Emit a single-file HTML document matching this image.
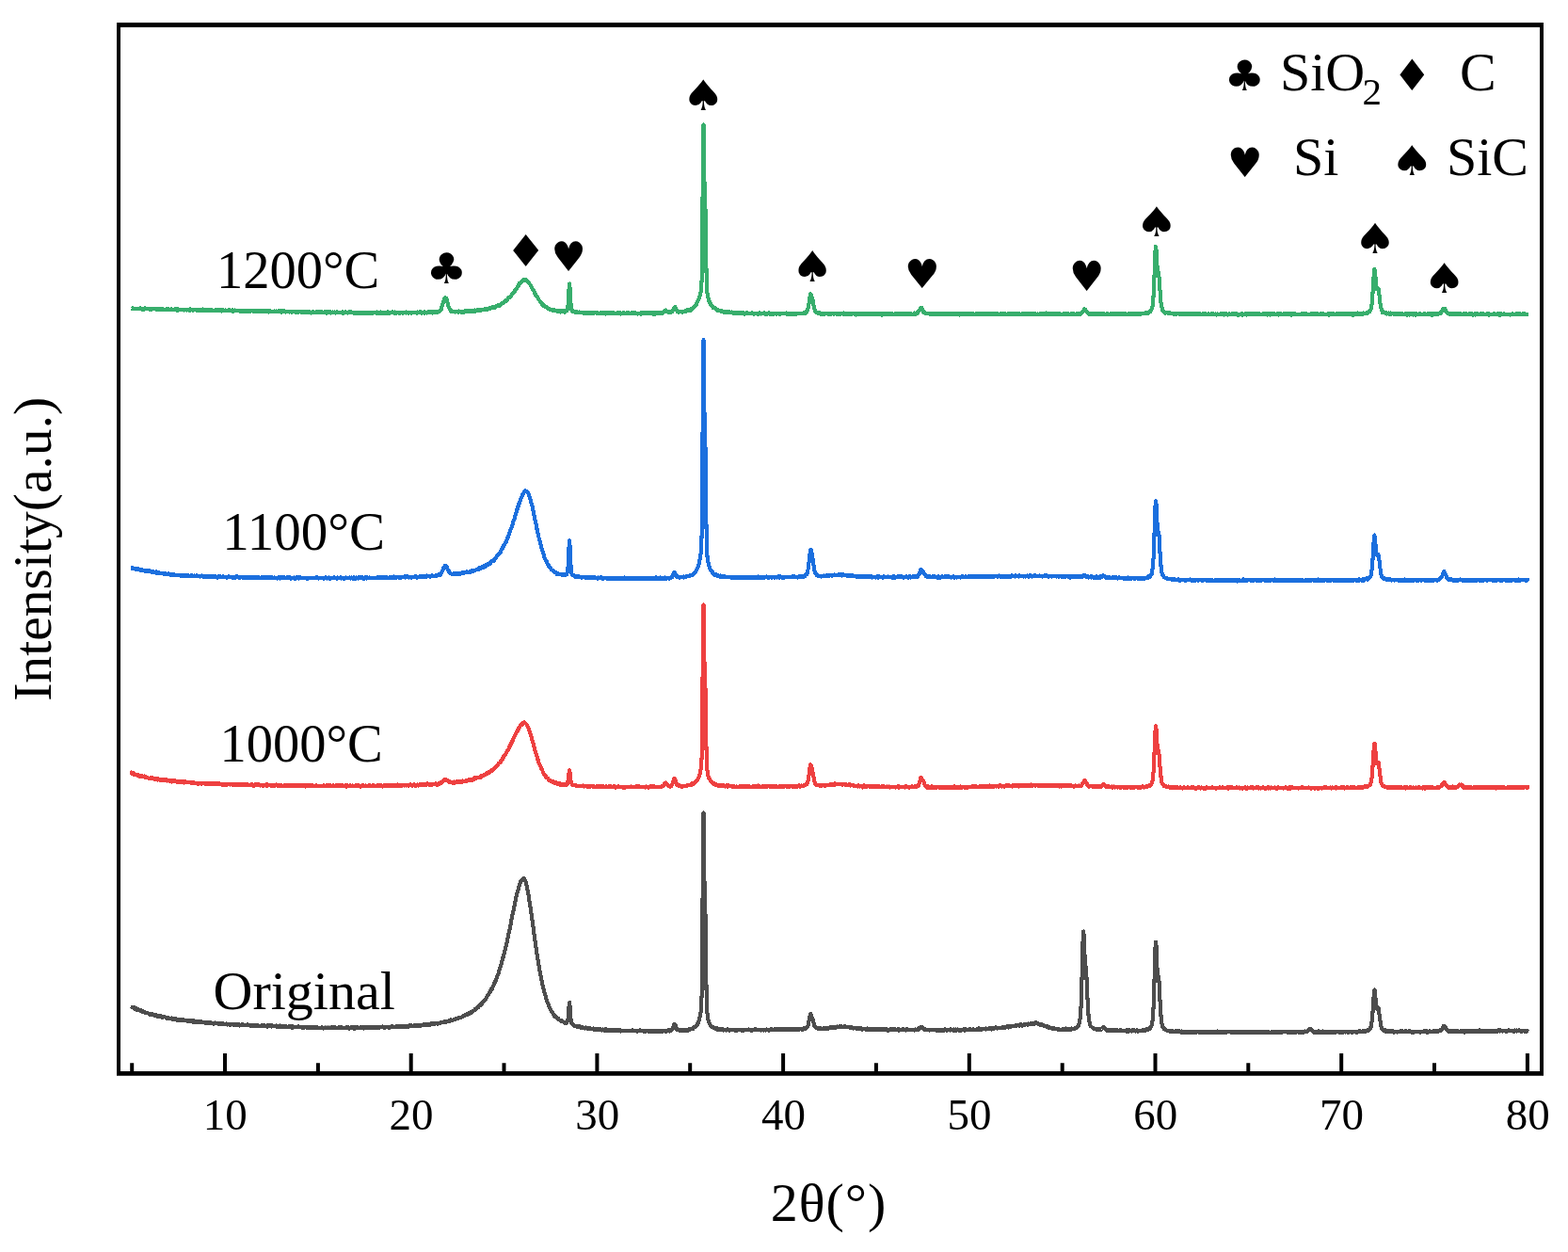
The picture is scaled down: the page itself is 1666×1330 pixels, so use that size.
<!DOCTYPE html>
<html><head><meta charset="utf-8"><style>html,body{margin:0;padding:0;background:#fff;overflow:hidden}svg{display:block}</style></head><body><svg width="1666" height="1330" viewBox="0 0 1666 1330" font-family="'Liberation Serif',serif">
<rect x="0" y="0" width="1666" height="1330" fill="#fff"/>
<defs>
<path id="ck" d="M139.5 1069.2L139.9 1069.5 140.3 1070.4 140.7 1070.2 141.1 1069.6 141.5 1070.3 141.9 1070.3 142.3 1070.7 142.7 1070.3 143.1 1071.1 143.5 1071.3 143.8 1071.9 144.2 1071.6 144.6 1071.9 145.0 1071.3 145.4 1072.8 145.8 1071.5 146.2 1072.8 146.6 1072.4 147.0 1072.4 147.4 1072.6 147.8 1072.8 148.2 1073.3 148.6 1073.3 149.0 1074.0 149.4 1073.0 149.8 1073.8 150.2 1073.7 150.6 1074.4 151.0 1073.5 151.4 1074.3 151.8 1074.7 152.2 1074.2 152.5 1075.2 152.9 1075.1 153.3 1075.5 153.7 1075.6 154.1 1075.1 154.5 1075.3 154.9 1075.6 155.3 1076.1 155.7 1076.3 156.1 1075.9 156.5 1076.0 156.9 1076.1 157.3 1076.3 157.7 1076.5 158.1 1076.7 158.5 1077.6 158.9 1076.8 159.3 1077.0 159.7 1077.4 160.1 1077.0 160.5 1077.3 160.8 1077.5 161.2 1077.9 161.6 1077.3 162.0 1078.3 162.4 1077.8 162.8 1078.1 163.2 1078.4 163.6 1078.5 164.0 1078.7 164.4 1078.5 164.8 1078.5 165.2 1078.7 165.6 1078.4 166.0 1079.2 166.4 1078.6 166.8 1078.5 167.2 1079.8 167.6 1079.1 168.0 1078.8 168.4 1080.0 168.8 1079.3 169.2 1079.9 169.5 1079.3 169.9 1079.6 170.3 1079.2 170.7 1079.2 171.1 1079.6 171.5 1080.0 171.9 1080.4 172.3 1081.1 172.7 1079.9 173.1 1080.7 173.5 1080.2 173.9 1080.5 174.3 1080.1 174.7 1080.2 175.1 1080.5 175.5 1080.4 175.9 1080.9 176.3 1080.7 176.7 1081.5 177.1 1081.2 177.5 1081.3 177.8 1081.7 178.2 1081.5 178.6 1081.4 179.0 1081.5 179.4 1081.5 179.8 1082.0 180.2 1082.0 180.6 1081.9 181.0 1082.1 181.4 1081.7 181.8 1082.2 182.2 1081.5 182.6 1082.6 183.0 1082.2 183.4 1082.3 183.8 1082.5 184.2 1082.4 184.6 1082.3 185.0 1082.9 185.4 1082.6 185.8 1082.3 186.2 1082.8 186.5 1082.1 186.9 1083.4 187.3 1082.8 187.7 1082.9 188.1 1083.7 188.5 1083.8 188.9 1083.1 189.3 1083.3 189.7 1083.5 190.1 1083.8 190.5 1083.2 190.9 1083.4 191.3 1083.8 191.7 1083.5 192.1 1083.7 192.5 1083.7 192.9 1083.2 193.3 1083.3 193.7 1082.7 194.1 1083.6 194.5 1084.2 194.8 1083.4 195.2 1084.3 195.6 1084.2 196.0 1083.9 196.4 1084.0 196.8 1084.1 197.2 1083.8 197.6 1084.0 198.0 1084.1 198.4 1084.4 198.8 1084.5 199.2 1084.0 199.6 1084.6 200.0 1084.1 200.4 1084.4 200.8 1084.6 201.2 1084.5 201.6 1084.5 202.0 1084.7 202.4 1084.4 202.8 1084.4 203.1 1084.6 203.5 1085.1 203.9 1084.8 204.3 1085.5 204.7 1084.9 205.1 1083.9 205.5 1084.8 205.9 1085.6 206.3 1085.0 206.7 1084.9 207.1 1084.8 207.5 1085.6 207.9 1085.5 208.3 1085.5 208.7 1085.4 209.1 1085.8 209.5 1085.6 209.9 1084.9 210.3 1085.7 210.7 1085.5 211.1 1085.4 211.5 1085.8 211.8 1085.6 212.2 1084.6 212.6 1086.2 213.0 1086.0 213.4 1085.7 213.8 1085.6 214.2 1085.9 214.6 1085.4 215.0 1086.0 215.4 1085.8 215.8 1085.8 216.2 1085.6 216.6 1085.7 217.0 1086.4 217.4 1086.5 217.8 1086.3 218.2 1086.1 218.6 1085.8 219.0 1086.4 219.4 1086.8 219.8 1085.7 220.1 1086.7 220.5 1085.6 220.9 1086.2 221.3 1086.5 221.7 1085.9 222.1 1085.9 222.5 1086.5 222.9 1086.8 223.3 1086.4 223.7 1087.0 224.1 1086.3 224.5 1087.2 224.9 1086.7 225.3 1086.8 225.7 1086.9 226.1 1086.9 226.5 1087.4 226.9 1087.6 227.3 1087.0 227.7 1086.8 228.1 1086.5 228.5 1086.7 228.8 1087.0 229.2 1087.0 229.6 1087.0 230.0 1087.1 230.4 1087.3 230.8 1086.6 231.2 1086.8 231.6 1087.6 232.0 1087.5 232.4 1087.0 232.8 1087.7 233.2 1087.0 233.6 1087.2 234.0 1086.7 234.4 1087.7 234.8 1087.4 235.2 1087.8 235.6 1087.7 236.0 1087.5 236.4 1087.5 236.8 1087.9 237.1 1087.5 237.5 1087.5 237.9 1087.6 238.3 1087.9 238.7 1088.0 239.1 1088.3 239.5 1087.7 239.9 1088.2 240.3 1087.5 240.7 1088.0 241.1 1087.9 241.5 1088.4 241.9 1088.1 242.3 1087.7 242.7 1088.1 243.1 1088.1 243.5 1087.8 243.9 1087.9 244.3 1087.7 244.7 1089.0 245.1 1088.1 245.5 1088.4 245.8 1087.7 246.2 1087.7 246.6 1088.1 247.0 1088.1 247.4 1088.5 247.8 1087.9 248.2 1088.4 248.6 1088.8 249.0 1088.0 249.4 1088.6 249.8 1088.0 250.2 1088.5 250.6 1088.5 251.0 1089.0 251.4 1088.2 251.8 1088.5 252.2 1088.8 252.6 1088.1 253.0 1088.5 253.4 1088.2 253.8 1088.3 254.1 1088.8 254.5 1088.8 254.9 1089.5 255.3 1089.1 255.7 1089.1 256.1 1088.6 256.5 1088.6 256.9 1088.8 257.3 1087.9 257.7 1089.3 258.1 1088.5 258.5 1088.4 258.9 1088.6 259.3 1089.1 259.7 1089.3 260.1 1088.7 260.5 1089.0 260.9 1088.9 261.3 1088.6 261.7 1089.0 262.1 1089.0 262.5 1088.4 262.8 1089.4 263.2 1088.5 263.6 1089.1 264.0 1088.7 264.4 1088.8 264.8 1088.9 265.2 1089.4 265.6 1088.7 266.0 1089.1 266.4 1089.7 266.8 1089.0 267.2 1089.2 267.6 1089.5 268.0 1089.0 268.4 1089.4 268.8 1089.1 269.2 1089.6 269.6 1089.3 270.0 1089.0 270.4 1089.9 270.8 1089.4 271.1 1089.3 271.5 1089.1 271.9 1089.3 272.3 1089.4 272.7 1089.5 273.1 1089.9 273.5 1089.1 273.9 1089.4 274.3 1090.0 274.7 1089.6 275.1 1089.7 275.5 1090.2 275.9 1089.7 276.3 1089.8 276.7 1089.6 277.1 1090.3 277.5 1090.1 277.9 1089.5 278.3 1089.9 278.7 1089.3 279.1 1090.1 279.5 1090.0 279.8 1089.7 280.2 1089.7 280.6 1089.2 281.0 1090.1 281.4 1089.8 281.8 1089.8 282.2 1090.1 282.6 1089.7 283.0 1089.7 283.4 1089.7 283.8 1089.5 284.2 1090.8 284.6 1089.9 285.0 1089.9 285.4 1090.3 285.8 1088.9 286.2 1090.0 286.6 1090.1 287.0 1089.8 287.4 1090.3 287.8 1089.4 288.1 1090.1 288.5 1090.5 288.9 1089.4 289.3 1089.7 289.7 1090.1 290.1 1090.2 290.5 1090.0 290.9 1090.3 291.3 1090.3 291.7 1089.8 292.1 1090.2 292.5 1089.8 292.9 1089.6 293.3 1089.5 293.7 1090.7 294.1 1090.3 294.5 1091.0 294.9 1089.8 295.3 1090.2 295.7 1090.5 296.1 1090.3 296.4 1090.6 296.8 1090.5 297.2 1090.2 297.6 1089.6 298.0 1090.1 298.4 1091.1 298.8 1090.8 299.2 1091.0 299.6 1090.3 300.0 1090.5 300.4 1090.3 300.8 1090.7 301.2 1090.6 301.6 1090.8 302.0 1091.2 302.4 1090.3 302.8 1090.9 303.2 1090.2 303.6 1091.1 304.0 1090.5 304.4 1090.7 304.8 1090.8 305.1 1091.3 305.5 1090.7 305.9 1090.6 306.3 1090.4 306.7 1090.9 307.1 1090.5 307.5 1090.6 307.9 1090.8 308.3 1091.1 308.7 1090.6 309.1 1091.1 309.5 1091.5 309.9 1090.4 310.3 1091.4 310.7 1091.7 311.1 1090.7 311.5 1091.1 311.9 1090.5 312.3 1091.1 312.7 1090.9 313.1 1091.1 313.4 1090.7 313.8 1090.7 314.2 1090.9 314.6 1090.8 315.0 1090.8 315.4 1091.0 315.8 1090.7 316.2 1091.0 316.6 1091.2 317.0 1090.3 317.4 1091.2 317.8 1090.8 318.2 1090.7 318.6 1090.7 319.0 1090.8 319.4 1090.9 319.8 1091.3 320.2 1090.7 320.6 1091.5 321.0 1090.9 321.4 1091.4 321.8 1091.6 322.1 1090.8 322.5 1091.6 322.9 1092.0 323.3 1091.1 323.7 1091.5 324.1 1091.2 324.5 1091.3 324.9 1091.2 325.3 1091.1 325.7 1091.6 326.1 1091.7 326.5 1091.4 326.9 1091.9 327.3 1091.8 327.7 1091.6 328.1 1091.1 328.5 1092.1 328.9 1091.9 329.3 1090.7 329.7 1091.1 330.1 1091.3 330.4 1091.8 330.8 1091.9 331.2 1091.4 331.6 1091.6 332.0 1091.7 332.4 1091.1 332.8 1091.7 333.2 1091.4 333.6 1091.6 334.0 1091.5 334.4 1091.1 334.8 1091.2 335.2 1091.6 335.6 1091.6 336.0 1091.5 336.4 1091.9 336.8 1091.5 337.2 1091.2 337.6 1091.5 338.0 1091.5 338.4 1091.6 338.8 1092.0 339.1 1091.8 339.5 1092.0 339.9 1091.9 340.3 1091.6 340.7 1092.0 341.1 1091.6 341.5 1091.7 341.9 1091.3 342.3 1091.7 342.7 1091.6 343.1 1091.8 343.5 1092.3 343.9 1092.5 344.3 1092.1 344.7 1091.7 345.1 1092.0 345.5 1091.8 345.9 1091.5 346.3 1091.7 346.7 1091.6 347.1 1091.5 347.4 1092.2 347.8 1091.6 348.2 1091.6 348.6 1092.0 349.0 1091.5 349.4 1091.4 349.8 1091.5 350.2 1091.9 350.6 1091.9 351.0 1091.9 351.4 1091.6 351.8 1091.5 352.2 1092.1 352.6 1091.3 353.0 1091.7 353.4 1091.3 353.8 1091.7 354.2 1091.7 354.6 1092.2 355.0 1090.8 355.4 1092.3 355.8 1091.5 356.1 1091.9 356.5 1092.1 356.9 1091.5 357.3 1091.8 357.7 1092.0 358.1 1091.8 358.5 1091.6 358.9 1091.9 359.3 1091.9 359.7 1091.3 360.1 1092.3 360.5 1091.9 360.9 1091.0 361.3 1091.5 361.7 1092.4 362.1 1092.4 362.5 1091.9 362.9 1091.2 363.3 1091.8 363.7 1092.2 364.1 1092.0 364.4 1091.7 364.8 1091.6 365.2 1092.1 365.6 1091.8 366.0 1092.0 366.4 1092.0 366.8 1092.4 367.2 1091.9 367.6 1091.9 368.0 1091.2 368.4 1092.2 368.8 1092.2 369.2 1091.8 369.6 1091.0 370.0 1091.6 370.4 1091.9 370.8 1092.6 371.2 1092.0 371.6 1092.1 372.0 1092.1 372.4 1092.3 372.8 1091.4 373.1 1091.5 373.5 1091.4 373.9 1091.7 374.3 1091.7 374.7 1091.9 375.1 1091.5 375.5 1091.8 375.9 1091.5 376.3 1092.6 376.7 1091.6 377.1 1092.7 377.5 1092.4 377.9 1091.4 378.3 1092.1 378.7 1092.0 379.1 1091.3 379.5 1092.0 379.9 1091.8 380.3 1091.9 380.7 1091.5 381.1 1091.8 381.4 1091.9 381.8 1091.7 382.2 1091.6 382.6 1091.7 383.0 1091.4 383.4 1091.9 383.8 1090.9 384.2 1092.3 384.6 1091.8 385.0 1091.9 385.4 1092.0 385.8 1091.3 386.2 1092.5 386.6 1091.3 387.0 1091.9 387.4 1091.8 387.8 1092.2 388.2 1091.7 388.6 1091.2 389.0 1091.8 389.4 1090.8 389.8 1091.6 390.1 1091.5 390.5 1092.2 390.9 1091.6 391.3 1091.5 391.7 1091.4 392.1 1091.3 392.5 1091.4 392.9 1091.8 393.3 1091.2 393.7 1091.5 394.1 1091.1 394.5 1091.5 394.9 1091.6 395.3 1091.1 395.7 1091.4 396.1 1091.6 396.5 1091.8 396.9 1091.9 397.3 1091.5 397.7 1091.2 398.1 1091.0 398.4 1091.8 398.8 1092.0 399.2 1091.6 399.6 1092.0 400.0 1091.3 400.4 1091.3 400.8 1092.0 401.2 1091.1 401.6 1091.7 402.0 1091.6 402.4 1091.5 402.8 1092.0 403.2 1091.1 403.6 1091.3 404.0 1090.7 404.4 1091.0 404.8 1091.2 405.2 1091.2 405.6 1091.3 406.0 1091.4 406.4 1091.1 406.7 1090.6 407.1 1091.4 407.5 1091.4 407.9 1090.9 408.3 1091.0 408.7 1091.9 409.1 1091.6 409.5 1091.6 409.9 1091.5 410.3 1091.3 410.7 1091.0 411.1 1091.4 411.5 1091.1 411.9 1091.0 412.3 1091.1 412.7 1091.1 413.1 1091.4 413.5 1090.8 413.9 1092.0 414.3 1090.7 414.7 1090.9 415.1 1091.4 415.4 1090.8 415.8 1090.9 416.2 1091.0 416.6 1090.0 417.0 1090.8 417.4 1090.6 417.8 1090.9 418.2 1091.1 418.6 1091.2 419.0 1091.4 419.4 1091.4 419.8 1091.2 420.2 1090.9 420.6 1091.2 421.0 1090.5 421.4 1090.8 421.8 1091.3 422.2 1091.1 422.6 1090.3 423.0 1090.5 423.4 1091.0 423.7 1090.9 424.1 1091.1 424.5 1090.1 424.9 1090.2 425.3 1090.5 425.7 1090.3 426.1 1090.6 426.5 1090.6 426.9 1090.7 427.3 1090.5 427.7 1090.7 428.1 1090.8 428.5 1090.5 428.9 1090.0 429.3 1090.9 429.7 1090.5 430.1 1090.5 430.5 1090.4 430.9 1089.8 431.3 1090.5 431.7 1090.1 432.1 1089.9 432.4 1090.7 432.8 1090.1 433.2 1090.3 433.6 1090.5 434.0 1090.7 434.4 1089.5 434.8 1089.8 435.2 1090.3 435.6 1089.8 436.0 1088.9 436.4 1090.1 436.8 1090.1 437.2 1090.2 437.6 1090.0 438.0 1089.7 438.4 1089.9 438.8 1089.8 439.2 1089.6 439.6 1089.9 440.0 1089.9 440.4 1089.4 440.7 1090.1 441.1 1090.0 441.5 1089.9 441.9 1088.6 442.3 1089.6 442.7 1089.5 443.1 1089.2 443.5 1089.7 443.9 1088.9 444.3 1089.8 444.7 1089.5 445.1 1089.2 445.5 1089.8 445.9 1089.4 446.3 1089.4 446.7 1088.7 447.1 1089.4 447.5 1089.6 447.9 1089.5 448.3 1088.6 448.7 1089.5 449.1 1089.5 449.4 1089.2 449.8 1088.8 450.2 1088.3 450.6 1088.5 451.0 1088.6 451.4 1088.8 451.8 1088.9 452.2 1088.4 452.6 1088.0 453.0 1088.4 453.4 1088.0 453.8 1088.9 454.2 1088.0 454.6 1088.5 455.0 1088.6 455.4 1087.9 455.8 1088.6 456.2 1088.1 456.6 1087.9 457.0 1087.8 457.4 1088.1 457.7 1088.4 458.1 1087.3 458.5 1088.1 458.9 1087.8 459.3 1087.5 459.7 1087.7 460.1 1087.7 460.5 1087.6 460.9 1087.9 461.3 1087.2 461.7 1088.1 462.1 1087.7 462.5 1087.1 462.9 1086.6 463.3 1087.2 463.7 1087.0 464.1 1087.4 464.5 1087.3 464.9 1087.7 465.3 1086.9 465.7 1087.1 466.1 1086.6 466.4 1086.6 466.8 1087.2 467.2 1086.5 467.6 1086.5 468.0 1086.3 468.4 1086.5 468.8 1086.5 469.2 1086.2 469.6 1085.8 470.0 1086.2 470.4 1085.7 470.8 1085.8 471.2 1085.9 471.6 1085.9 472.0 1084.9 472.4 1086.2 472.8 1085.8 473.2 1086.1 473.6 1086.3 474.0 1085.0 474.4 1085.0 474.7 1085.2 475.1 1085.4 475.5 1084.8 475.9 1084.7 476.3 1085.1 476.7 1084.3 477.1 1084.6 477.5 1084.8 477.9 1084.3 478.3 1084.5 478.7 1084.1 479.1 1083.5 479.5 1083.8 479.9 1083.8 480.3 1083.6 480.7 1083.6 481.1 1083.7 481.5 1083.5 481.9 1083.4 482.3 1083.0 482.7 1083.0 483.1 1082.8 483.4 1082.6 483.8 1083.2 484.2 1081.9 484.6 1082.5 485.0 1081.7 485.4 1082.0 485.8 1082.3 486.2 1081.8 486.6 1082.3 487.0 1081.3 487.4 1081.4 487.8 1081.1 488.2 1081.2 488.6 1080.9 489.0 1080.8 489.4 1080.8 489.8 1081.0 490.2 1080.5 490.6 1080.3 491.0 1080.0 491.4 1079.7 491.7 1079.3 492.1 1079.2 492.5 1079.4 492.9 1078.6 493.3 1079.3 493.7 1078.7 494.1 1078.4 494.5 1078.3 494.9 1078.5 495.3 1078.2 495.7 1078.0 496.1 1078.3 496.5 1078.3 496.9 1076.9 497.3 1077.4 497.7 1076.6 498.1 1076.2 498.5 1076.3 498.9 1076.6 499.3 1075.9 499.7 1075.6 500.1 1076.0 500.4 1075.5 500.8 1075.0 501.2 1075.5 501.6 1074.7 502.0 1074.1 502.4 1073.7 502.8 1073.6 503.2 1073.6 503.6 1073.6 504.0 1073.2 504.4 1072.7 504.8 1071.9 505.2 1072.4 505.6 1071.8 506.0 1071.0 506.4 1070.7 506.8 1070.8 507.2 1070.5 507.6 1070.4 508.0 1069.3 508.4 1070.1 508.7 1068.4 509.1 1068.6 509.5 1068.7 509.9 1068.3 510.3 1067.2 510.7 1067.3 511.1 1067.1 511.5 1066.5 511.9 1065.5 512.3 1066.0 512.7 1064.4 513.1 1064.5 513.5 1063.7 513.9 1063.4 514.3 1063.0 514.7 1062.8 515.1 1061.7 515.5 1061.7 515.9 1061.5 516.3 1060.6 516.7 1060.2 517.0 1059.6 517.4 1058.6 517.8 1058.1 518.2 1057.7 518.6 1057.2 519.0 1057.2 519.4 1056.4 519.8 1055.0 520.2 1054.4 520.6 1053.5 521.0 1052.3 521.4 1052.9 521.8 1051.9 522.2 1050.3 522.6 1050.2 523.0 1050.3 523.4 1048.8 523.8 1048.0 524.2 1047.1 524.6 1045.9 525.0 1044.9 525.4 1044.1 525.7 1043.6 526.1 1042.5 526.5 1041.9 526.9 1041.3 527.3 1039.9 527.7 1039.0 528.1 1037.5 528.5 1036.1 528.9 1036.3 529.3 1034.7 529.7 1033.7 530.1 1032.0 530.5 1030.3 530.9 1030.2 531.3 1027.8 531.7 1027.2 532.1 1025.8 532.5 1024.7 532.9 1023.6 533.3 1022.2 533.7 1019.8 534.0 1019.5 534.4 1017.0 534.8 1016.4 535.2 1014.5 535.6 1012.8 536.0 1011.4 536.4 1009.5 536.8 1008.4 537.2 1007.1 537.6 1005.3 538.0 1003.3 538.4 1002.0 538.8 1000.0 539.2 998.8 539.6 996.4 540.0 994.2 540.4 992.4 540.8 990.4 541.2 988.7 541.6 986.8 542.0 985.2 542.4 983.3 542.7 981.0 543.1 979.2 543.5 976.8 543.9 974.9 544.3 972.2 544.7 970.8 545.1 969.0 545.5 968.1 545.9 964.7 546.3 963.3 546.7 961.3 547.1 958.9 547.5 957.7 547.9 955.8 548.3 953.5 548.7 951.4 549.1 950.5 549.5 948.4 549.9 947.5 550.3 945.7 550.7 944.5 551.0 942.8 551.4 942.2 551.8 940.7 552.2 939.8 552.6 938.3 553.0 937.0 553.4 936.0 553.8 935.6 554.2 935.2 554.6 934.4 555.0 935.0 555.4 933.8 555.8 933.8 556.2 933.6 556.6 933.2 557.0 934.3 557.4 934.7 557.8 935.5 558.2 935.7 558.6 937.2 559.0 938.4 559.4 940.3 559.7 941.0 560.1 943.6 560.5 945.7 560.9 947.2 561.3 949.3 561.7 952.4 562.1 954.4 562.5 957.2 562.9 959.7 563.3 962.5 563.7 964.8 564.1 966.9 564.5 970.7 564.9 973.1 565.3 976.4 565.7 978.9 566.1 982.6 566.5 984.8 566.9 988.1 567.3 991.1 567.7 993.6 568.0 996.6 568.4 999.3 568.8 1001.7 569.2 1005.3 569.6 1007.2 570.0 1009.6 570.4 1012.6 570.8 1015.4 571.2 1017.9 571.6 1020.3 572.0 1022.6 572.4 1024.4 572.8 1027.7 573.2 1030.4 573.6 1031.7 574.0 1033.5 574.4 1036.5 574.8 1038.1 575.2 1038.7 575.6 1041.8 576.0 1043.4 576.4 1045.3 576.7 1048.2 577.1 1049.5 577.5 1050.7 577.9 1052.4 578.3 1054.4 578.7 1054.9 579.1 1057.0 579.5 1057.9 579.9 1059.7 580.3 1060.8 580.7 1061.6 581.1 1063.4 581.5 1064.4 581.9 1065.9 582.3 1066.1 582.7 1067.3 583.1 1068.0 583.5 1069.6 583.9 1069.7 584.3 1070.8 584.7 1072.1 585.0 1072.6 585.4 1073.3 585.8 1074.0 586.2 1074.7 586.6 1075.4 587.0 1075.7 587.4 1075.7 587.8 1077.4 588.2 1077.1 588.6 1078.7 589.0 1078.6 589.4 1080.1 589.8 1079.9 590.2 1080.0 590.6 1080.6 591.0 1080.2 591.4 1081.1 591.8 1081.3 592.2 1081.8 592.6 1081.4 593.0 1081.7 593.4 1083.0 593.7 1083.1 594.1 1083.2 594.5 1083.6 594.9 1083.6 595.3 1083.9 595.7 1084.6 596.1 1084.5 596.5 1085.1 596.9 1084.8 597.3 1084.6 597.7 1085.2 598.1 1085.5 598.5 1085.4 598.9 1085.8 599.3 1085.9 599.7 1086.5 600.1 1086.6 600.5 1086.8 600.9 1086.2 601.3 1086.6 601.7 1086.9 602.0 1086.4 602.4 1086.1 602.8 1085.2 603.2 1084.5 603.6 1081.6 604.0 1077.4 604.4 1071.2 604.8 1066.7 605.2 1065.0 605.6 1069.0 606.0 1075.8 606.4 1081.2 606.8 1084.9 607.2 1086.3 607.6 1087.3 608.0 1088.0 608.4 1088.4 608.8 1088.1 609.2 1089.3 609.6 1089.7 610.0 1089.2 610.3 1089.3 610.7 1089.7 611.1 1089.6 611.5 1090.3 611.9 1089.9 612.3 1090.5 612.7 1089.9 613.1 1089.9 613.5 1090.0 613.9 1090.1 614.3 1090.9 614.7 1091.1 615.1 1091.0 615.5 1091.1 615.9 1090.3 616.3 1091.5 616.7 1090.8 617.1 1091.8 617.5 1092.2 617.9 1091.5 618.3 1091.7 618.7 1091.8 619.0 1091.2 619.4 1091.3 619.8 1091.5 620.2 1091.9 620.6 1092.2 621.0 1092.0 621.4 1092.4 621.8 1091.9 622.2 1091.6 622.6 1092.2 623.0 1092.2 623.4 1091.8 623.8 1092.7 624.2 1092.0 624.6 1092.2 625.0 1092.6 625.4 1092.1 625.8 1092.8 626.2 1092.8 626.6 1092.8 627.0 1092.7 627.3 1092.6 627.7 1092.5 628.1 1093.0 628.5 1093.4 628.9 1093.2 629.3 1093.1 629.7 1093.4 630.1 1093.5 630.5 1092.6 630.9 1093.1 631.3 1093.6 631.7 1093.0 632.1 1093.1 632.5 1093.5 632.9 1093.2 633.3 1093.8 633.7 1093.3 634.1 1093.6 634.5 1094.4 634.9 1093.9 635.3 1093.0 635.7 1093.2 636.0 1093.2 636.4 1093.6 636.8 1093.1 637.2 1093.9 637.6 1094.3 638.0 1094.3 638.4 1093.5 638.8 1093.7 639.2 1093.7 639.6 1093.6 640.0 1094.5 640.4 1093.7 640.8 1093.5 641.2 1094.1 641.6 1094.1 642.0 1094.6 642.4 1094.6 642.8 1094.0 643.2 1093.3 643.6 1094.3 644.0 1094.4 644.3 1094.8 644.7 1093.6 645.1 1093.8 645.5 1094.8 645.9 1094.8 646.3 1094.7 646.7 1094.3 647.1 1094.8 647.5 1094.1 647.9 1093.9 648.3 1094.3 648.7 1094.4 649.1 1094.7 649.5 1094.8 649.9 1093.8 650.3 1094.6 650.7 1094.6 651.1 1094.0 651.5 1094.4 651.9 1094.5 652.3 1094.7 652.7 1094.3 653.0 1094.4 653.4 1094.2 653.8 1094.7 654.2 1094.5 654.6 1094.4 655.0 1094.9 655.4 1094.6 655.8 1094.3 656.2 1095.1 656.6 1095.1 657.0 1094.9 657.4 1094.4 657.8 1095.2 658.2 1094.6 658.6 1094.1 659.0 1094.8 659.4 1095.5 659.8 1094.7 660.2 1095.1 660.6 1095.3 661.0 1094.9 661.3 1094.8 661.7 1094.9 662.1 1095.1 662.5 1094.7 662.9 1095.1 663.3 1095.1 663.7 1094.8 664.1 1095.2 664.5 1095.2 664.9 1094.9 665.3 1094.9 665.7 1095.1 666.1 1095.0 666.5 1095.0 666.9 1094.7 667.3 1095.1 667.7 1095.3 668.1 1095.3 668.5 1094.8 668.9 1095.3 669.3 1095.3 669.7 1094.8 670.0 1095.3 670.4 1095.1 670.8 1095.0 671.2 1095.2 671.6 1095.1 672.0 1094.4 672.4 1095.2 672.8 1094.8 673.2 1095.1 673.6 1095.4 674.0 1095.1 674.4 1095.0 674.8 1095.3 675.2 1095.4 675.6 1094.9 676.0 1095.0 676.4 1095.4 676.8 1095.8 677.2 1095.2 677.6 1095.5 678.0 1095.0 678.3 1095.3 678.7 1095.3 679.1 1094.8 679.5 1095.3 679.9 1095.2 680.3 1094.4 680.7 1095.2 681.1 1095.4 681.5 1095.4 681.9 1095.4 682.3 1094.9 682.7 1095.0 683.1 1095.2 683.5 1095.0 683.9 1095.1 684.3 1095.7 684.7 1095.0 685.1 1095.2 685.5 1095.9 685.9 1095.3 686.3 1095.0 686.7 1095.4 687.0 1095.4 687.4 1095.4 687.8 1094.7 688.2 1095.4 688.6 1095.5 689.0 1096.0 689.4 1095.6 689.8 1095.2 690.2 1095.4 690.6 1095.6 691.0 1095.3 691.4 1095.3 691.8 1095.8 692.2 1095.5 692.6 1095.5 693.0 1095.0 693.4 1095.5 693.8 1094.7 694.2 1095.8 694.6 1095.2 695.0 1095.6 695.3 1095.8 695.7 1095.0 696.1 1095.7 696.5 1095.4 696.9 1095.7 697.3 1095.2 697.7 1095.1 698.1 1095.8 698.5 1095.5 698.9 1095.3 699.3 1094.9 699.7 1095.8 700.1 1095.2 700.5 1095.2 700.9 1095.1 701.3 1095.3 701.7 1095.5 702.1 1095.3 702.5 1095.3 702.9 1095.1 703.3 1095.8 703.7 1095.8 704.0 1095.2 704.4 1094.9 704.8 1095.3 705.2 1094.7 705.6 1095.3 706.0 1095.3 706.4 1095.3 706.8 1095.7 707.2 1095.8 707.6 1095.3 708.0 1095.0 708.4 1095.5 708.8 1095.5 709.2 1094.7 709.6 1094.8 710.0 1094.9 710.4 1094.4 710.8 1094.6 711.2 1095.5 711.6 1094.4 712.0 1095.1 712.3 1094.5 712.7 1095.0 713.1 1094.6 713.5 1094.6 713.9 1093.4 714.3 1093.5 714.7 1092.5 715.1 1092.0 715.5 1090.9 715.9 1089.6 716.3 1088.5 716.7 1088.1 717.1 1088.4 717.5 1088.9 717.9 1090.0 718.3 1091.0 718.7 1091.9 719.1 1093.3 719.5 1093.1 719.9 1094.4 720.3 1094.4 720.6 1093.7 721.0 1093.8 721.4 1094.5 721.8 1094.1 722.2 1094.6 722.6 1094.9 723.0 1094.7 723.4 1094.5 723.8 1094.5 724.2 1095.0 724.6 1094.4 725.0 1095.1 725.4 1095.2 725.8 1094.3 726.2 1094.5 726.6 1095.0 727.0 1094.1 727.4 1094.5 727.8 1094.7 728.2 1093.9 728.6 1094.4 729.0 1094.2 729.3 1094.0 729.7 1094.6 730.1 1094.0 730.5 1094.8 730.9 1094.2 731.3 1093.6 731.7 1093.9 732.1 1093.4 732.5 1093.9 732.9 1093.8 733.3 1093.0 733.7 1093.2 734.1 1093.4 734.5 1093.1 734.9 1092.6 735.3 1093.2 735.7 1093.1 736.1 1092.0 736.5 1092.8 736.9 1091.4 737.3 1091.8 737.6 1091.4 738.0 1091.2 738.4 1091.1 738.8 1090.3 739.2 1090.3 739.6 1090.5 740.0 1089.6 740.4 1089.5 740.8 1088.6 741.2 1087.1 741.6 1087.5 742.0 1086.3 742.4 1085.2 742.8 1083.6 743.2 1082.2 743.6 1080.4 744.0 1078.8 744.4 1076.5 744.8 1073.3 745.2 1068.1 745.6 1057.0 746.0 1035.0 746.3 993.6 746.7 935.4 747.1 879.8 747.5 863.4 747.9 892.1 748.3 928.0 748.7 946.3 749.1 954.1 749.5 972.5 749.9 1004.7 750.3 1037.0 750.7 1059.2 751.1 1071.5 751.5 1076.8 751.9 1080.8 752.3 1082.5 752.7 1084.1 753.1 1085.3 753.5 1086.4 753.9 1087.3 754.3 1088.4 754.6 1088.6 755.0 1089.1 755.4 1089.8 755.8 1090.0 756.2 1090.8 756.6 1090.8 757.0 1091.3 757.4 1091.2 757.8 1091.9 758.2 1092.0 758.6 1091.7 759.0 1092.0 759.4 1092.3 759.8 1092.0 760.2 1092.2 760.6 1092.9 761.0 1093.0 761.4 1093.4 761.8 1092.6 762.2 1093.0 762.6 1092.5 763.0 1093.9 763.3 1092.9 763.7 1093.3 764.1 1094.1 764.5 1094.0 764.9 1093.3 765.3 1094.4 765.7 1093.8 766.1 1093.3 766.5 1093.8 766.9 1094.0 767.3 1094.0 767.7 1093.1 768.1 1094.5 768.5 1093.3 768.9 1093.8 769.3 1094.4 769.7 1094.1 770.1 1093.9 770.5 1093.8 770.9 1094.2 771.3 1094.5 771.6 1093.8 772.0 1094.2 772.4 1093.9 772.8 1093.9 773.2 1093.4 773.6 1094.2 774.0 1094.4 774.4 1094.1 774.8 1094.5 775.2 1094.2 775.6 1094.5 776.0 1094.2 776.4 1094.0 776.8 1094.0 777.2 1094.2 777.6 1094.3 778.0 1093.9 778.4 1094.1 778.8 1093.7 779.2 1093.7 779.6 1094.4 780.0 1094.3 780.3 1094.5 780.7 1094.2 781.1 1094.3 781.5 1094.8 781.9 1093.9 782.3 1094.3 782.7 1094.7 783.1 1094.9 783.5 1094.4 783.9 1094.2 784.3 1093.8 784.7 1094.1 785.1 1094.2 785.5 1094.2 785.9 1094.4 786.3 1094.4 786.7 1094.0 787.1 1093.9 787.5 1094.1 787.9 1094.3 788.3 1094.7 788.6 1093.6 789.0 1094.5 789.4 1094.1 789.8 1094.5 790.2 1094.8 790.6 1094.3 791.0 1093.8 791.4 1094.0 791.8 1094.3 792.2 1094.0 792.6 1094.1 793.0 1093.9 793.4 1094.1 793.8 1093.9 794.2 1094.4 794.6 1094.2 795.0 1094.4 795.4 1093.6 795.8 1094.0 796.2 1093.9 796.6 1094.0 797.0 1093.8 797.3 1093.8 797.7 1094.6 798.1 1094.0 798.5 1093.7 798.9 1094.0 799.3 1094.8 799.7 1094.3 800.1 1093.8 800.5 1094.0 800.9 1094.0 801.3 1094.1 801.7 1093.4 802.1 1093.7 802.5 1094.0 802.9 1093.5 803.3 1094.0 803.7 1094.0 804.1 1094.3 804.5 1094.4 804.9 1093.9 805.3 1094.1 805.6 1094.2 806.0 1094.3 806.4 1094.0 806.8 1093.7 807.2 1094.2 807.6 1094.3 808.0 1094.0 808.4 1094.2 808.8 1094.5 809.2 1093.8 809.6 1093.7 810.0 1093.6 810.4 1094.1 810.8 1094.3 811.2 1093.8 811.6 1094.5 812.0 1093.7 812.4 1094.0 812.8 1093.9 813.2 1094.4 813.6 1093.7 814.0 1094.5 814.3 1093.8 814.7 1093.5 815.1 1093.7 815.5 1093.8 815.9 1094.4 816.3 1093.7 816.7 1093.9 817.1 1094.6 817.5 1093.9 817.9 1093.7 818.3 1093.6 818.7 1093.3 819.1 1094.0 819.5 1094.2 819.9 1093.7 820.3 1093.5 820.7 1093.9 821.1 1093.8 821.5 1093.8 821.9 1094.0 822.3 1093.8 822.6 1093.7 823.0 1094.1 823.4 1093.2 823.8 1093.4 824.2 1093.7 824.6 1093.3 825.0 1094.3 825.4 1093.0 825.8 1094.0 826.2 1093.9 826.6 1093.9 827.0 1093.9 827.4 1093.5 827.8 1093.5 828.2 1094.2 828.6 1093.7 829.0 1093.2 829.4 1093.3 829.8 1093.2 830.2 1093.8 830.6 1094.1 830.9 1093.6 831.3 1093.7 831.7 1093.5 832.1 1094.0 832.5 1094.0 832.9 1094.0 833.3 1094.3 833.7 1093.3 834.1 1093.9 834.5 1093.1 834.9 1093.9 835.3 1093.9 835.7 1093.9 836.1 1093.9 836.5 1093.6 836.9 1093.4 837.3 1093.9 837.7 1093.4 838.1 1093.9 838.5 1093.3 838.9 1093.7 839.3 1093.7 839.6 1093.3 840.0 1093.5 840.4 1093.9 840.8 1093.6 841.2 1093.8 841.6 1093.4 842.0 1093.6 842.4 1093.1 842.8 1093.3 843.2 1094.0 843.6 1093.7 844.0 1093.5 844.4 1093.6 844.8 1093.1 845.2 1093.7 845.6 1093.1 846.0 1093.3 846.4 1093.7 846.8 1093.2 847.2 1093.3 847.6 1093.4 847.9 1093.5 848.3 1093.9 848.7 1092.8 849.1 1093.3 849.5 1093.6 849.9 1093.2 850.3 1093.2 850.7 1093.0 851.1 1093.2 851.5 1093.5 851.9 1093.7 852.3 1093.3 852.7 1093.6 853.1 1093.2 853.5 1092.5 853.9 1093.3 854.3 1092.3 854.7 1092.9 855.1 1092.8 855.5 1092.4 855.9 1092.6 856.3 1092.3 856.6 1092.3 857.0 1091.9 857.4 1091.7 857.8 1090.8 858.2 1090.3 858.6 1088.9 859.0 1087.4 859.4 1085.6 859.8 1083.2 860.2 1081.6 860.6 1079.4 861.0 1077.2 861.4 1077.1 861.8 1078.4 862.2 1078.5 862.6 1080.6 863.0 1081.0 863.4 1082.4 863.8 1083.8 864.2 1085.5 864.6 1087.2 864.9 1088.8 865.3 1089.7 865.7 1090.5 866.1 1090.8 866.5 1091.5 866.9 1091.8 867.3 1092.1 867.7 1092.1 868.1 1092.1 868.5 1092.4 868.9 1091.8 869.3 1092.2 869.7 1092.4 870.1 1092.8 870.5 1092.5 870.9 1092.4 871.3 1093.0 871.7 1092.7 872.1 1093.2 872.5 1092.7 872.9 1092.5 873.3 1092.6 873.6 1093.3 874.0 1093.2 874.4 1092.7 874.8 1093.0 875.2 1092.2 875.6 1093.0 876.0 1092.7 876.4 1092.5 876.8 1092.5 877.2 1092.6 877.6 1092.3 878.0 1092.3 878.4 1092.0 878.8 1092.9 879.2 1092.0 879.6 1092.2 880.0 1092.6 880.4 1092.6 880.8 1092.6 881.2 1091.9 881.6 1091.9 881.9 1091.9 882.3 1091.3 882.7 1092.2 883.1 1091.3 883.5 1091.7 883.9 1092.0 884.3 1091.9 884.7 1091.4 885.1 1091.8 885.5 1091.8 885.9 1090.9 886.3 1091.3 886.7 1091.5 887.1 1091.4 887.5 1091.1 887.9 1091.1 888.3 1091.9 888.7 1091.0 889.1 1091.4 889.5 1090.6 889.9 1091.1 890.3 1091.2 890.6 1090.7 891.0 1090.6 891.4 1091.4 891.8 1090.7 892.2 1091.1 892.6 1090.2 893.0 1091.3 893.4 1090.0 893.8 1090.4 894.2 1090.5 894.6 1090.7 895.0 1090.7 895.4 1091.2 895.8 1091.4 896.2 1091.3 896.6 1091.0 897.0 1090.8 897.4 1090.1 897.8 1090.8 898.2 1090.6 898.6 1091.1 898.9 1090.6 899.3 1090.7 899.7 1090.7 900.1 1091.2 900.5 1091.1 900.9 1090.8 901.3 1090.6 901.7 1091.0 902.1 1091.0 902.5 1091.1 902.9 1091.4 903.3 1091.7 903.7 1091.7 904.1 1091.3 904.5 1091.3 904.9 1092.2 905.3 1091.6 905.7 1092.0 906.1 1091.9 906.5 1092.0 906.9 1092.5 907.3 1091.9 907.6 1092.4 908.0 1092.3 908.4 1092.1 908.8 1092.1 909.2 1092.1 909.6 1092.7 910.0 1092.7 910.4 1092.1 910.8 1092.6 911.2 1091.9 911.6 1092.6 912.0 1093.3 912.4 1092.3 912.8 1092.8 913.2 1092.5 913.6 1092.8 914.0 1092.5 914.4 1092.9 914.8 1092.1 915.2 1092.8 915.6 1092.9 915.9 1093.0 916.3 1093.7 916.7 1092.7 917.1 1092.9 917.5 1092.7 917.9 1093.3 918.3 1093.2 918.7 1092.8 919.1 1093.5 919.5 1093.3 919.9 1093.7 920.3 1093.5 920.7 1093.3 921.1 1093.1 921.5 1092.6 921.9 1093.2 922.3 1093.8 922.7 1093.3 923.1 1093.1 923.5 1093.5 923.9 1093.7 924.2 1094.4 924.6 1093.1 925.0 1093.4 925.4 1093.1 925.8 1093.3 926.2 1093.8 926.6 1093.5 927.0 1093.1 927.4 1094.0 927.8 1094.2 928.2 1093.8 928.6 1093.2 929.0 1093.2 929.4 1094.0 929.8 1093.3 930.2 1093.4 930.6 1093.1 931.0 1094.3 931.4 1093.4 931.8 1093.6 932.2 1093.4 932.6 1093.4 932.9 1093.3 933.3 1094.0 933.7 1093.4 934.1 1094.2 934.5 1093.3 934.9 1093.9 935.3 1094.0 935.7 1093.3 936.1 1093.8 936.5 1093.5 936.9 1093.3 937.3 1093.6 937.7 1093.1 938.1 1093.6 938.5 1093.2 938.9 1094.0 939.3 1094.3 939.7 1094.2 940.1 1093.5 940.5 1093.7 940.9 1094.4 941.2 1094.2 941.6 1094.0 942.0 1093.1 942.4 1093.7 942.8 1094.5 943.2 1094.0 943.6 1093.7 944.0 1093.8 944.4 1094.6 944.8 1094.3 945.2 1093.4 945.6 1093.4 946.0 1093.8 946.4 1094.3 946.8 1093.6 947.2 1093.6 947.6 1093.0 948.0 1093.6 948.4 1094.1 948.8 1094.1 949.2 1093.4 949.6 1094.1 949.9 1093.6 950.3 1093.4 950.7 1094.0 951.1 1093.3 951.5 1093.7 951.9 1093.6 952.3 1093.8 952.7 1093.9 953.1 1093.7 953.5 1093.6 953.9 1093.7 954.3 1093.1 954.7 1093.8 955.1 1094.6 955.5 1094.0 955.9 1094.3 956.3 1093.9 956.7 1093.9 957.1 1094.1 957.5 1094.2 957.9 1094.2 958.2 1093.7 958.6 1094.0 959.0 1093.4 959.4 1094.3 959.8 1093.9 960.2 1093.9 960.6 1093.5 961.0 1094.1 961.4 1094.3 961.8 1094.1 962.2 1094.4 962.6 1093.7 963.0 1094.3 963.4 1094.0 963.8 1093.1 964.2 1094.1 964.6 1093.6 965.0 1093.9 965.4 1093.8 965.8 1093.7 966.2 1094.4 966.6 1093.8 966.9 1094.1 967.3 1094.2 967.7 1093.9 968.1 1093.6 968.5 1094.0 968.9 1094.0 969.3 1093.7 969.7 1094.0 970.1 1094.4 970.5 1094.3 970.9 1094.5 971.3 1094.5 971.7 1094.1 972.1 1094.0 972.5 1093.6 972.9 1094.3 973.3 1093.7 973.7 1094.1 974.1 1094.4 974.5 1093.8 974.9 1093.1 975.2 1093.1 975.6 1093.1 976.0 1093.5 976.4 1092.6 976.8 1092.3 977.2 1091.5 977.6 1091.7 978.0 1091.3 978.4 1091.4 978.8 1090.9 979.2 1091.7 979.6 1091.3 980.0 1091.9 980.4 1092.4 980.8 1092.8 981.2 1093.3 981.6 1092.6 982.0 1093.6 982.4 1093.6 982.8 1093.4 983.2 1093.8 983.6 1094.1 983.9 1093.8 984.3 1093.8 984.7 1094.2 985.1 1093.8 985.5 1094.4 985.9 1094.2 986.3 1094.2 986.7 1094.3 987.1 1094.5 987.5 1093.8 987.9 1094.5 988.3 1093.8 988.7 1094.2 989.1 1094.3 989.5 1094.2 989.9 1093.7 990.3 1093.7 990.7 1093.8 991.1 1094.1 991.5 1094.2 991.9 1094.3 992.2 1093.6 992.6 1094.3 993.0 1094.5 993.4 1094.2 993.8 1094.1 994.2 1094.4 994.6 1094.7 995.0 1094.7 995.4 1094.7 995.8 1093.7 996.2 1094.7 996.6 1094.1 997.0 1094.5 997.4 1094.0 997.8 1094.3 998.2 1094.0 998.6 1094.1 999.0 1094.8 999.4 1093.8 999.8 1094.5 1000.2 1094.2 1000.6 1093.8 1000.9 1094.6 1001.3 1094.2 1001.7 1094.0 1002.1 1094.3 1002.5 1093.9 1002.9 1094.7 1003.3 1093.6 1003.7 1094.0 1004.1 1093.5 1004.5 1094.2 1004.9 1094.4 1005.3 1094.5 1005.7 1094.7 1006.1 1094.2 1006.5 1094.0 1006.9 1094.5 1007.3 1093.9 1007.7 1094.3 1008.1 1094.0 1008.5 1093.9 1008.9 1094.1 1009.2 1094.5 1009.6 1094.5 1010.0 1094.2 1010.4 1093.2 1010.8 1094.1 1011.2 1094.3 1011.6 1094.3 1012.0 1093.9 1012.4 1094.5 1012.8 1094.2 1013.2 1093.5 1013.6 1094.4 1014.0 1094.7 1014.4 1094.2 1014.8 1093.8 1015.2 1094.7 1015.6 1094.5 1016.0 1093.5 1016.4 1094.5 1016.8 1094.2 1017.2 1094.2 1017.6 1093.5 1017.9 1093.5 1018.3 1094.1 1018.7 1094.7 1019.1 1094.1 1019.5 1094.1 1019.9 1093.8 1020.3 1093.9 1020.7 1094.4 1021.1 1093.8 1021.5 1094.7 1021.9 1094.2 1022.3 1094.1 1022.7 1094.0 1023.1 1093.8 1023.5 1093.9 1023.9 1093.5 1024.3 1094.0 1024.7 1093.3 1025.1 1094.7 1025.5 1093.9 1025.9 1093.4 1026.2 1094.0 1026.6 1094.0 1027.0 1093.7 1027.4 1094.0 1027.8 1093.6 1028.2 1093.8 1028.6 1093.8 1029.0 1094.0 1029.4 1093.7 1029.8 1093.9 1030.2 1092.9 1030.6 1094.2 1031.0 1093.9 1031.4 1094.0 1031.8 1093.7 1032.2 1094.1 1032.6 1093.8 1033.0 1093.8 1033.4 1093.8 1033.8 1093.6 1034.2 1093.4 1034.5 1093.9 1034.9 1093.9 1035.3 1093.7 1035.7 1094.1 1036.1 1093.7 1036.5 1093.8 1036.9 1094.0 1037.3 1093.9 1037.7 1093.6 1038.1 1093.2 1038.5 1093.3 1038.9 1093.2 1039.3 1093.8 1039.7 1092.3 1040.1 1094.2 1040.5 1093.2 1040.9 1093.9 1041.3 1093.6 1041.7 1093.7 1042.1 1093.0 1042.5 1093.8 1042.9 1093.4 1043.2 1093.6 1043.6 1093.0 1044.0 1093.3 1044.4 1093.1 1044.8 1093.4 1045.2 1093.5 1045.6 1093.2 1046.0 1093.4 1046.4 1093.4 1046.8 1093.2 1047.2 1093.1 1047.6 1092.5 1048.0 1093.5 1048.4 1093.1 1048.8 1093.0 1049.2 1093.1 1049.6 1092.8 1050.0 1092.9 1050.4 1093.1 1050.8 1092.4 1051.2 1092.8 1051.5 1092.9 1051.9 1092.3 1052.3 1092.4 1052.7 1093.2 1053.1 1093.5 1053.5 1092.8 1053.9 1092.9 1054.3 1092.3 1054.7 1093.1 1055.1 1092.6 1055.5 1092.6 1055.9 1092.6 1056.3 1092.3 1056.7 1092.2 1057.1 1092.4 1057.5 1092.0 1057.9 1092.1 1058.3 1091.4 1058.7 1091.9 1059.1 1092.3 1059.5 1092.5 1059.9 1092.3 1060.2 1091.8 1060.6 1092.0 1061.0 1091.6 1061.4 1091.6 1061.8 1092.2 1062.2 1091.7 1062.6 1091.7 1063.0 1091.8 1063.4 1092.0 1063.8 1091.7 1064.2 1091.5 1064.6 1091.7 1065.0 1091.5 1065.4 1091.4 1065.8 1090.7 1066.2 1091.1 1066.6 1091.3 1067.0 1090.9 1067.4 1091.9 1067.8 1092.0 1068.2 1091.7 1068.5 1090.8 1068.9 1091.2 1069.3 1091.1 1069.7 1091.1 1070.1 1090.3 1070.5 1091.2 1070.9 1091.4 1071.3 1091.0 1071.7 1091.4 1072.1 1090.5 1072.5 1090.8 1072.9 1091.0 1073.3 1090.1 1073.7 1090.4 1074.1 1090.1 1074.5 1090.6 1074.9 1089.9 1075.3 1090.3 1075.7 1090.0 1076.1 1090.4 1076.5 1089.9 1076.9 1089.9 1077.2 1090.0 1077.6 1089.6 1078.0 1089.7 1078.4 1089.7 1078.8 1089.5 1079.2 1089.7 1079.6 1089.3 1080.0 1089.6 1080.4 1089.4 1080.8 1089.2 1081.2 1089.0 1081.6 1088.7 1082.0 1089.0 1082.4 1089.4 1082.8 1089.0 1083.2 1089.6 1083.6 1088.7 1084.0 1088.9 1084.4 1088.4 1084.8 1089.3 1085.2 1088.4 1085.5 1088.9 1085.9 1088.8 1086.3 1089.6 1086.7 1089.1 1087.1 1088.9 1087.5 1088.6 1087.9 1089.2 1088.3 1088.4 1088.7 1088.0 1089.1 1088.7 1089.5 1088.3 1089.9 1088.1 1090.3 1088.4 1090.7 1088.4 1091.1 1087.7 1091.5 1088.5 1091.9 1088.8 1092.3 1088.0 1092.7 1087.6 1093.1 1088.2 1093.5 1088.0 1093.9 1088.3 1094.2 1088.3 1094.6 1087.9 1095.0 1088.4 1095.4 1087.2 1095.8 1087.6 1096.2 1087.9 1096.6 1087.9 1097.0 1087.7 1097.4 1087.9 1097.8 1087.2 1098.2 1086.8 1098.6 1087.7 1099.0 1087.7 1099.4 1087.0 1099.8 1086.2 1100.2 1086.1 1100.6 1086.2 1101.0 1086.0 1101.4 1086.4 1101.8 1086.8 1102.2 1087.1 1102.5 1087.0 1102.9 1087.8 1103.3 1087.8 1103.7 1088.0 1104.1 1088.1 1104.5 1088.2 1104.9 1088.0 1105.3 1088.6 1105.7 1088.3 1106.1 1088.7 1106.5 1089.1 1106.9 1089.3 1107.3 1088.5 1107.7 1089.0 1108.1 1089.0 1108.5 1089.6 1108.9 1089.4 1109.3 1090.1 1109.7 1089.7 1110.1 1090.2 1110.5 1089.8 1110.9 1090.0 1111.2 1090.3 1111.6 1090.7 1112.0 1090.0 1112.4 1090.8 1112.8 1090.4 1113.2 1091.1 1113.6 1090.6 1114.0 1091.2 1114.4 1091.8 1114.8 1092.0 1115.2 1091.3 1115.6 1092.3 1116.0 1091.7 1116.4 1092.0 1116.8 1092.2 1117.2 1092.2 1117.6 1092.4 1118.0 1092.4 1118.4 1092.7 1118.8 1092.6 1119.2 1092.4 1119.5 1092.3 1119.9 1092.4 1120.3 1092.8 1120.7 1093.1 1121.1 1093.0 1121.5 1092.9 1121.9 1093.2 1122.3 1092.9 1122.7 1093.2 1123.1 1093.3 1123.5 1093.1 1123.9 1093.7 1124.3 1093.7 1124.7 1093.2 1125.1 1093.6 1125.5 1093.5 1125.9 1093.5 1126.3 1093.6 1126.7 1093.9 1127.1 1093.6 1127.5 1093.6 1127.9 1093.8 1128.2 1093.8 1128.6 1094.1 1129.0 1093.3 1129.4 1093.8 1129.8 1093.0 1130.2 1093.6 1130.6 1093.2 1131.0 1093.1 1131.4 1093.6 1131.8 1093.2 1132.2 1093.5 1132.6 1092.6 1133.0 1094.0 1133.4 1092.6 1133.8 1093.3 1134.2 1094.1 1134.6 1093.0 1135.0 1094.1 1135.4 1093.8 1135.8 1093.4 1136.2 1093.3 1136.5 1093.3 1136.9 1093.4 1137.3 1093.6 1137.7 1093.7 1138.1 1092.5 1138.5 1093.5 1138.9 1093.3 1139.3 1092.6 1139.7 1093.3 1140.1 1093.2 1140.5 1093.1 1140.9 1092.7 1141.3 1092.8 1141.7 1092.9 1142.1 1092.1 1142.5 1092.0 1142.9 1091.8 1143.3 1092.1 1143.7 1091.5 1144.1 1091.0 1144.5 1090.5 1144.8 1090.1 1145.2 1090.1 1145.6 1089.8 1146.0 1089.2 1146.4 1087.5 1146.8 1086.3 1147.2 1084.5 1147.6 1081.9 1148.0 1077.6 1148.4 1072.5 1148.8 1063.5 1149.2 1051.6 1149.6 1036.4 1150.0 1021.4 1150.4 1005.3 1150.8 993.3 1151.2 989.5 1151.6 993.4 1152.0 1003.1 1152.4 1012.3 1152.8 1020.1 1153.2 1024.3 1153.5 1026.3 1153.9 1029.1 1154.3 1035.1 1154.7 1043.1 1155.1 1052.1 1155.5 1061.1 1155.9 1069.1 1156.3 1075.8 1156.7 1079.9 1157.1 1084.1 1157.5 1085.9 1157.9 1087.3 1158.3 1088.8 1158.7 1090.3 1159.1 1090.0 1159.5 1090.6 1159.9 1090.7 1160.3 1091.5 1160.7 1091.8 1161.1 1092.0 1161.5 1092.0 1161.8 1092.5 1162.2 1092.8 1162.6 1092.5 1163.0 1092.7 1163.4 1092.7 1163.8 1092.8 1164.2 1093.5 1164.6 1092.8 1165.0 1093.3 1165.4 1093.7 1165.8 1093.2 1166.2 1093.6 1166.6 1093.7 1167.0 1093.0 1167.4 1093.8 1167.8 1093.2 1168.2 1093.5 1168.6 1092.9 1169.0 1092.8 1169.4 1093.2 1169.8 1093.6 1170.2 1093.7 1170.5 1093.5 1170.9 1092.7 1171.3 1092.3 1171.7 1091.8 1172.1 1091.5 1172.5 1091.0 1172.9 1091.1 1173.3 1091.7 1173.7 1092.0 1174.1 1092.1 1174.5 1092.3 1174.9 1092.8 1175.3 1094.5 1175.7 1093.4 1176.1 1094.3 1176.5 1094.4 1176.9 1094.4 1177.3 1093.9 1177.7 1094.9 1178.1 1094.4 1178.5 1094.1 1178.8 1094.1 1179.2 1094.3 1179.6 1095.1 1180.0 1094.0 1180.4 1094.2 1180.8 1094.5 1181.2 1094.7 1181.6 1094.1 1182.0 1094.2 1182.4 1094.3 1182.8 1094.8 1183.2 1094.5 1183.6 1094.5 1184.0 1094.7 1184.4 1094.6 1184.8 1095.0 1185.2 1094.4 1185.6 1094.7 1186.0 1094.4 1186.4 1094.9 1186.8 1095.0 1187.2 1094.6 1187.5 1095.1 1187.9 1094.7 1188.3 1095.2 1188.7 1094.6 1189.1 1094.6 1189.5 1094.3 1189.9 1094.4 1190.3 1094.7 1190.7 1094.1 1191.1 1094.8 1191.5 1095.1 1191.9 1095.0 1192.3 1094.9 1192.7 1095.1 1193.1 1094.7 1193.5 1094.7 1193.9 1095.2 1194.3 1094.8 1194.7 1095.2 1195.1 1094.7 1195.5 1095.1 1195.8 1095.3 1196.2 1094.9 1196.6 1095.5 1197.0 1095.5 1197.4 1094.1 1197.8 1095.9 1198.2 1094.4 1198.6 1095.8 1199.0 1094.7 1199.4 1094.2 1199.8 1094.5 1200.2 1095.1 1200.6 1094.6 1201.0 1094.8 1201.4 1095.4 1201.8 1094.7 1202.2 1095.2 1202.6 1095.5 1203.0 1094.4 1203.4 1094.6 1203.8 1095.1 1204.2 1095.0 1204.5 1095.1 1204.9 1094.3 1205.3 1094.7 1205.7 1095.2 1206.1 1095.2 1206.5 1095.5 1206.9 1094.9 1207.3 1094.8 1207.7 1094.7 1208.1 1094.7 1208.5 1094.3 1208.9 1095.6 1209.3 1094.8 1209.7 1094.7 1210.1 1094.7 1210.5 1095.2 1210.9 1095.0 1211.3 1094.7 1211.7 1095.3 1212.1 1095.0 1212.5 1094.8 1212.8 1094.8 1213.2 1095.2 1213.6 1095.0 1214.0 1094.7 1214.4 1095.1 1214.8 1093.9 1215.2 1094.9 1215.6 1094.3 1216.0 1094.3 1216.4 1094.4 1216.8 1095.1 1217.2 1094.3 1217.6 1094.2 1218.0 1094.4 1218.4 1093.4 1218.8 1093.9 1219.2 1094.1 1219.6 1093.3 1220.0 1093.7 1220.4 1093.0 1220.8 1092.5 1221.2 1093.1 1221.5 1092.5 1221.9 1092.3 1222.3 1091.7 1222.7 1090.7 1223.1 1090.7 1223.5 1089.5 1223.9 1088.1 1224.3 1085.8 1224.7 1082.5 1225.1 1078.8 1225.5 1071.8 1225.9 1062.2 1226.3 1049.7 1226.7 1036.0 1227.1 1020.0 1227.5 1006.9 1227.9 1000.6 1228.3 1001.1 1228.7 1008.8 1229.1 1018.9 1229.5 1028.4 1229.8 1033.8 1230.2 1036.6 1230.6 1036.8 1231.0 1038.1 1231.4 1041.0 1231.8 1047.9 1232.2 1056.3 1232.6 1064.9 1233.0 1072.6 1233.4 1077.9 1233.8 1082.4 1234.2 1086.1 1234.6 1088.0 1235.0 1090.4 1235.4 1091.3 1235.8 1091.3 1236.2 1092.3 1236.6 1093.1 1237.0 1092.7 1237.4 1093.2 1237.8 1093.6 1238.1 1094.3 1238.5 1094.2 1238.9 1094.2 1239.3 1094.5 1239.7 1094.5 1240.1 1094.7 1240.5 1094.9 1240.9 1094.9 1241.3 1095.2 1241.7 1095.0 1242.1 1095.0 1242.5 1095.1 1242.9 1094.7 1243.3 1095.1 1243.7 1096.0 1244.1 1095.4 1244.5 1095.6 1244.9 1095.8 1245.3 1095.4 1245.7 1095.5 1246.1 1095.8 1246.5 1095.3 1246.8 1096.0 1247.2 1095.9 1247.6 1095.8 1248.0 1095.8 1248.4 1096.0 1248.8 1095.8 1249.2 1095.0 1249.6 1096.0 1250.0 1095.5 1250.4 1095.7 1250.8 1095.8 1251.2 1095.8 1251.6 1095.4 1252.0 1095.3 1252.4 1096.0 1252.8 1096.0 1253.2 1096.2 1253.6 1095.6 1254.0 1095.9 1254.4 1096.3 1254.8 1095.9 1255.1 1095.9 1255.5 1096.8 1255.9 1095.5 1256.3 1095.8 1256.7 1095.8 1257.1 1096.0 1257.5 1097.3 1257.9 1095.8 1258.3 1096.1 1258.7 1096.0 1259.1 1095.9 1259.5 1096.5 1259.9 1096.0 1260.3 1096.6 1260.7 1096.7 1261.1 1096.1 1261.5 1096.7 1261.9 1095.8 1262.3 1096.4 1262.7 1096.6 1263.1 1095.9 1263.5 1096.3 1263.8 1096.5 1264.2 1096.5 1264.6 1096.4 1265.0 1097.0 1265.4 1096.3 1265.8 1096.7 1266.2 1097.1 1266.6 1096.1 1267.0 1096.2 1267.4 1096.0 1267.8 1096.6 1268.2 1096.8 1268.6 1095.7 1269.0 1096.0 1269.4 1096.1 1269.8 1097.1 1270.2 1096.2 1270.6 1096.5 1271.0 1095.9 1271.4 1096.7 1271.8 1096.0 1272.1 1096.3 1272.5 1096.0 1272.9 1096.3 1273.3 1096.3 1273.7 1096.4 1274.1 1096.4 1274.5 1097.0 1274.9 1096.1 1275.3 1096.8 1275.7 1096.5 1276.1 1096.3 1276.5 1096.5 1276.9 1096.5 1277.3 1096.7 1277.7 1096.7 1278.1 1096.6 1278.5 1096.5 1278.9 1095.8 1279.3 1096.7 1279.7 1096.8 1280.1 1096.5 1280.5 1096.5 1280.8 1096.1 1281.2 1096.5 1281.6 1096.7 1282.0 1095.9 1282.4 1096.2 1282.8 1096.2 1283.2 1096.8 1283.6 1096.2 1284.0 1095.8 1284.4 1096.5 1284.8 1096.9 1285.2 1096.3 1285.6 1096.3 1286.0 1096.5 1286.4 1097.0 1286.8 1096.3 1287.2 1096.3 1287.6 1096.5 1288.0 1096.1 1288.4 1095.8 1288.8 1096.5 1289.1 1096.3 1289.5 1096.5 1289.9 1096.5 1290.3 1096.6 1290.7 1096.0 1291.1 1096.5 1291.5 1096.1 1291.9 1096.5 1292.3 1096.3 1292.7 1097.0 1293.1 1096.1 1293.5 1095.6 1293.9 1096.5 1294.3 1096.3 1294.7 1096.1 1295.1 1096.5 1295.5 1097.0 1295.9 1096.4 1296.3 1096.2 1296.7 1096.9 1297.1 1096.8 1297.5 1096.4 1297.8 1096.2 1298.2 1096.7 1298.6 1096.2 1299.0 1096.2 1299.4 1096.1 1299.8 1096.6 1300.2 1096.9 1300.6 1096.4 1301.0 1097.0 1301.4 1095.7 1301.8 1096.4 1302.2 1095.8 1302.6 1096.7 1303.0 1096.8 1303.4 1095.8 1303.8 1096.1 1304.2 1096.4 1304.6 1095.9 1305.0 1096.1 1305.4 1096.0 1305.8 1096.4 1306.1 1096.1 1306.5 1096.0 1306.9 1096.1 1307.3 1096.3 1307.7 1096.4 1308.1 1096.3 1308.5 1096.8 1308.9 1096.2 1309.3 1096.4 1309.7 1096.6 1310.1 1096.3 1310.5 1096.8 1310.9 1096.6 1311.3 1096.6 1311.7 1096.1 1312.1 1096.3 1312.5 1096.6 1312.9 1096.7 1313.3 1096.2 1313.7 1096.2 1314.1 1095.9 1314.5 1095.9 1314.8 1096.8 1315.2 1096.4 1315.6 1096.6 1316.0 1096.8 1316.4 1096.4 1316.8 1096.4 1317.2 1096.0 1317.6 1096.2 1318.0 1096.5 1318.4 1096.9 1318.8 1096.8 1319.2 1096.2 1319.6 1096.1 1320.0 1096.6 1320.4 1096.6 1320.8 1096.6 1321.2 1096.5 1321.6 1096.8 1322.0 1096.5 1322.4 1096.9 1322.8 1096.6 1323.1 1096.4 1323.5 1096.0 1323.9 1096.5 1324.3 1096.7 1324.7 1096.5 1325.1 1096.1 1325.5 1095.8 1325.9 1096.3 1326.3 1097.0 1326.7 1096.0 1327.1 1096.3 1327.5 1096.5 1327.9 1096.8 1328.3 1096.1 1328.7 1096.4 1329.1 1096.5 1329.5 1096.0 1329.9 1096.6 1330.3 1096.1 1330.7 1096.5 1331.1 1096.6 1331.5 1096.5 1331.8 1096.0 1332.2 1096.7 1332.6 1096.7 1333.0 1096.5 1333.4 1096.7 1333.8 1096.3 1334.2 1096.1 1334.6 1096.4 1335.0 1096.6 1335.4 1096.7 1335.8 1096.2 1336.2 1096.5 1336.6 1096.5 1337.0 1096.3 1337.4 1095.7 1337.8 1095.8 1338.2 1096.7 1338.6 1095.9 1339.0 1095.8 1339.4 1095.9 1339.8 1096.3 1340.1 1096.8 1340.5 1096.5 1340.9 1096.2 1341.3 1096.3 1341.7 1096.6 1342.1 1096.4 1342.5 1095.8 1342.9 1096.8 1343.3 1096.7 1343.7 1096.0 1344.1 1096.3 1344.5 1096.6 1344.9 1096.5 1345.3 1096.3 1345.7 1096.4 1346.1 1097.0 1346.5 1096.3 1346.9 1096.8 1347.3 1096.5 1347.7 1096.0 1348.1 1096.6 1348.4 1096.5 1348.8 1096.8 1349.2 1097.0 1349.6 1096.8 1350.0 1096.5 1350.4 1096.6 1350.8 1096.7 1351.2 1096.2 1351.6 1096.1 1352.0 1096.7 1352.4 1096.0 1352.8 1096.3 1353.2 1097.0 1353.6 1096.7 1354.0 1096.8 1354.4 1096.4 1354.8 1096.8 1355.2 1096.1 1355.6 1096.1 1356.0 1096.4 1356.4 1096.2 1356.8 1096.9 1357.1 1096.4 1357.5 1096.0 1357.9 1096.7 1358.3 1096.7 1358.7 1096.8 1359.1 1096.0 1359.5 1096.1 1359.9 1095.6 1360.3 1096.5 1360.7 1096.4 1361.1 1096.2 1361.5 1096.9 1361.9 1096.1 1362.3 1096.2 1362.7 1096.1 1363.1 1096.0 1363.5 1096.4 1363.9 1096.3 1364.3 1096.3 1364.7 1096.0 1365.1 1095.9 1365.4 1096.2 1365.8 1096.4 1366.2 1096.1 1366.6 1096.2 1367.0 1096.2 1367.4 1096.0 1367.8 1095.9 1368.2 1096.3 1368.6 1096.9 1369.0 1096.5 1369.4 1096.3 1369.8 1096.1 1370.2 1096.2 1370.6 1096.7 1371.0 1096.0 1371.4 1097.0 1371.8 1096.4 1372.2 1096.5 1372.6 1096.3 1373.0 1096.7 1373.4 1096.7 1373.8 1096.1 1374.1 1097.0 1374.5 1096.5 1374.9 1095.9 1375.3 1096.6 1375.7 1096.5 1376.1 1096.5 1376.5 1096.7 1376.9 1096.8 1377.3 1096.0 1377.7 1096.3 1378.1 1096.3 1378.5 1096.4 1378.9 1095.8 1379.3 1096.5 1379.7 1096.4 1380.1 1097.0 1380.5 1096.1 1380.9 1096.2 1381.3 1096.5 1381.7 1096.3 1382.1 1096.6 1382.4 1096.8 1382.8 1096.0 1383.2 1096.4 1383.6 1096.5 1384.0 1096.1 1384.4 1097.1 1384.8 1096.4 1385.2 1096.3 1385.6 1095.7 1386.0 1096.0 1386.4 1095.5 1386.8 1096.4 1387.2 1095.8 1387.6 1096.1 1388.0 1096.1 1388.4 1095.9 1388.8 1095.5 1389.2 1095.6 1389.6 1094.7 1390.0 1094.1 1390.4 1093.8 1390.8 1094.2 1391.1 1094.1 1391.5 1093.2 1391.9 1093.2 1392.3 1093.7 1392.7 1093.4 1393.1 1094.0 1393.5 1094.1 1393.9 1095.0 1394.3 1094.3 1394.7 1095.0 1395.1 1095.1 1395.5 1095.8 1395.9 1096.1 1396.3 1096.0 1396.7 1096.8 1397.1 1096.1 1397.5 1095.8 1397.9 1096.0 1398.3 1096.4 1398.7 1096.4 1399.1 1097.0 1399.4 1096.3 1399.8 1095.9 1400.2 1095.9 1400.6 1096.5 1401.0 1095.3 1401.4 1096.4 1401.8 1096.6 1402.2 1096.1 1402.6 1096.4 1403.0 1096.7 1403.4 1096.8 1403.8 1096.8 1404.2 1096.6 1404.6 1096.2 1405.0 1095.9 1405.4 1095.6 1405.8 1096.9 1406.2 1096.6 1406.6 1095.8 1407.0 1096.7 1407.4 1096.1 1407.8 1096.1 1408.1 1095.9 1408.5 1097.0 1408.9 1095.8 1409.3 1095.9 1409.7 1096.5 1410.1 1096.6 1410.5 1096.5 1410.9 1095.9 1411.3 1096.2 1411.7 1096.0 1412.1 1096.1 1412.5 1096.9 1412.9 1096.4 1413.3 1096.6 1413.7 1096.0 1414.1 1096.1 1414.5 1096.4 1414.9 1096.7 1415.3 1096.2 1415.7 1096.8 1416.1 1097.1 1416.4 1095.7 1416.8 1096.3 1417.2 1096.5 1417.6 1096.2 1418.0 1096.9 1418.4 1096.3 1418.8 1096.4 1419.2 1095.7 1419.6 1096.6 1420.0 1096.2 1420.4 1096.4 1420.8 1096.2 1421.2 1096.0 1421.6 1096.2 1422.0 1095.8 1422.4 1096.2 1422.8 1096.6 1423.2 1096.6 1423.6 1095.9 1424.0 1096.5 1424.4 1096.1 1424.8 1096.0 1425.1 1096.4 1425.5 1096.5 1425.9 1096.0 1426.3 1096.6 1426.7 1096.2 1427.1 1097.0 1427.5 1095.7 1427.9 1096.1 1428.3 1096.1 1428.7 1095.9 1429.1 1095.7 1429.5 1096.6 1429.9 1096.3 1430.3 1095.7 1430.7 1096.0 1431.1 1096.1 1431.5 1096.3 1431.9 1095.8 1432.3 1096.7 1432.7 1096.2 1433.1 1096.7 1433.4 1096.4 1433.8 1096.1 1434.2 1096.1 1434.6 1096.3 1435.0 1096.2 1435.4 1096.2 1435.8 1096.4 1436.2 1096.6 1436.6 1095.8 1437.0 1095.6 1437.4 1095.8 1437.8 1096.5 1438.2 1096.0 1438.6 1095.9 1439.0 1096.2 1439.4 1096.3 1439.8 1095.7 1440.2 1095.7 1440.6 1096.0 1441.0 1096.0 1441.4 1095.8 1441.7 1096.8 1442.1 1096.4 1442.5 1095.9 1442.9 1096.2 1443.3 1095.5 1443.7 1096.3 1444.1 1095.9 1444.5 1095.7 1444.9 1095.4 1445.3 1096.2 1445.7 1095.9 1446.1 1095.6 1446.5 1096.2 1446.9 1095.7 1447.3 1095.8 1447.7 1095.6 1448.1 1095.8 1448.5 1095.3 1448.9 1095.5 1449.3 1095.6 1449.7 1095.2 1450.1 1095.3 1450.4 1095.7 1450.8 1095.2 1451.2 1095.6 1451.6 1095.3 1452.0 1095.1 1452.4 1094.5 1452.8 1095.4 1453.2 1095.2 1453.6 1094.7 1454.0 1094.4 1454.4 1094.2 1454.8 1093.7 1455.2 1093.4 1455.6 1093.2 1456.0 1091.9 1456.4 1091.5 1456.8 1090.3 1457.2 1087.7 1457.6 1085.4 1458.0 1081.5 1458.4 1076.9 1458.7 1072.0 1459.1 1065.2 1459.5 1060.3 1459.9 1054.3 1460.3 1051.4 1460.7 1052.2 1461.1 1055.5 1461.5 1060.2 1461.9 1064.8 1462.3 1068.5 1462.7 1071.1 1463.1 1072.1 1463.5 1071.5 1463.9 1071.0 1464.3 1070.3 1464.7 1071.2 1465.1 1073.4 1465.5 1077.1 1465.9 1079.8 1466.3 1083.3 1466.7 1086.2 1467.1 1088.7 1467.4 1090.0 1467.8 1091.5 1468.2 1092.9 1468.6 1093.3 1469.0 1093.5 1469.4 1094.5 1469.8 1094.4 1470.2 1094.3 1470.6 1095.0 1471.0 1095.4 1471.4 1094.8 1471.8 1094.7 1472.2 1094.3 1472.6 1095.9 1473.0 1095.1 1473.4 1095.2 1473.8 1095.1 1474.2 1095.4 1474.6 1095.1 1475.0 1096.1 1475.4 1095.8 1475.7 1095.4 1476.1 1095.2 1476.5 1095.9 1476.9 1095.4 1477.3 1096.2 1477.7 1095.8 1478.1 1095.7 1478.5 1095.4 1478.9 1095.9 1479.3 1095.4 1479.7 1096.2 1480.1 1095.2 1480.5 1095.7 1480.9 1096.7 1481.3 1095.7 1481.7 1096.1 1482.1 1096.3 1482.5 1096.0 1482.9 1095.9 1483.3 1096.3 1483.7 1096.3 1484.1 1095.7 1484.4 1096.5 1484.8 1096.4 1485.2 1095.6 1485.6 1096.1 1486.0 1096.2 1486.4 1096.0 1486.8 1095.8 1487.2 1095.6 1487.6 1096.2 1488.0 1095.4 1488.4 1095.8 1488.8 1095.3 1489.2 1095.7 1489.6 1096.0 1490.0 1095.5 1490.4 1096.3 1490.8 1096.3 1491.2 1096.1 1491.6 1096.2 1492.0 1096.5 1492.4 1096.3 1492.7 1095.4 1493.1 1096.0 1493.5 1095.7 1493.9 1096.0 1494.3 1095.4 1494.7 1096.0 1495.1 1095.9 1495.5 1096.2 1495.9 1095.7 1496.3 1095.9 1496.7 1095.3 1497.1 1095.9 1497.5 1096.0 1497.9 1095.5 1498.3 1096.0 1498.7 1095.5 1499.1 1096.2 1499.5 1095.7 1499.9 1095.8 1500.3 1096.6 1500.7 1096.2 1501.1 1096.5 1501.4 1096.3 1501.8 1096.0 1502.2 1096.5 1502.6 1096.1 1503.0 1096.0 1503.4 1095.8 1503.8 1095.6 1504.2 1096.2 1504.6 1095.9 1505.0 1096.1 1505.4 1095.9 1505.8 1096.2 1506.2 1095.8 1506.6 1096.1 1507.0 1096.3 1507.4 1096.4 1507.8 1096.0 1508.2 1095.7 1508.6 1096.5 1509.0 1096.4 1509.4 1095.8 1509.7 1096.4 1510.1 1096.2 1510.5 1095.7 1510.9 1096.0 1511.3 1095.6 1511.7 1095.9 1512.1 1095.9 1512.5 1096.0 1512.9 1096.4 1513.3 1095.5 1513.7 1094.9 1514.1 1096.2 1514.5 1095.9 1514.9 1096.3 1515.3 1096.3 1515.7 1096.5 1516.1 1095.3 1516.5 1096.5 1516.9 1095.9 1517.3 1095.8 1517.7 1096.5 1518.1 1096.4 1518.4 1095.5 1518.8 1095.7 1519.2 1096.4 1519.6 1095.4 1520.0 1096.0 1520.4 1096.1 1520.8 1095.8 1521.2 1095.7 1521.6 1096.2 1522.0 1095.8 1522.4 1095.5 1522.8 1096.1 1523.2 1095.3 1523.6 1095.7 1524.0 1096.0 1524.4 1095.3 1524.8 1096.3 1525.2 1095.9 1525.6 1095.8 1526.0 1095.4 1526.4 1095.8 1526.7 1095.6 1527.1 1095.8 1527.5 1095.5 1527.9 1095.7 1528.3 1095.0 1528.7 1095.0 1529.1 1095.1 1529.5 1094.6 1529.9 1095.0 1530.3 1094.9 1530.7 1094.0 1531.1 1094.2 1531.5 1093.6 1531.9 1093.0 1532.3 1093.0 1532.7 1091.8 1533.1 1091.2 1533.5 1090.3 1533.9 1089.9 1534.3 1089.8 1534.7 1089.9 1535.1 1090.2 1535.4 1091.3 1535.8 1091.5 1536.2 1092.3 1536.6 1093.6 1537.0 1093.6 1537.4 1094.3 1537.8 1094.7 1538.2 1094.6 1538.6 1095.4 1539.0 1095.2 1539.4 1095.3 1539.8 1095.4 1540.2 1095.6 1540.6 1095.8 1541.0 1094.8 1541.4 1096.0 1541.8 1094.9 1542.2 1095.1 1542.6 1095.8 1543.0 1095.5 1543.4 1095.9 1543.7 1095.2 1544.1 1095.6 1544.5 1095.8 1544.9 1095.4 1545.3 1095.4 1545.7 1095.7 1546.1 1095.8 1546.5 1094.8 1546.9 1095.5 1547.3 1095.8 1547.7 1096.2 1548.1 1095.3 1548.5 1095.7 1548.9 1095.3 1549.3 1095.3 1549.7 1095.5 1550.1 1096.2 1550.5 1095.9 1550.9 1096.0 1551.3 1095.6 1551.7 1096.1 1552.0 1095.7 1552.4 1095.9 1552.8 1095.2 1553.2 1095.4 1553.6 1095.9 1554.0 1096.4 1554.4 1096.3 1554.8 1095.3 1555.2 1095.6 1555.6 1095.6 1556.0 1096.6 1556.4 1095.4 1556.8 1095.7 1557.2 1096.1 1557.6 1095.9 1558.0 1095.2 1558.4 1096.4 1558.8 1094.9 1559.2 1095.7 1559.6 1095.5 1560.0 1095.1 1560.4 1095.5 1560.7 1095.5 1561.1 1095.2 1561.5 1095.4 1561.9 1095.5 1562.3 1095.7 1562.7 1094.8 1563.1 1095.4 1563.5 1095.6 1563.9 1096.0 1564.3 1096.0 1564.7 1095.0 1565.1 1095.4 1565.5 1095.7 1565.9 1095.8 1566.3 1096.2 1566.7 1095.5 1567.1 1095.1 1567.5 1095.6 1567.9 1095.7 1568.3 1095.3 1568.7 1095.2 1569.0 1095.8 1569.4 1095.1 1569.8 1095.4 1570.2 1095.7 1570.6 1095.6 1571.0 1095.6 1571.4 1095.2 1571.8 1094.3 1572.2 1095.2 1572.6 1095.8 1573.0 1095.8 1573.4 1096.1 1573.8 1095.7 1574.2 1096.0 1574.6 1095.5 1575.0 1095.7 1575.4 1096.2 1575.8 1095.3 1576.2 1095.3 1576.6 1095.9 1577.0 1095.8 1577.4 1094.9 1577.7 1096.0 1578.1 1095.2 1578.5 1095.2 1578.9 1095.8 1579.3 1095.6 1579.7 1095.7 1580.1 1096.0 1580.5 1095.8 1580.9 1094.6 1581.3 1095.6 1581.7 1095.7 1582.1 1095.5 1582.5 1095.4 1582.9 1095.5 1583.3 1095.5 1583.7 1095.4 1584.1 1095.4 1584.5 1095.0 1584.9 1095.5 1585.3 1095.2 1585.7 1095.7 1586.0 1095.2 1586.4 1095.3 1586.8 1094.9 1587.2 1095.3 1587.6 1095.6 1588.0 1095.0 1588.4 1095.8 1588.8 1095.4 1589.2 1095.3 1589.6 1095.6 1590.0 1095.5 1590.4 1094.7 1590.8 1095.7 1591.2 1095.6 1591.6 1095.3 1592.0 1094.2 1592.4 1094.0 1592.8 1094.7 1593.2 1095.6 1593.6 1095.6 1594.0 1095.3 1594.4 1095.3 1594.7 1094.5 1595.1 1095.3 1595.5 1094.9 1595.9 1095.2 1596.3 1094.9 1596.7 1095.5 1597.1 1095.2 1597.5 1095.4 1597.9 1095.2 1598.3 1095.0 1598.7 1094.7 1599.1 1094.8 1599.5 1094.9 1599.9 1095.3 1600.3 1095.9 1600.7 1095.4 1601.1 1095.2 1601.5 1095.5 1601.9 1094.8 1602.3 1095.3 1602.7 1095.3 1603.0 1094.4 1603.4 1095.3 1603.8 1095.0 1604.2 1095.2 1604.6 1095.1 1605.0 1095.2 1605.4 1094.9 1605.8 1095.5 1606.2 1095.5 1606.6 1094.8 1607.0 1095.2 1607.4 1095.1 1607.8 1095.6 1608.2 1094.9 1608.6 1095.2 1609.0 1095.1 1609.4 1094.6 1609.8 1095.5 1610.2 1095.2 1610.6 1094.7 1611.0 1095.4 1611.4 1095.5 1611.7 1094.6 1612.1 1095.0 1612.5 1095.0 1612.9 1095.0 1613.3 1095.1 1613.7 1094.9 1614.1 1094.5 1614.5 1095.1 1614.9 1094.6 1615.3 1094.8 1615.7 1095.2 1616.1 1095.7 1616.5 1095.5 1616.9 1094.8 1617.3 1095.0 1617.7 1095.5 1618.1 1095.2 1618.5 1095.4 1618.9 1094.8 1619.3 1095.2 1619.7 1095.3 1620.0 1095.5 1620.4 1095.7 1620.8 1094.8 1621.2 1095.5 1621.6 1094.9 1622.0 1095.1 1622.4 1095.5 1622.8 1095.1 1623.2 1095.2 1623.6 1095.6"/>
<path id="cr" d="M139.5 822.0L139.9 820.5 140.3 821.7 140.7 821.4 141.1 821.6 141.5 821.8 141.9 821.3 142.3 822.1 142.7 822.0 143.1 823.5 143.5 822.6 143.8 822.5 144.2 822.6 144.6 822.6 145.0 822.6 145.4 823.0 145.8 823.4 146.2 823.3 146.6 823.8 147.0 823.5 147.4 823.7 147.8 824.4 148.2 824.1 148.6 823.9 149.0 824.1 149.4 824.5 149.8 825.1 150.2 824.4 150.6 824.5 151.0 825.1 151.4 824.5 151.8 824.8 152.2 825.4 152.5 825.3 152.9 825.3 153.3 825.6 153.7 824.5 154.1 825.9 154.5 825.3 154.9 825.2 155.3 825.9 155.7 826.2 156.1 825.9 156.5 825.7 156.9 826.2 157.3 826.3 157.7 826.8 158.1 826.7 158.5 826.6 158.9 827.0 159.3 826.6 159.7 826.4 160.1 827.0 160.5 827.1 160.8 826.9 161.2 826.7 161.6 827.1 162.0 826.2 162.4 827.4 162.8 827.4 163.2 826.7 163.6 827.4 164.0 827.0 164.4 827.7 164.8 826.8 165.2 827.2 165.6 827.8 166.0 828.1 166.4 826.9 166.8 827.6 167.2 827.9 167.6 827.6 168.0 828.5 168.4 827.5 168.8 828.1 169.2 827.7 169.5 828.6 169.9 828.1 170.3 828.1 170.7 827.7 171.1 828.9 171.5 828.6 171.9 828.7 172.3 828.8 172.7 828.6 173.1 828.3 173.5 828.3 173.9 828.4 174.3 829.2 174.7 828.2 175.1 828.6 175.5 828.7 175.9 828.9 176.3 829.1 176.7 828.5 177.1 828.4 177.5 829.0 177.8 829.5 178.2 829.4 178.6 829.3 179.0 829.1 179.4 829.4 179.8 829.2 180.2 829.6 180.6 829.1 181.0 829.5 181.4 829.4 181.8 829.7 182.2 829.6 182.6 830.5 183.0 830.2 183.4 830.2 183.8 829.0 184.2 829.6 184.6 829.6 185.0 830.0 185.4 829.1 185.8 830.3 186.2 830.3 186.5 829.5 186.9 829.7 187.3 829.8 187.7 830.1 188.1 830.4 188.5 830.9 188.9 830.1 189.3 830.5 189.7 830.3 190.1 830.9 190.5 830.6 190.9 830.9 191.3 830.0 191.7 830.4 192.1 830.2 192.5 831.0 192.9 830.8 193.3 830.5 193.7 830.5 194.1 830.8 194.5 830.4 194.8 830.4 195.2 830.9 195.6 831.6 196.0 830.7 196.4 830.7 196.8 830.5 197.2 830.4 197.6 831.1 198.0 831.3 198.4 831.0 198.8 831.1 199.2 831.1 199.6 831.1 200.0 830.6 200.4 831.0 200.8 831.2 201.2 830.9 201.6 831.1 202.0 831.0 202.4 831.2 202.8 831.6 203.1 831.2 203.5 831.3 203.9 831.7 204.3 831.7 204.7 832.0 205.1 830.7 205.5 831.8 205.9 831.4 206.3 831.6 206.7 831.9 207.1 832.0 207.5 832.0 207.9 831.7 208.3 832.2 208.7 831.6 209.1 831.7 209.5 832.0 209.9 831.6 210.3 832.6 210.7 832.2 211.1 832.6 211.5 831.9 211.8 831.8 212.2 832.0 212.6 832.2 213.0 831.7 213.4 832.1 213.8 832.0 214.2 832.6 214.6 831.8 215.0 832.4 215.4 831.9 215.8 831.8 216.2 831.9 216.6 831.7 217.0 832.2 217.4 832.5 217.8 832.3 218.2 832.4 218.6 832.8 219.0 832.3 219.4 832.3 219.8 832.2 220.1 831.7 220.5 832.6 220.9 831.7 221.3 832.6 221.7 832.4 222.1 832.8 222.5 832.4 222.9 832.1 223.3 832.6 223.7 832.3 224.1 832.4 224.5 832.5 224.9 832.5 225.3 832.5 225.7 832.2 226.1 832.5 226.5 831.8 226.9 832.5 227.3 832.2 227.7 833.0 228.1 833.1 228.5 832.0 228.8 832.7 229.2 832.6 229.6 832.3 230.0 832.9 230.4 832.5 230.8 832.1 231.2 832.6 231.6 832.7 232.0 832.8 232.4 832.3 232.8 833.0 233.2 833.1 233.6 832.4 234.0 832.6 234.4 832.8 234.8 832.7 235.2 833.5 235.6 833.0 236.0 832.5 236.4 832.6 236.8 832.9 237.1 833.7 237.5 832.9 237.9 833.0 238.3 833.2 238.7 833.0 239.1 833.8 239.5 832.8 239.9 833.3 240.3 833.1 240.7 833.3 241.1 832.6 241.5 833.7 241.9 833.0 242.3 833.1 242.7 832.8 243.1 832.9 243.5 833.3 243.9 833.5 244.3 833.4 244.7 833.6 245.1 833.4 245.5 833.2 245.8 833.5 246.2 833.4 246.6 833.2 247.0 833.5 247.4 833.7 247.8 833.3 248.2 833.1 248.6 833.5 249.0 834.0 249.4 833.2 249.8 833.3 250.2 833.3 250.6 833.8 251.0 832.7 251.4 833.5 251.8 833.8 252.2 833.1 252.6 833.9 253.0 833.6 253.4 833.2 253.8 833.5 254.1 832.9 254.5 833.2 254.9 834.1 255.3 833.2 255.7 834.1 256.1 833.5 256.5 833.8 256.9 833.5 257.3 832.7 257.7 833.3 258.1 833.6 258.5 833.1 258.9 833.1 259.3 833.7 259.7 833.3 260.1 833.0 260.5 833.4 260.9 833.9 261.3 833.4 261.7 834.0 262.1 834.2 262.5 833.7 262.8 833.3 263.2 833.2 263.6 833.7 264.0 834.0 264.4 833.8 264.8 833.9 265.2 833.6 265.6 833.8 266.0 833.6 266.4 833.6 266.8 833.3 267.2 833.2 267.6 833.6 268.0 833.4 268.4 833.4 268.8 834.0 269.2 833.8 269.6 834.8 270.0 834.1 270.4 833.6 270.8 834.1 271.1 834.0 271.5 833.6 271.9 834.2 272.3 833.6 272.7 832.8 273.1 834.2 273.5 833.7 273.9 834.4 274.3 833.7 274.7 833.5 275.1 834.5 275.5 833.5 275.9 834.0 276.3 834.4 276.7 834.0 277.1 833.9 277.5 834.0 277.9 834.3 278.3 833.7 278.7 834.2 279.1 834.2 279.5 834.8 279.8 833.9 280.2 833.7 280.6 834.3 281.0 833.9 281.4 834.1 281.8 834.1 282.2 834.5 282.6 833.8 283.0 834.0 283.4 833.2 283.8 833.8 284.2 834.6 284.6 833.9 285.0 833.9 285.4 833.7 285.8 834.3 286.2 834.2 286.6 833.7 287.0 834.4 287.4 834.2 287.8 834.4 288.1 833.9 288.5 834.8 288.9 834.3 289.3 834.1 289.7 834.0 290.1 834.1 290.5 834.5 290.9 834.1 291.3 834.6 291.7 834.4 292.1 834.7 292.5 834.5 292.9 834.2 293.3 833.6 293.7 834.3 294.1 834.5 294.5 834.3 294.9 834.4 295.3 834.1 295.7 834.1 296.1 833.9 296.4 834.8 296.8 834.3 297.2 834.1 297.6 833.8 298.0 834.2 298.4 834.8 298.8 834.5 299.2 834.1 299.6 834.8 300.0 834.8 300.4 834.7 300.8 834.6 301.2 834.7 301.6 834.5 302.0 834.6 302.4 834.1 302.8 834.9 303.2 834.4 303.6 835.1 304.0 833.7 304.4 834.6 304.8 834.7 305.1 834.3 305.5 834.6 305.9 834.7 306.3 834.6 306.7 834.2 307.1 834.4 307.5 834.8 307.9 834.9 308.3 834.5 308.7 834.5 309.1 834.5 309.5 834.8 309.9 834.1 310.3 834.0 310.7 834.5 311.1 834.1 311.5 834.3 311.9 834.5 312.3 834.6 312.7 834.1 313.1 834.8 313.4 833.9 313.8 834.7 314.2 833.9 314.6 834.1 315.0 834.7 315.4 834.4 315.8 834.2 316.2 834.4 316.6 834.7 317.0 834.5 317.4 834.5 317.8 834.9 318.2 834.3 318.6 834.4 319.0 834.4 319.4 835.0 319.8 834.9 320.2 835.0 320.6 834.5 321.0 834.5 321.4 834.9 321.8 834.4 322.1 834.9 322.5 834.8 322.9 834.3 323.3 834.6 323.7 834.5 324.1 835.2 324.5 835.5 324.9 834.6 325.3 834.6 325.7 833.8 326.1 834.7 326.5 834.6 326.9 834.2 327.3 834.9 327.7 834.1 328.1 834.5 328.5 834.7 328.9 834.2 329.3 834.9 329.7 835.0 330.1 834.2 330.4 834.1 330.8 834.9 331.2 834.6 331.6 834.2 332.0 834.5 332.4 834.6 332.8 834.6 333.2 834.9 333.6 834.8 334.0 835.3 334.4 835.1 334.8 834.9 335.2 835.1 335.6 835.1 336.0 834.9 336.4 834.3 336.8 835.0 337.2 834.7 337.6 835.3 338.0 834.7 338.4 834.9 338.8 834.8 339.1 835.3 339.5 834.8 339.9 834.6 340.3 834.8 340.7 834.6 341.1 834.8 341.5 834.7 341.9 834.8 342.3 835.4 342.7 834.6 343.1 834.7 343.5 834.7 343.9 835.0 344.3 834.3 344.7 834.5 345.1 834.7 345.5 834.9 345.9 834.7 346.3 834.6 346.7 834.4 347.1 834.9 347.4 835.3 347.8 834.9 348.2 834.8 348.6 834.9 349.0 834.4 349.4 834.6 349.8 834.7 350.2 834.9 350.6 834.7 351.0 834.3 351.4 835.2 351.8 835.4 352.2 834.7 352.6 834.9 353.0 834.9 353.4 835.0 353.8 834.3 354.2 835.3 354.6 834.6 355.0 835.2 355.4 834.8 355.8 834.6 356.1 834.7 356.5 835.1 356.9 834.5 357.3 834.7 357.7 834.6 358.1 834.2 358.5 835.2 358.9 835.0 359.3 834.8 359.7 835.2 360.1 834.5 360.5 834.8 360.9 835.4 361.3 835.1 361.7 834.0 362.1 833.6 362.5 834.4 362.9 835.2 363.3 834.6 363.7 834.7 364.1 835.0 364.4 834.5 364.8 834.9 365.2 835.1 365.6 835.0 366.0 834.9 366.4 834.6 366.8 835.0 367.2 834.7 367.6 835.3 368.0 835.7 368.4 834.5 368.8 834.0 369.2 834.7 369.6 834.9 370.0 835.2 370.4 835.2 370.8 834.5 371.2 834.5 371.6 835.3 372.0 834.4 372.4 835.2 372.8 834.7 373.1 835.1 373.5 835.1 373.9 835.1 374.3 835.1 374.7 834.5 375.1 834.9 375.5 834.8 375.9 834.9 376.3 835.2 376.7 834.7 377.1 834.6 377.5 834.5 377.9 834.7 378.3 835.1 378.7 834.5 379.1 835.2 379.5 834.9 379.9 834.7 380.3 834.3 380.7 834.9 381.1 835.0 381.4 834.2 381.8 835.2 382.2 835.4 382.6 834.9 383.0 835.0 383.4 835.6 383.8 835.2 384.2 834.5 384.6 834.8 385.0 834.7 385.4 834.7 385.8 834.0 386.2 835.0 386.6 834.6 387.0 834.8 387.4 834.7 387.8 835.1 388.2 834.7 388.6 834.5 389.0 835.0 389.4 835.3 389.8 834.7 390.1 835.2 390.5 834.9 390.9 834.6 391.3 835.3 391.7 834.5 392.1 835.1 392.5 834.6 392.9 834.9 393.3 834.3 393.7 834.5 394.1 835.1 394.5 834.8 394.9 834.8 395.3 834.6 395.7 834.9 396.1 834.2 396.5 834.3 396.9 834.7 397.3 834.4 397.7 834.5 398.1 834.7 398.4 834.7 398.8 834.6 399.2 835.3 399.6 835.1 400.0 835.1 400.4 834.7 400.8 834.5 401.2 834.2 401.6 834.6 402.0 834.0 402.4 834.5 402.8 834.9 403.2 835.2 403.6 835.0 404.0 834.4 404.4 834.8 404.8 834.4 405.2 834.9 405.6 834.6 406.0 834.9 406.4 835.5 406.7 835.0 407.1 835.4 407.5 834.7 407.9 834.5 408.3 835.1 408.7 835.2 409.1 834.4 409.5 834.6 409.9 834.1 410.3 834.5 410.7 834.9 411.1 834.6 411.5 834.4 411.9 834.1 412.3 834.7 412.7 834.8 413.1 834.8 413.5 834.6 413.9 834.1 414.3 835.2 414.7 834.5 415.1 834.5 415.4 834.8 415.8 833.8 416.2 834.5 416.6 834.5 417.0 834.6 417.4 835.0 417.8 834.6 418.2 833.8 418.6 834.4 419.0 834.5 419.4 834.5 419.8 834.0 420.2 833.9 420.6 834.6 421.0 834.6 421.4 834.4 421.8 833.8 422.2 835.0 422.6 833.4 423.0 834.3 423.4 835.1 423.7 834.3 424.1 834.5 424.5 834.0 424.9 834.8 425.3 833.9 425.7 834.4 426.1 834.4 426.5 834.0 426.9 834.6 427.3 833.8 427.7 834.1 428.1 834.3 428.5 834.1 428.9 834.4 429.3 834.6 429.7 834.2 430.1 834.1 430.5 834.1 430.9 834.1 431.3 834.5 431.7 834.1 432.1 834.3 432.4 834.2 432.8 833.9 433.2 834.5 433.6 833.8 434.0 834.2 434.4 834.7 434.8 833.7 435.2 834.1 435.6 833.6 436.0 833.9 436.4 833.6 436.8 834.0 437.2 833.9 437.6 834.1 438.0 834.6 438.4 834.1 438.8 834.3 439.2 834.0 439.6 833.9 440.0 833.7 440.4 833.3 440.7 834.0 441.1 834.5 441.5 834.1 441.9 833.7 442.3 834.5 442.7 833.7 443.1 833.7 443.5 833.4 443.9 833.5 444.3 833.8 444.7 834.5 445.1 833.7 445.5 833.4 445.9 833.6 446.3 833.7 446.7 833.2 447.1 833.8 447.5 834.0 447.9 833.8 448.3 833.9 448.7 833.2 449.1 833.1 449.4 834.1 449.8 834.0 450.2 833.1 450.6 833.7 451.0 833.6 451.4 833.8 451.8 833.6 452.2 833.4 452.6 833.6 453.0 833.5 453.4 833.5 453.8 832.8 454.2 832.4 454.6 833.1 455.0 832.8 455.4 833.5 455.8 833.6 456.2 833.4 456.6 833.2 457.0 833.3 457.4 833.7 457.7 833.0 458.1 833.6 458.5 833.5 458.9 833.3 459.3 833.7 459.7 832.9 460.1 833.4 460.5 832.8 460.9 832.8 461.3 832.7 461.7 833.2 462.1 832.6 462.5 833.0 462.9 832.5 463.3 833.3 463.7 833.5 464.1 832.9 464.5 833.4 464.9 832.9 465.3 833.4 465.7 832.7 466.1 832.0 466.4 833.0 466.8 832.4 467.2 831.9 467.6 832.0 468.0 831.5 468.4 831.8 468.8 831.2 469.2 831.9 469.6 831.3 470.0 830.1 470.4 829.8 470.8 829.8 471.2 828.9 471.6 829.2 472.0 828.9 472.4 828.3 472.8 828.2 473.2 828.4 473.6 828.8 474.0 828.9 474.4 828.6 474.7 829.1 475.1 828.9 475.5 829.6 475.9 829.4 476.3 830.3 476.7 829.9 477.1 830.2 477.5 830.8 477.9 831.2 478.3 830.6 478.7 831.0 479.1 831.3 479.5 831.4 479.9 831.0 480.3 831.4 480.7 831.2 481.1 831.8 481.5 831.5 481.9 830.8 482.3 830.5 482.7 831.2 483.1 831.6 483.4 831.2 483.8 831.4 484.2 830.9 484.6 830.5 485.0 831.2 485.4 830.9 485.8 831.1 486.2 830.3 486.6 830.8 487.0 830.5 487.4 830.9 487.8 830.4 488.2 830.3 488.6 830.3 489.0 830.8 489.4 830.4 489.8 830.0 490.2 829.9 490.6 829.8 491.0 830.6 491.4 829.4 491.7 829.7 492.1 830.1 492.5 830.2 492.9 829.7 493.3 830.0 493.7 829.9 494.1 829.9 494.5 829.5 494.9 830.0 495.3 829.4 495.7 829.8 496.1 828.8 496.5 829.4 496.9 828.6 497.3 828.4 497.7 829.0 498.1 828.5 498.5 828.8 498.9 828.2 499.3 829.0 499.7 828.4 500.1 827.9 500.4 828.3 500.8 828.4 501.2 827.7 501.6 828.1 502.0 828.5 502.4 828.0 502.8 827.6 503.2 827.3 503.6 827.6 504.0 826.7 504.4 826.1 504.8 826.8 505.2 826.5 505.6 827.4 506.0 826.7 506.4 826.2 506.8 826.0 507.2 826.4 507.6 825.8 508.0 825.8 508.4 825.8 508.7 825.7 509.1 825.6 509.5 825.4 509.9 825.7 510.3 825.7 510.7 824.3 511.1 825.7 511.5 824.6 511.9 824.9 512.3 824.0 512.7 824.2 513.1 824.0 513.5 823.7 513.9 823.8 514.3 823.5 514.7 822.8 515.1 822.9 515.5 823.0 515.9 822.8 516.3 822.2 516.7 822.0 517.0 821.8 517.4 821.3 517.8 821.0 518.2 821.7 518.6 820.8 519.0 820.7 519.4 820.2 519.8 820.6 520.2 820.5 520.6 819.6 521.0 819.6 521.4 818.8 521.8 819.4 522.2 818.8 522.6 817.9 523.0 818.4 523.4 817.7 523.8 817.4 524.2 817.1 524.6 816.4 525.0 816.1 525.4 816.1 525.7 815.6 526.1 814.9 526.5 815.5 526.9 814.4 527.3 813.9 527.7 813.4 528.1 813.5 528.5 813.2 528.9 812.5 529.3 812.3 529.7 811.0 530.1 810.9 530.5 810.4 530.9 810.1 531.3 809.8 531.7 808.4 532.1 809.7 532.5 807.8 532.9 807.7 533.3 807.3 533.7 806.8 534.0 806.0 534.4 804.3 534.8 804.4 535.2 804.4 535.6 803.2 536.0 802.5 536.4 801.4 536.8 802.0 537.2 801.1 537.6 800.0 538.0 799.5 538.4 798.9 538.8 797.8 539.2 797.4 539.6 796.8 540.0 796.2 540.4 795.7 540.8 794.5 541.2 793.5 541.6 793.0 542.0 791.9 542.4 790.9 542.7 790.9 543.1 789.5 543.5 788.9 543.9 788.3 544.3 786.8 544.7 786.6 545.1 785.7 545.5 784.7 545.9 784.0 546.3 782.8 546.7 781.4 547.1 781.3 547.5 780.2 547.9 780.0 548.3 779.0 548.7 778.0 549.1 777.4 549.5 777.1 549.9 776.3 550.3 775.3 550.7 774.6 551.0 773.7 551.4 773.1 551.8 772.7 552.2 771.9 552.6 771.5 553.0 770.5 553.4 769.8 553.8 769.4 554.2 769.4 554.6 769.7 555.0 769.3 555.4 768.3 555.8 767.9 556.2 768.5 556.6 768.3 557.0 767.5 557.4 768.4 557.8 768.1 558.2 768.6 558.6 768.6 559.0 769.1 559.4 769.4 559.7 769.6 560.1 770.5 560.5 771.1 560.9 772.5 561.3 772.9 561.7 773.7 562.1 775.6 562.5 776.9 562.9 778.2 563.3 779.4 563.7 779.8 564.1 781.4 564.5 782.8 564.9 784.4 565.3 785.1 565.7 787.2 566.1 788.8 566.5 789.8 566.9 791.6 567.3 793.4 567.7 794.4 568.0 796.1 568.4 797.5 568.8 798.7 569.2 800.0 569.6 801.1 570.0 802.9 570.4 803.6 570.8 804.8 571.2 806.5 571.6 807.2 572.0 808.7 572.4 810.1 572.8 810.8 573.2 811.9 573.6 813.2 574.0 814.1 574.4 814.2 574.8 815.2 575.2 817.1 575.6 817.6 576.0 817.5 576.4 818.6 576.7 819.8 577.1 820.2 577.5 821.4 577.9 821.9 578.3 822.7 578.7 822.7 579.1 823.9 579.5 824.9 579.9 824.4 580.3 825.7 580.7 826.0 581.1 826.4 581.5 826.5 581.9 826.5 582.3 827.0 582.7 828.0 583.1 828.4 583.5 828.8 583.9 829.0 584.3 829.3 584.7 829.1 585.0 829.0 585.4 829.8 585.8 830.1 586.2 830.2 586.6 829.8 587.0 830.4 587.4 830.2 587.8 831.0 588.2 830.7 588.6 831.2 589.0 831.5 589.4 831.6 589.8 832.1 590.2 831.4 590.6 831.2 591.0 832.4 591.4 832.6 591.8 832.7 592.2 832.4 592.6 832.6 593.0 832.6 593.4 832.2 593.7 832.5 594.1 832.9 594.5 832.6 594.9 833.6 595.3 832.4 595.7 832.9 596.1 833.5 596.5 832.9 596.9 832.8 597.3 832.8 597.7 833.0 598.1 833.9 598.5 833.5 598.9 833.6 599.3 833.2 599.7 833.7 600.1 833.5 600.5 833.1 600.9 833.3 601.3 833.4 601.7 833.7 602.0 833.1 602.4 833.1 602.8 833.2 603.2 831.2 603.6 829.1 604.0 826.8 604.4 822.6 604.8 818.7 605.2 818.1 605.6 820.9 606.0 825.5 606.4 828.7 606.8 831.5 607.2 832.1 607.6 832.9 608.0 833.6 608.4 833.7 608.8 834.2 609.2 834.1 609.6 834.0 610.0 834.4 610.3 834.2 610.7 833.9 611.1 834.1 611.5 834.3 611.9 834.4 612.3 834.7 612.7 835.0 613.1 834.9 613.5 835.4 613.9 835.2 614.3 834.7 614.7 835.4 615.1 835.3 615.5 834.7 615.9 835.0 616.3 835.3 616.7 835.0 617.1 835.3 617.5 835.1 617.9 835.3 618.3 834.9 618.7 835.2 619.0 835.0 619.4 835.3 619.8 834.5 620.2 835.3 620.6 835.6 621.0 835.4 621.4 835.2 621.8 835.4 622.2 834.9 622.6 834.9 623.0 835.1 623.4 835.2 623.8 835.6 624.2 835.0 624.6 835.7 625.0 834.8 625.4 835.1 625.8 835.3 626.2 835.8 626.6 835.2 627.0 834.6 627.3 835.5 627.7 835.4 628.1 835.0 628.5 835.1 628.9 835.2 629.3 835.5 629.7 835.7 630.1 835.0 630.5 836.3 630.9 835.5 631.3 835.4 631.7 835.8 632.1 835.6 632.5 836.4 632.9 835.9 633.3 835.4 633.7 835.4 634.1 835.4 634.5 835.5 634.9 835.8 635.3 835.4 635.7 836.2 636.0 835.6 636.4 835.6 636.8 836.0 637.2 834.9 637.6 835.3 638.0 835.9 638.4 835.7 638.8 835.7 639.2 835.8 639.6 835.5 640.0 835.6 640.4 835.2 640.8 835.0 641.2 836.2 641.6 835.4 642.0 835.5 642.4 836.2 642.8 836.1 643.2 835.6 643.6 835.6 644.0 835.7 644.3 835.4 644.7 836.0 645.1 835.8 645.5 835.8 645.9 836.0 646.3 836.0 646.7 836.4 647.1 836.3 647.5 835.2 647.9 836.1 648.3 835.4 648.7 835.3 649.1 836.1 649.5 835.6 649.9 835.7 650.3 836.2 650.7 835.6 651.1 835.5 651.5 836.0 651.9 836.3 652.3 836.0 652.7 835.3 653.0 835.6 653.4 835.8 653.8 836.6 654.2 836.2 654.6 836.2 655.0 836.3 655.4 835.8 655.8 836.1 656.2 836.1 656.6 835.6 657.0 835.9 657.4 836.1 657.8 835.5 658.2 836.2 658.6 836.2 659.0 836.3 659.4 835.7 659.8 836.0 660.2 836.4 660.6 836.2 661.0 835.7 661.3 836.0 661.7 836.4 662.1 835.9 662.5 836.1 662.9 836.9 663.3 835.9 663.7 835.9 664.1 835.6 664.5 835.7 664.9 836.5 665.3 835.9 665.7 835.6 666.1 835.6 666.5 836.0 666.9 836.2 667.3 835.7 667.7 836.2 668.1 835.8 668.5 836.1 668.9 836.2 669.3 836.2 669.7 835.8 670.0 835.9 670.4 836.2 670.8 835.5 671.2 836.0 671.6 836.2 672.0 836.4 672.4 836.0 672.8 835.9 673.2 836.0 673.6 835.7 674.0 835.9 674.4 836.1 674.8 836.1 675.2 835.6 675.6 835.9 676.0 835.3 676.4 836.3 676.8 835.8 677.2 836.1 677.6 835.6 678.0 836.0 678.3 836.1 678.7 836.3 679.1 835.5 679.5 836.3 679.9 835.9 680.3 835.7 680.7 836.2 681.1 835.9 681.5 835.9 681.9 835.7 682.3 836.1 682.7 836.0 683.1 835.9 683.5 835.7 683.9 835.8 684.3 836.1 684.7 836.4 685.1 836.0 685.5 836.5 685.9 836.0 686.3 835.6 686.7 836.2 687.0 835.6 687.4 836.1 687.8 836.3 688.2 835.9 688.6 835.9 689.0 836.8 689.4 836.0 689.8 836.1 690.2 836.2 690.6 835.9 691.0 835.9 691.4 836.1 691.8 835.1 692.2 836.4 692.6 835.6 693.0 835.6 693.4 836.1 693.8 835.9 694.2 835.5 694.6 836.0 695.0 835.5 695.3 835.7 695.7 835.4 696.1 835.6 696.5 836.0 696.9 835.9 697.3 836.0 697.7 836.2 698.1 835.8 698.5 835.6 698.9 835.7 699.3 836.4 699.7 835.8 700.1 835.9 700.5 835.7 700.9 835.8 701.3 835.9 701.7 835.7 702.1 835.6 702.5 835.4 702.9 835.3 703.3 835.6 703.7 835.6 704.0 835.5 704.4 835.0 704.8 834.3 705.2 834.4 705.6 833.8 706.0 832.4 706.4 832.5 706.8 832.0 707.2 832.3 707.6 831.6 708.0 832.1 708.4 833.5 708.8 833.2 709.2 834.0 709.6 834.3 710.0 834.5 710.4 834.4 710.8 835.0 711.2 835.5 711.6 835.3 712.0 835.3 712.3 834.9 712.7 835.4 713.1 834.9 713.5 834.8 713.9 833.5 714.3 833.5 714.7 832.0 715.1 831.4 715.5 829.9 715.9 828.0 716.3 827.2 716.7 827.0 717.1 827.0 717.5 828.1 717.9 829.0 718.3 830.5 718.7 831.6 719.1 833.0 719.5 834.1 719.9 834.3 720.3 834.5 720.6 834.3 721.0 835.0 721.4 834.8 721.8 834.3 722.2 834.4 722.6 834.9 723.0 834.7 723.4 835.6 723.8 835.0 724.2 834.7 724.6 834.8 725.0 835.6 725.4 834.7 725.8 835.2 726.2 835.1 726.6 835.4 727.0 835.1 727.4 834.7 727.8 835.0 728.2 834.8 728.6 835.1 729.0 834.6 729.3 835.3 729.7 834.5 730.1 834.6 730.5 834.2 730.9 834.4 731.3 834.3 731.7 834.3 732.1 834.4 732.5 833.8 732.9 833.6 733.3 834.2 733.7 833.6 734.1 833.3 734.5 833.8 734.9 833.6 735.3 832.2 735.7 832.8 736.1 833.1 736.5 832.9 736.9 832.2 737.3 832.7 737.6 831.6 738.0 831.5 738.4 831.3 738.8 830.9 739.2 830.8 739.6 830.4 740.0 829.6 740.4 829.6 740.8 828.3 741.2 827.8 741.6 827.7 742.0 826.3 742.4 825.7 742.8 824.2 743.2 823.1 743.6 821.8 744.0 820.3 744.4 818.3 744.8 815.9 745.2 812.1 745.6 803.8 746.0 785.0 746.3 751.1 746.7 702.7 747.1 656.2 747.5 642.5 747.9 667.2 748.3 696.8 748.7 711.4 749.1 717.3 749.5 732.2 749.9 758.8 750.3 785.6 750.7 803.3 751.1 814.3 751.5 818.7 751.9 821.7 752.3 824.0 752.7 825.4 753.1 825.7 753.5 827.2 753.9 827.2 754.3 828.1 754.6 829.1 755.0 830.0 755.4 829.8 755.8 830.6 756.2 830.9 756.6 830.8 757.0 831.5 757.4 832.3 757.8 832.0 758.2 832.5 758.6 832.8 759.0 832.5 759.4 833.4 759.8 833.6 760.2 833.8 760.6 833.9 761.0 833.4 761.4 833.4 761.8 833.5 762.2 833.6 762.6 833.7 763.0 834.4 763.3 834.7 763.7 834.0 764.1 834.6 764.5 833.9 764.9 834.3 765.3 834.1 765.7 834.0 766.1 834.6 766.5 834.7 766.9 834.6 767.3 834.6 767.7 834.4 768.1 834.8 768.5 834.6 768.9 835.0 769.3 834.5 769.7 835.0 770.1 835.2 770.5 835.5 770.9 835.4 771.3 835.1 771.6 834.9 772.0 834.5 772.4 835.1 772.8 835.7 773.2 835.8 773.6 834.3 774.0 835.0 774.4 835.1 774.8 834.9 775.2 835.3 775.6 835.3 776.0 835.1 776.4 835.3 776.8 834.8 777.2 835.0 777.6 835.0 778.0 835.7 778.4 834.8 778.8 835.3 779.2 835.7 779.6 835.4 780.0 835.7 780.3 835.2 780.7 835.6 781.1 835.7 781.5 836.2 781.9 835.7 782.3 836.0 782.7 835.5 783.1 835.5 783.5 836.0 783.9 835.7 784.3 836.0 784.7 835.7 785.1 836.2 785.5 836.3 785.9 835.2 786.3 836.2 786.7 835.7 787.1 835.7 787.5 835.5 787.9 835.8 788.3 835.1 788.6 835.3 789.0 835.3 789.4 835.6 789.8 835.9 790.2 835.8 790.6 835.7 791.0 835.3 791.4 834.9 791.8 835.7 792.2 835.6 792.6 835.7 793.0 836.1 793.4 835.5 793.8 835.5 794.2 834.8 794.6 835.8 795.0 835.6 795.4 835.3 795.8 835.7 796.2 835.2 796.6 835.4 797.0 836.3 797.3 835.8 797.7 835.9 798.1 835.8 798.5 835.8 798.9 835.6 799.3 836.4 799.7 835.6 800.1 835.8 800.5 835.5 800.9 835.5 801.3 834.7 801.7 834.9 802.1 836.1 802.5 836.1 802.9 835.4 803.3 835.6 803.7 835.8 804.1 835.2 804.5 836.2 804.9 835.2 805.3 835.3 805.6 834.6 806.0 836.1 806.4 835.6 806.8 836.1 807.2 835.2 807.6 835.7 808.0 835.6 808.4 835.6 808.8 836.3 809.2 836.4 809.6 836.0 810.0 835.4 810.4 835.9 810.8 836.0 811.2 835.8 811.6 835.8 812.0 835.7 812.4 835.2 812.8 835.6 813.2 836.1 813.6 835.2 814.0 835.6 814.3 835.8 814.7 835.1 815.1 835.5 815.5 835.0 815.9 835.3 816.3 835.0 816.7 835.2 817.1 835.4 817.5 835.4 817.9 835.5 818.3 834.7 818.7 836.1 819.1 835.4 819.5 835.1 819.9 835.3 820.3 835.6 820.7 835.2 821.1 835.4 821.5 835.4 821.9 835.7 822.3 835.3 822.6 835.7 823.0 835.6 823.4 835.5 823.8 835.9 824.2 835.5 824.6 835.1 825.0 835.6 825.4 835.5 825.8 835.5 826.2 835.6 826.6 836.3 827.0 835.6 827.4 835.6 827.8 835.4 828.2 835.9 828.6 835.5 829.0 835.2 829.4 835.0 829.8 835.7 830.2 835.7 830.6 834.9 830.9 835.2 831.3 835.7 831.7 835.8 832.1 835.0 832.5 835.3 832.9 835.7 833.3 835.3 833.7 835.3 834.1 835.2 834.5 835.0 834.9 835.4 835.3 835.5 835.7 834.9 836.1 835.4 836.5 835.8 836.9 835.5 837.3 835.7 837.7 835.2 838.1 835.9 838.5 835.1 838.9 836.0 839.3 835.2 839.6 835.1 840.0 835.1 840.4 835.2 840.8 835.2 841.2 835.1 841.6 835.2 842.0 835.6 842.4 835.6 842.8 835.2 843.2 835.7 843.6 835.0 844.0 834.9 844.4 834.9 844.8 835.5 845.2 834.7 845.6 834.8 846.0 835.7 846.4 835.8 846.8 835.7 847.2 834.7 847.6 835.2 847.9 835.5 848.3 835.2 848.7 834.6 849.1 835.0 849.5 834.5 849.9 834.6 850.3 835.8 850.7 835.3 851.1 834.5 851.5 834.4 851.9 835.1 852.3 834.7 852.7 835.0 853.1 834.6 853.5 834.7 853.9 834.7 854.3 834.2 854.7 833.8 855.1 834.0 855.5 834.0 855.9 834.0 856.3 833.8 856.6 833.5 857.0 833.3 857.4 832.2 857.8 832.1 858.2 831.1 858.6 828.9 859.0 826.7 859.4 824.5 859.8 821.3 860.2 818.0 860.6 815.1 861.0 813.0 861.4 812.3 861.8 813.4 862.2 814.7 862.6 815.4 863.0 817.5 863.4 819.6 863.8 821.7 864.2 823.9 864.6 826.3 864.9 827.6 865.3 829.9 865.7 831.0 866.1 832.8 866.5 833.0 866.9 833.1 867.3 833.5 867.7 834.4 868.1 834.5 868.5 834.1 868.9 834.1 869.3 833.7 869.7 834.2 870.1 834.3 870.5 834.1 870.9 835.0 871.3 833.8 871.7 834.4 872.1 834.6 872.5 834.6 872.9 835.0 873.3 833.9 873.6 834.2 874.0 834.5 874.4 834.4 874.8 834.2 875.2 834.1 875.6 834.7 876.0 833.9 876.4 834.1 876.8 834.8 877.2 834.8 877.6 834.5 878.0 833.8 878.4 833.8 878.8 833.8 879.2 833.6 879.6 833.8 880.0 834.4 880.4 834.0 880.8 833.6 881.2 833.5 881.6 833.3 881.9 834.1 882.3 832.9 882.7 833.7 883.1 833.0 883.5 833.1 883.9 832.9 884.3 833.7 884.7 833.3 885.1 834.2 885.5 832.9 885.9 832.8 886.3 833.4 886.7 833.3 887.1 833.0 887.5 832.3 887.9 833.5 888.3 833.2 888.7 833.1 889.1 832.7 889.5 833.1 889.9 832.7 890.3 832.9 890.6 832.8 891.0 833.3 891.4 832.7 891.8 832.7 892.2 833.3 892.6 833.0 893.0 832.9 893.4 832.9 893.8 833.3 894.2 832.8 894.6 833.2 895.0 833.8 895.4 833.3 895.8 832.9 896.2 832.8 896.6 833.3 897.0 832.9 897.4 832.8 897.8 833.1 898.2 833.1 898.6 833.8 898.9 833.1 899.3 834.2 899.7 833.4 900.1 833.8 900.5 834.0 900.9 833.9 901.3 834.1 901.7 833.6 902.1 833.2 902.5 834.0 902.9 833.5 903.3 834.0 903.7 834.5 904.1 834.2 904.5 834.1 904.9 833.9 905.3 834.3 905.7 834.4 906.1 833.9 906.5 834.6 906.9 834.2 907.3 834.7 907.6 834.5 908.0 835.0 908.4 835.0 908.8 834.7 909.2 834.7 909.6 835.0 910.0 835.3 910.4 835.2 910.8 834.9 911.2 835.0 911.6 835.5 912.0 834.4 912.4 835.2 912.8 834.7 913.2 835.5 913.6 834.9 914.0 835.0 914.4 834.7 914.8 835.1 915.2 835.4 915.6 835.7 915.9 834.7 916.3 835.0 916.7 836.6 917.1 835.6 917.5 835.2 917.9 835.4 918.3 834.3 918.7 835.8 919.1 835.3 919.5 834.8 919.9 835.7 920.3 835.1 920.7 835.0 921.1 835.5 921.5 835.5 921.9 835.2 922.3 835.4 922.7 834.9 923.1 834.9 923.5 835.7 923.9 835.9 924.2 835.6 924.6 835.6 925.0 835.3 925.4 835.4 925.8 835.1 926.2 836.1 926.6 835.3 927.0 835.6 927.4 835.5 927.8 835.0 928.2 836.2 928.6 835.4 929.0 835.2 929.4 835.6 929.8 835.2 930.2 835.5 930.6 835.2 931.0 835.7 931.4 835.6 931.8 835.1 932.2 835.9 932.6 835.6 932.9 835.2 933.3 835.7 933.7 835.8 934.1 836.3 934.5 835.3 934.9 835.9 935.3 835.6 935.7 835.9 936.1 835.6 936.5 835.6 936.9 835.8 937.3 835.2 937.7 834.9 938.1 835.7 938.5 835.5 938.9 835.7 939.3 835.9 939.7 835.6 940.1 836.1 940.5 835.7 940.9 835.8 941.2 836.0 941.6 836.0 942.0 835.7 942.4 835.8 942.8 835.5 943.2 835.6 943.6 835.8 944.0 836.1 944.4 835.6 944.8 836.1 945.2 836.5 945.6 836.6 946.0 835.8 946.4 836.2 946.8 836.1 947.2 836.1 947.6 836.1 948.0 836.0 948.4 836.2 948.8 835.9 949.2 835.8 949.6 836.0 949.9 836.1 950.3 836.3 950.7 836.0 951.1 836.2 951.5 836.4 951.9 835.6 952.3 835.8 952.7 836.1 953.1 836.0 953.5 835.6 953.9 836.3 954.3 835.9 954.7 835.6 955.1 836.6 955.5 835.5 955.9 836.0 956.3 835.8 956.7 836.0 957.1 836.2 957.5 835.7 957.9 836.0 958.2 836.0 958.6 835.7 959.0 836.4 959.4 836.1 959.8 835.9 960.2 835.8 960.6 835.9 961.0 836.1 961.4 835.9 961.8 836.5 962.2 835.2 962.6 835.3 963.0 836.0 963.4 835.4 963.8 836.0 964.2 835.8 964.6 836.3 965.0 836.2 965.4 836.5 965.8 836.4 966.2 836.5 966.6 836.3 966.9 836.4 967.3 836.2 967.7 835.9 968.1 835.6 968.5 835.6 968.9 836.2 969.3 835.2 969.7 836.1 970.1 835.8 970.5 836.3 970.9 836.1 971.3 835.7 971.7 836.0 972.1 835.1 972.5 836.0 972.9 836.0 973.3 835.2 973.7 836.0 974.1 835.6 974.5 835.6 974.9 834.9 975.2 835.3 975.6 834.9 976.0 834.0 976.4 832.7 976.8 832.1 977.2 830.7 977.6 828.6 978.0 827.2 978.4 825.7 978.8 825.9 979.2 826.6 979.6 827.5 980.0 829.2 980.4 828.9 980.8 829.1 981.2 830.3 981.6 830.6 982.0 832.2 982.4 833.4 982.8 833.8 983.2 834.5 983.6 834.8 983.9 835.5 984.3 835.4 984.7 836.4 985.1 836.1 985.5 835.9 985.9 835.5 986.3 836.8 986.7 836.6 987.1 836.3 987.5 836.3 987.9 836.3 988.3 836.1 988.7 836.9 989.1 836.3 989.5 835.8 989.9 836.1 990.3 835.4 990.7 836.6 991.1 836.6 991.5 837.0 991.9 837.1 992.2 836.1 992.6 836.5 993.0 836.7 993.4 836.7 993.8 836.2 994.2 836.7 994.6 836.6 995.0 836.9 995.4 836.4 995.8 836.3 996.2 836.2 996.6 836.3 997.0 836.2 997.4 836.3 997.8 836.6 998.2 836.6 998.6 836.9 999.0 836.8 999.4 836.7 999.8 836.0 1000.2 836.6 1000.6 836.8 1000.9 836.0 1001.3 836.0 1001.7 836.1 1002.1 836.1 1002.5 836.3 1002.9 836.1 1003.3 836.6 1003.7 836.0 1004.1 836.4 1004.5 836.3 1004.9 836.1 1005.3 836.8 1005.7 836.4 1006.1 836.6 1006.5 836.3 1006.9 836.7 1007.3 836.6 1007.7 836.4 1008.1 835.8 1008.5 836.7 1008.9 836.6 1009.2 836.5 1009.6 836.5 1010.0 836.4 1010.4 836.5 1010.8 836.0 1011.2 836.4 1011.6 836.5 1012.0 836.2 1012.4 836.0 1012.8 837.0 1013.2 836.6 1013.6 836.2 1014.0 836.2 1014.4 835.4 1014.8 835.8 1015.2 836.2 1015.6 836.8 1016.0 835.6 1016.4 836.1 1016.8 837.0 1017.2 836.5 1017.6 836.4 1017.9 836.7 1018.3 836.2 1018.7 836.2 1019.1 836.5 1019.5 836.6 1019.9 835.9 1020.3 836.8 1020.7 835.6 1021.1 836.0 1021.5 837.3 1021.9 836.0 1022.3 836.4 1022.7 835.9 1023.1 836.1 1023.5 835.9 1023.9 836.0 1024.3 836.4 1024.7 836.8 1025.1 836.5 1025.5 836.7 1025.9 836.0 1026.2 836.6 1026.6 836.3 1027.0 836.6 1027.4 836.0 1027.8 836.0 1028.2 836.6 1028.6 836.3 1029.0 836.1 1029.4 835.8 1029.8 836.0 1030.2 836.2 1030.6 836.3 1031.0 835.8 1031.4 835.9 1031.8 836.1 1032.2 835.6 1032.6 836.3 1033.0 836.0 1033.4 835.9 1033.8 835.1 1034.2 835.4 1034.5 835.5 1034.9 835.7 1035.3 835.5 1035.7 836.0 1036.1 835.9 1036.5 835.8 1036.9 835.1 1037.3 836.3 1037.7 835.7 1038.1 836.0 1038.5 835.6 1038.9 835.8 1039.3 836.0 1039.7 835.8 1040.1 836.1 1040.5 835.7 1040.9 836.4 1041.3 835.0 1041.7 835.5 1042.1 836.0 1042.5 835.6 1042.9 835.5 1043.2 835.0 1043.6 836.1 1044.0 835.0 1044.4 835.8 1044.8 835.7 1045.2 835.9 1045.6 836.1 1046.0 835.3 1046.4 835.3 1046.8 835.4 1047.2 834.9 1047.6 835.8 1048.0 835.4 1048.4 835.6 1048.8 835.1 1049.2 835.5 1049.6 835.2 1050.0 835.4 1050.4 835.1 1050.8 835.8 1051.2 835.2 1051.5 834.5 1051.9 835.6 1052.3 835.3 1052.7 835.1 1053.1 836.2 1053.5 835.3 1053.9 834.9 1054.3 835.1 1054.7 835.4 1055.1 835.2 1055.5 835.7 1055.9 835.6 1056.3 835.0 1056.7 835.3 1057.1 835.5 1057.5 835.1 1057.9 835.0 1058.3 835.5 1058.7 835.3 1059.1 834.7 1059.5 835.0 1059.9 835.0 1060.2 835.1 1060.6 834.9 1061.0 835.6 1061.4 834.8 1061.8 834.7 1062.2 835.2 1062.6 834.3 1063.0 834.7 1063.4 835.3 1063.8 834.6 1064.2 834.7 1064.6 835.4 1065.0 835.2 1065.4 835.0 1065.8 835.1 1066.2 834.7 1066.6 835.1 1067.0 834.9 1067.4 835.8 1067.8 835.1 1068.2 834.8 1068.5 834.9 1068.9 834.9 1069.3 834.4 1069.7 834.6 1070.1 835.4 1070.5 834.4 1070.9 834.7 1071.3 835.2 1071.7 835.4 1072.1 834.5 1072.5 835.3 1072.9 834.7 1073.3 835.4 1073.7 835.0 1074.1 834.7 1074.5 835.0 1074.9 835.0 1075.3 834.5 1075.7 835.5 1076.1 834.6 1076.5 835.1 1076.9 834.6 1077.2 834.1 1077.6 834.3 1078.0 834.7 1078.4 834.9 1078.8 835.3 1079.2 834.7 1079.6 834.6 1080.0 834.2 1080.4 834.6 1080.8 834.8 1081.2 833.9 1081.6 835.1 1082.0 835.0 1082.4 835.4 1082.8 834.3 1083.2 834.6 1083.6 834.6 1084.0 834.1 1084.4 834.3 1084.8 834.2 1085.2 834.8 1085.5 834.7 1085.9 835.0 1086.3 834.4 1086.7 834.1 1087.1 834.7 1087.5 834.7 1087.9 834.8 1088.3 835.0 1088.7 834.3 1089.1 834.8 1089.5 834.2 1089.9 834.6 1090.3 834.7 1090.7 834.5 1091.1 834.6 1091.5 834.0 1091.9 834.3 1092.3 834.5 1092.7 834.1 1093.1 834.2 1093.5 835.3 1093.9 834.6 1094.2 834.2 1094.6 834.1 1095.0 834.9 1095.4 833.5 1095.8 834.3 1096.2 834.7 1096.6 834.2 1097.0 834.6 1097.4 834.1 1097.8 834.4 1098.2 834.4 1098.6 834.4 1099.0 834.5 1099.4 834.4 1099.8 834.8 1100.2 834.3 1100.6 834.2 1101.0 834.3 1101.4 834.3 1101.8 833.9 1102.2 833.7 1102.5 833.9 1102.9 834.5 1103.3 834.2 1103.7 834.3 1104.1 835.4 1104.5 834.8 1104.9 834.3 1105.3 834.2 1105.7 834.9 1106.1 834.2 1106.5 834.9 1106.9 834.6 1107.3 834.9 1107.7 834.2 1108.1 834.8 1108.5 833.8 1108.9 834.4 1109.3 834.8 1109.7 834.7 1110.1 833.8 1110.5 834.7 1110.9 834.6 1111.2 834.4 1111.6 834.2 1112.0 834.4 1112.4 834.3 1112.8 834.8 1113.2 834.6 1113.6 834.9 1114.0 834.7 1114.4 834.1 1114.8 834.6 1115.2 835.3 1115.6 834.1 1116.0 834.6 1116.4 834.3 1116.8 834.2 1117.2 834.6 1117.6 834.9 1118.0 834.8 1118.4 834.7 1118.8 834.9 1119.2 834.0 1119.5 834.9 1119.9 834.7 1120.3 834.5 1120.7 834.6 1121.1 834.3 1121.5 835.0 1121.9 834.3 1122.3 834.1 1122.7 834.6 1123.1 834.4 1123.5 834.6 1123.9 835.2 1124.3 834.6 1124.7 834.7 1125.1 835.5 1125.5 834.2 1125.9 834.8 1126.3 835.1 1126.7 835.2 1127.1 835.5 1127.5 834.5 1127.9 834.9 1128.2 834.7 1128.6 834.6 1129.0 834.5 1129.4 834.2 1129.8 834.9 1130.2 835.0 1130.6 834.4 1131.0 835.0 1131.4 834.6 1131.8 834.4 1132.2 833.9 1132.6 835.2 1133.0 835.1 1133.4 834.7 1133.8 834.7 1134.2 834.4 1134.6 835.0 1135.0 834.8 1135.4 835.1 1135.8 834.9 1136.2 834.4 1136.5 834.3 1136.9 835.0 1137.3 834.3 1137.7 835.0 1138.1 835.2 1138.5 834.5 1138.9 835.2 1139.3 835.0 1139.7 835.1 1140.1 834.7 1140.5 835.0 1140.9 835.1 1141.3 835.6 1141.7 835.2 1142.1 835.2 1142.5 834.5 1142.9 835.1 1143.3 834.7 1143.7 835.0 1144.1 835.1 1144.5 835.3 1144.8 835.2 1145.2 835.0 1145.6 834.9 1146.0 835.4 1146.4 834.6 1146.8 834.9 1147.2 835.3 1147.6 834.7 1148.0 834.9 1148.4 834.8 1148.8 835.0 1149.2 834.4 1149.6 833.0 1150.0 833.0 1150.4 832.5 1150.8 832.0 1151.2 831.0 1151.6 830.8 1152.0 830.0 1152.4 829.0 1152.8 829.3 1153.2 829.3 1153.5 831.3 1153.9 831.4 1154.3 832.2 1154.7 832.4 1155.1 833.3 1155.5 834.1 1155.9 834.2 1156.3 834.5 1156.7 834.6 1157.1 835.6 1157.5 834.8 1157.9 834.6 1158.3 835.0 1158.7 835.1 1159.1 835.2 1159.5 835.2 1159.9 834.9 1160.3 835.3 1160.7 835.5 1161.1 834.9 1161.5 836.1 1161.8 836.0 1162.2 834.8 1162.6 835.3 1163.0 835.8 1163.4 835.9 1163.8 836.1 1164.2 834.8 1164.6 835.1 1165.0 835.3 1165.4 835.7 1165.8 835.1 1166.2 835.7 1166.6 835.7 1167.0 835.8 1167.4 835.1 1167.8 835.6 1168.2 835.5 1168.6 835.2 1169.0 835.8 1169.4 835.1 1169.8 835.6 1170.2 834.6 1170.5 835.2 1170.9 834.9 1171.3 833.7 1171.7 833.8 1172.1 833.6 1172.5 833.0 1172.9 833.7 1173.3 833.8 1173.7 833.6 1174.1 834.3 1174.5 834.9 1174.9 834.8 1175.3 834.9 1175.7 835.9 1176.1 835.1 1176.5 835.7 1176.9 836.1 1177.3 836.0 1177.7 835.2 1178.1 835.7 1178.5 835.8 1178.8 835.8 1179.2 836.2 1179.6 836.1 1180.0 836.0 1180.4 836.1 1180.8 836.4 1181.2 836.5 1181.6 835.4 1182.0 836.8 1182.4 835.9 1182.8 836.4 1183.2 835.5 1183.6 835.9 1184.0 835.7 1184.4 836.5 1184.8 836.4 1185.2 836.1 1185.6 836.1 1186.0 836.3 1186.4 835.8 1186.8 836.0 1187.2 835.9 1187.5 836.5 1187.9 836.2 1188.3 835.8 1188.7 836.3 1189.1 836.4 1189.5 836.7 1189.9 836.0 1190.3 836.4 1190.7 837.0 1191.1 836.1 1191.5 836.1 1191.9 836.4 1192.3 836.1 1192.7 836.3 1193.1 836.1 1193.5 836.0 1193.9 836.6 1194.3 836.2 1194.7 835.9 1195.1 836.2 1195.5 836.2 1195.8 836.4 1196.2 836.6 1196.6 836.9 1197.0 835.9 1197.4 836.2 1197.8 835.7 1198.2 836.4 1198.6 836.5 1199.0 836.1 1199.4 836.0 1199.8 836.0 1200.2 835.8 1200.6 836.5 1201.0 837.0 1201.4 835.9 1201.8 836.9 1202.2 836.3 1202.6 835.8 1203.0 836.5 1203.4 836.6 1203.8 836.4 1204.2 836.2 1204.5 836.9 1204.9 836.2 1205.3 836.5 1205.7 836.5 1206.1 836.0 1206.5 835.6 1206.9 835.7 1207.3 836.1 1207.7 836.4 1208.1 835.6 1208.5 836.0 1208.9 836.8 1209.3 835.6 1209.7 836.4 1210.1 836.3 1210.5 836.5 1210.9 835.7 1211.3 836.3 1211.7 835.7 1212.1 836.6 1212.5 835.8 1212.8 836.3 1213.2 835.8 1213.6 836.1 1214.0 835.5 1214.4 836.1 1214.8 836.2 1215.2 836.0 1215.6 836.5 1216.0 836.0 1216.4 836.1 1216.8 836.0 1217.2 836.4 1217.6 835.5 1218.0 835.5 1218.4 835.5 1218.8 835.7 1219.2 835.5 1219.6 835.6 1220.0 835.3 1220.4 834.8 1220.8 834.8 1221.2 834.8 1221.5 833.6 1221.9 834.7 1222.3 833.7 1222.7 833.4 1223.1 833.1 1223.5 832.2 1223.9 830.9 1224.3 830.0 1224.7 828.5 1225.1 825.2 1225.5 820.7 1225.9 813.7 1226.3 805.6 1226.7 796.2 1227.1 786.1 1227.5 776.7 1227.9 771.4 1228.3 771.7 1228.7 778.1 1229.1 783.9 1229.5 790.6 1229.8 794.9 1230.2 797.6 1230.6 797.0 1231.0 797.6 1231.4 800.1 1231.8 804.5 1232.2 810.4 1232.6 815.8 1233.0 820.3 1233.4 824.0 1233.8 827.9 1234.2 829.8 1234.6 832.1 1235.0 832.1 1235.4 833.4 1235.8 833.6 1236.2 833.9 1236.6 835.1 1237.0 834.8 1237.4 834.9 1237.8 835.4 1238.1 835.0 1238.5 835.3 1238.9 835.3 1239.3 836.4 1239.7 835.9 1240.1 836.1 1240.5 836.3 1240.9 835.9 1241.3 836.0 1241.7 835.5 1242.1 836.3 1242.5 836.3 1242.9 836.1 1243.3 836.7 1243.7 835.7 1244.1 836.5 1244.5 835.9 1244.9 836.0 1245.3 836.4 1245.7 836.9 1246.1 836.1 1246.5 836.1 1246.8 836.1 1247.2 837.3 1247.6 836.8 1248.0 836.7 1248.4 837.3 1248.8 836.7 1249.2 835.9 1249.6 836.5 1250.0 836.2 1250.4 837.4 1250.8 836.2 1251.2 836.8 1251.6 836.5 1252.0 836.5 1252.4 836.7 1252.8 836.7 1253.2 836.5 1253.6 836.3 1254.0 836.5 1254.4 836.4 1254.8 836.4 1255.1 836.8 1255.5 836.7 1255.9 837.0 1256.3 836.7 1256.7 837.5 1257.1 836.5 1257.5 836.4 1257.9 837.2 1258.3 836.6 1258.7 836.9 1259.1 837.2 1259.5 836.8 1259.9 836.7 1260.3 837.2 1260.7 837.0 1261.1 836.7 1261.5 836.4 1261.9 836.7 1262.3 836.3 1262.7 836.5 1263.1 836.5 1263.5 837.0 1263.8 837.1 1264.2 836.6 1264.6 836.7 1265.0 836.5 1265.4 836.4 1265.8 836.7 1266.2 837.1 1266.6 837.1 1267.0 837.1 1267.4 836.8 1267.8 835.9 1268.2 837.2 1268.6 837.4 1269.0 837.2 1269.4 837.2 1269.8 837.3 1270.2 837.9 1270.6 837.0 1271.0 837.5 1271.4 837.2 1271.8 837.2 1272.1 836.9 1272.5 836.8 1272.9 836.5 1273.3 837.1 1273.7 836.8 1274.1 836.5 1274.5 836.6 1274.9 836.5 1275.3 837.5 1275.7 836.8 1276.1 837.0 1276.5 836.5 1276.9 836.6 1277.3 837.3 1277.7 836.8 1278.1 837.0 1278.5 837.6 1278.9 837.7 1279.3 837.2 1279.7 837.1 1280.1 837.0 1280.5 836.8 1280.8 837.7 1281.2 836.5 1281.6 836.9 1282.0 836.2 1282.4 836.5 1282.8 837.1 1283.2 837.1 1283.6 837.1 1284.0 836.8 1284.4 836.7 1284.8 836.7 1285.2 836.8 1285.6 837.3 1286.0 837.5 1286.4 837.1 1286.8 836.8 1287.2 836.6 1287.6 837.1 1288.0 836.9 1288.4 836.3 1288.8 837.4 1289.1 836.9 1289.5 836.8 1289.9 836.6 1290.3 836.6 1290.7 837.3 1291.1 836.6 1291.5 837.0 1291.9 837.2 1292.3 837.6 1292.7 837.2 1293.1 836.9 1293.5 836.8 1293.9 837.3 1294.3 837.3 1294.7 836.8 1295.1 837.2 1295.5 836.9 1295.9 836.4 1296.3 836.6 1296.7 837.3 1297.1 837.5 1297.5 837.2 1297.8 836.9 1298.2 836.7 1298.6 837.2 1299.0 837.1 1299.4 836.4 1299.8 837.2 1300.2 836.7 1300.6 837.2 1301.0 837.2 1301.4 837.2 1301.8 837.3 1302.2 837.2 1302.6 836.6 1303.0 836.6 1303.4 837.3 1303.8 837.1 1304.2 836.4 1304.6 836.2 1305.0 837.3 1305.4 837.8 1305.8 837.3 1306.1 836.9 1306.5 837.1 1306.9 836.0 1307.3 836.6 1307.7 837.3 1308.1 837.3 1308.5 836.2 1308.9 837.4 1309.3 837.2 1309.7 837.3 1310.1 836.9 1310.5 837.0 1310.9 836.6 1311.3 837.1 1311.7 837.3 1312.1 836.6 1312.5 837.1 1312.9 836.8 1313.3 837.3 1313.7 837.3 1314.1 836.1 1314.5 837.1 1314.8 837.3 1315.2 836.8 1315.6 836.9 1316.0 836.9 1316.4 836.5 1316.8 836.9 1317.2 837.5 1317.6 837.1 1318.0 837.5 1318.4 837.3 1318.8 837.4 1319.2 837.0 1319.6 837.2 1320.0 837.7 1320.4 837.5 1320.8 837.1 1321.2 836.7 1321.6 836.6 1322.0 837.1 1322.4 837.1 1322.8 836.3 1323.1 837.0 1323.5 837.1 1323.9 837.1 1324.3 836.8 1324.7 837.8 1325.1 837.3 1325.5 836.5 1325.9 836.7 1326.3 837.3 1326.7 837.2 1327.1 837.0 1327.5 837.0 1327.9 836.9 1328.3 836.8 1328.7 836.6 1329.1 837.2 1329.5 836.0 1329.9 836.7 1330.3 837.4 1330.7 836.7 1331.1 836.5 1331.5 837.6 1331.8 837.3 1332.2 836.9 1332.6 836.7 1333.0 836.9 1333.4 836.8 1333.8 836.9 1334.2 836.7 1334.6 837.2 1335.0 836.8 1335.4 836.3 1335.8 836.5 1336.2 837.0 1336.6 836.6 1337.0 836.1 1337.4 837.5 1337.8 837.1 1338.2 836.8 1338.6 836.8 1339.0 837.1 1339.4 837.4 1339.8 836.7 1340.1 837.1 1340.5 836.7 1340.9 837.1 1341.3 836.5 1341.7 836.3 1342.1 837.0 1342.5 836.9 1342.9 837.2 1343.3 836.7 1343.7 837.4 1344.1 837.0 1344.5 837.5 1344.9 836.8 1345.3 837.5 1345.7 836.9 1346.1 837.0 1346.5 837.3 1346.9 836.3 1347.3 836.6 1347.7 837.6 1348.1 836.4 1348.4 836.8 1348.8 837.1 1349.2 837.5 1349.6 836.8 1350.0 837.0 1350.4 836.5 1350.8 836.8 1351.2 837.3 1351.6 837.1 1352.0 836.9 1352.4 837.1 1352.8 837.0 1353.2 837.0 1353.6 836.8 1354.0 836.6 1354.4 837.2 1354.8 836.5 1355.2 837.3 1355.6 837.7 1356.0 837.5 1356.4 837.8 1356.8 836.6 1357.1 837.0 1357.5 836.6 1357.9 836.7 1358.3 836.3 1358.7 836.5 1359.1 837.3 1359.5 837.2 1359.9 837.4 1360.3 837.4 1360.7 837.2 1361.1 836.7 1361.5 836.9 1361.9 837.2 1362.3 837.4 1362.7 836.8 1363.1 836.8 1363.5 836.8 1363.9 837.5 1364.3 837.2 1364.7 836.8 1365.1 836.7 1365.4 837.1 1365.8 836.4 1366.2 836.9 1366.6 836.8 1367.0 836.7 1367.4 837.0 1367.8 837.1 1368.2 838.1 1368.6 837.0 1369.0 837.2 1369.4 836.7 1369.8 836.4 1370.2 837.4 1370.6 837.7 1371.0 836.6 1371.4 836.9 1371.8 837.4 1372.2 837.0 1372.6 836.1 1373.0 837.3 1373.4 836.9 1373.8 837.2 1374.1 836.6 1374.5 837.3 1374.9 837.3 1375.3 836.7 1375.7 837.1 1376.1 836.7 1376.5 836.8 1376.9 836.6 1377.3 836.8 1377.7 836.7 1378.1 837.4 1378.5 836.9 1378.9 836.6 1379.3 837.5 1379.7 837.2 1380.1 837.3 1380.5 836.9 1380.9 837.2 1381.3 836.9 1381.7 836.6 1382.1 837.0 1382.4 837.0 1382.8 837.0 1383.2 837.3 1383.6 836.3 1384.0 837.1 1384.4 836.7 1384.8 836.9 1385.2 837.1 1385.6 837.0 1386.0 836.7 1386.4 837.2 1386.8 836.9 1387.2 837.3 1387.6 837.4 1388.0 836.8 1388.4 836.6 1388.8 837.0 1389.2 837.3 1389.6 837.1 1390.0 836.5 1390.4 836.4 1390.8 836.6 1391.1 836.6 1391.5 837.2 1391.9 837.0 1392.3 837.3 1392.7 836.9 1393.1 837.6 1393.5 837.0 1393.9 837.2 1394.3 836.8 1394.7 837.1 1395.1 837.4 1395.5 837.2 1395.9 837.4 1396.3 836.7 1396.7 837.1 1397.1 837.6 1397.5 837.1 1397.9 836.9 1398.3 836.9 1398.7 836.8 1399.1 837.0 1399.4 837.5 1399.8 837.1 1400.2 837.0 1400.6 836.7 1401.0 836.6 1401.4 837.8 1401.8 836.8 1402.2 837.0 1402.6 836.8 1403.0 837.0 1403.4 836.8 1403.8 837.0 1404.2 837.5 1404.6 836.7 1405.0 837.1 1405.4 836.9 1405.8 837.2 1406.2 836.7 1406.6 837.1 1407.0 836.6 1407.4 836.3 1407.8 836.5 1408.1 836.6 1408.5 836.5 1408.9 836.8 1409.3 837.3 1409.7 836.5 1410.1 837.1 1410.5 837.0 1410.9 836.7 1411.3 836.6 1411.7 837.1 1412.1 837.1 1412.5 836.8 1412.9 836.9 1413.3 836.9 1413.7 836.4 1414.1 836.9 1414.5 837.0 1414.9 837.5 1415.3 836.5 1415.7 836.6 1416.1 836.9 1416.4 836.7 1416.8 836.8 1417.2 836.9 1417.6 836.8 1418.0 836.9 1418.4 837.1 1418.8 836.3 1419.2 837.1 1419.6 836.1 1420.0 837.5 1420.4 837.2 1420.8 836.7 1421.2 837.2 1421.6 836.8 1422.0 837.0 1422.4 837.2 1422.8 837.0 1423.2 836.9 1423.6 837.1 1424.0 836.8 1424.4 836.7 1424.8 836.5 1425.1 836.2 1425.5 837.4 1425.9 837.1 1426.3 836.4 1426.7 837.0 1427.1 836.9 1427.5 836.1 1427.9 836.6 1428.3 836.8 1428.7 837.5 1429.1 837.2 1429.5 837.3 1429.9 837.0 1430.3 837.2 1430.7 836.4 1431.1 837.1 1431.5 837.1 1431.9 836.4 1432.3 836.9 1432.7 837.4 1433.1 837.5 1433.4 837.3 1433.8 836.6 1434.2 836.8 1434.6 836.6 1435.0 837.2 1435.4 836.5 1435.8 836.4 1436.2 836.2 1436.6 836.9 1437.0 836.9 1437.4 836.6 1437.8 836.5 1438.2 836.7 1438.6 837.2 1439.0 836.3 1439.4 836.7 1439.8 836.8 1440.2 836.9 1440.6 837.2 1441.0 837.0 1441.4 836.8 1441.7 837.2 1442.1 837.1 1442.5 836.8 1442.9 836.7 1443.3 836.2 1443.7 836.7 1444.1 836.3 1444.5 836.2 1444.9 836.5 1445.3 835.9 1445.7 836.2 1446.1 836.3 1446.5 836.6 1446.9 836.3 1447.3 836.5 1447.7 836.9 1448.1 836.6 1448.5 835.9 1448.9 835.6 1449.3 835.9 1449.7 835.9 1450.1 835.4 1450.4 835.4 1450.8 835.4 1451.2 835.7 1451.6 836.3 1452.0 836.3 1452.4 835.2 1452.8 835.3 1453.2 834.8 1453.6 834.6 1454.0 834.9 1454.4 834.7 1454.8 834.2 1455.2 834.3 1455.6 833.4 1456.0 833.3 1456.4 831.7 1456.8 830.8 1457.2 828.5 1457.6 825.7 1458.0 822.1 1458.4 816.5 1458.7 810.8 1459.1 804.5 1459.5 797.9 1459.9 792.7 1460.3 789.6 1460.7 790.0 1461.1 793.9 1461.5 798.9 1461.9 803.3 1462.3 807.9 1462.7 810.2 1463.1 811.3 1463.5 811.1 1463.9 809.8 1464.3 810.6 1464.7 810.4 1465.1 813.1 1465.5 816.5 1465.9 819.9 1466.3 823.3 1466.7 826.0 1467.1 828.6 1467.4 830.7 1467.8 832.5 1468.2 832.8 1468.6 834.0 1469.0 834.4 1469.4 834.7 1469.8 834.7 1470.2 835.1 1470.6 834.7 1471.0 835.5 1471.4 835.7 1471.8 835.6 1472.2 836.0 1472.6 836.0 1473.0 835.7 1473.4 836.4 1473.8 835.9 1474.2 837.0 1474.6 835.9 1475.0 836.0 1475.4 836.1 1475.7 836.4 1476.1 836.8 1476.5 836.4 1476.9 836.3 1477.3 837.1 1477.7 836.8 1478.1 836.4 1478.5 836.5 1478.9 836.0 1479.3 836.6 1479.7 837.2 1480.1 836.2 1480.5 836.1 1480.9 836.7 1481.3 835.8 1481.7 837.1 1482.1 836.1 1482.5 836.4 1482.9 836.6 1483.3 837.1 1483.7 836.8 1484.1 836.0 1484.4 836.1 1484.8 836.8 1485.2 836.0 1485.6 836.6 1486.0 836.4 1486.4 837.0 1486.8 837.1 1487.2 835.8 1487.6 836.9 1488.0 836.9 1488.4 836.5 1488.8 836.5 1489.2 836.3 1489.6 836.6 1490.0 836.9 1490.4 837.2 1490.8 837.2 1491.2 836.6 1491.6 836.5 1492.0 837.1 1492.4 835.8 1492.7 836.3 1493.1 837.0 1493.5 837.5 1493.9 836.5 1494.3 836.8 1494.7 836.4 1495.1 836.7 1495.5 836.7 1495.9 836.5 1496.3 836.9 1496.7 836.7 1497.1 837.0 1497.5 836.7 1497.9 836.4 1498.3 836.8 1498.7 837.1 1499.1 836.5 1499.5 837.3 1499.9 836.9 1500.3 836.7 1500.7 836.8 1501.1 836.6 1501.4 836.5 1501.8 837.1 1502.2 837.1 1502.6 836.6 1503.0 836.7 1503.4 836.7 1503.8 837.0 1504.2 837.3 1504.6 836.6 1505.0 836.9 1505.4 836.8 1505.8 837.0 1506.2 837.3 1506.6 836.5 1507.0 836.1 1507.4 836.7 1507.8 836.2 1508.2 837.4 1508.6 836.6 1509.0 836.7 1509.4 836.9 1509.7 836.9 1510.1 836.6 1510.5 836.8 1510.9 837.1 1511.3 836.7 1511.7 837.4 1512.1 836.9 1512.5 836.0 1512.9 837.1 1513.3 836.2 1513.7 836.9 1514.1 837.6 1514.5 837.2 1514.9 836.4 1515.3 836.5 1515.7 836.8 1516.1 837.3 1516.5 836.5 1516.9 837.2 1517.3 836.9 1517.7 836.7 1518.1 836.7 1518.4 837.4 1518.8 836.2 1519.2 836.4 1519.6 837.1 1520.0 837.1 1520.4 836.3 1520.8 836.4 1521.2 836.3 1521.6 836.9 1522.0 836.5 1522.4 837.2 1522.8 837.0 1523.2 836.8 1523.6 836.8 1524.0 836.9 1524.4 837.0 1524.8 836.7 1525.2 836.7 1525.6 836.9 1526.0 836.6 1526.4 837.0 1526.7 836.5 1527.1 836.3 1527.5 836.6 1527.9 837.1 1528.3 837.0 1528.7 835.8 1529.1 836.4 1529.5 836.0 1529.9 835.9 1530.3 835.7 1530.7 835.5 1531.1 835.1 1531.5 834.7 1531.9 834.4 1532.3 833.3 1532.7 832.6 1533.1 832.0 1533.5 831.4 1533.9 831.5 1534.3 830.7 1534.7 831.2 1535.1 831.6 1535.4 832.4 1535.8 832.8 1536.2 833.8 1536.6 834.1 1537.0 834.7 1537.4 835.4 1537.8 834.9 1538.2 835.9 1538.6 836.5 1539.0 836.2 1539.4 836.1 1539.8 837.0 1540.2 836.4 1540.6 836.8 1541.0 835.6 1541.4 836.5 1541.8 836.3 1542.2 836.6 1542.6 836.9 1543.0 836.5 1543.4 836.5 1543.7 835.6 1544.1 836.8 1544.5 837.0 1544.9 836.6 1545.3 836.4 1545.7 836.6 1546.1 836.9 1546.5 836.7 1546.9 837.1 1547.3 836.2 1547.7 835.8 1548.1 836.3 1548.5 836.4 1548.9 835.6 1549.3 835.6 1549.7 835.0 1550.1 834.5 1550.5 834.3 1550.9 833.5 1551.3 834.0 1551.7 833.9 1552.0 834.1 1552.4 833.6 1552.8 833.9 1553.2 833.9 1553.6 834.3 1554.0 835.5 1554.4 836.5 1554.8 835.4 1555.2 835.8 1555.6 836.5 1556.0 836.0 1556.4 836.6 1556.8 836.3 1557.2 836.4 1557.6 836.8 1558.0 836.5 1558.4 836.1 1558.8 836.9 1559.2 836.6 1559.6 836.4 1560.0 836.4 1560.4 836.8 1560.7 836.4 1561.1 836.7 1561.5 837.0 1561.9 836.6 1562.3 837.1 1562.7 836.2 1563.1 836.9 1563.5 836.9 1563.9 837.3 1564.3 836.7 1564.7 837.0 1565.1 836.6 1565.5 836.3 1565.9 836.4 1566.3 836.5 1566.7 837.0 1567.1 836.4 1567.5 836.7 1567.9 837.0 1568.3 837.1 1568.7 837.0 1569.0 837.2 1569.4 836.3 1569.8 836.5 1570.2 836.8 1570.6 837.1 1571.0 836.9 1571.4 836.4 1571.8 836.6 1572.2 836.1 1572.6 837.0 1573.0 836.1 1573.4 836.8 1573.8 837.1 1574.2 837.0 1574.6 836.1 1575.0 836.8 1575.4 836.6 1575.8 836.6 1576.2 837.3 1576.6 836.8 1577.0 836.2 1577.4 836.3 1577.7 837.0 1578.1 836.8 1578.5 836.3 1578.9 836.1 1579.3 836.5 1579.7 836.5 1580.1 837.0 1580.5 836.5 1580.9 836.9 1581.3 837.1 1581.7 836.1 1582.1 836.5 1582.5 837.2 1582.9 836.5 1583.3 836.7 1583.7 837.0 1584.1 836.4 1584.5 836.5 1584.9 836.1 1585.3 836.9 1585.7 836.5 1586.0 836.5 1586.4 835.8 1586.8 837.0 1587.2 836.9 1587.6 836.4 1588.0 837.1 1588.4 835.8 1588.8 836.6 1589.2 836.1 1589.6 837.6 1590.0 835.7 1590.4 836.2 1590.8 836.4 1591.2 836.9 1591.6 836.9 1592.0 836.8 1592.4 836.6 1592.8 837.4 1593.2 836.4 1593.6 836.8 1594.0 837.3 1594.4 836.2 1594.7 836.4 1595.1 837.0 1595.5 836.8 1595.9 836.2 1596.3 836.7 1596.7 837.3 1597.1 836.5 1597.5 836.9 1597.9 836.7 1598.3 836.4 1598.7 837.2 1599.1 837.0 1599.5 837.1 1599.9 836.6 1600.3 836.7 1600.7 836.7 1601.1 836.8 1601.5 836.5 1601.9 836.4 1602.3 837.1 1602.7 836.2 1603.0 836.5 1603.4 836.5 1603.8 836.4 1604.2 836.2 1604.6 836.3 1605.0 836.9 1605.4 836.5 1605.8 836.4 1606.2 837.2 1606.6 836.1 1607.0 837.0 1607.4 836.7 1607.8 836.1 1608.2 836.5 1608.6 836.5 1609.0 837.1 1609.4 836.9 1609.8 836.5 1610.2 836.2 1610.6 836.0 1611.0 836.5 1611.4 836.1 1611.7 836.5 1612.1 836.5 1612.5 836.7 1612.9 836.9 1613.3 836.6 1613.7 836.8 1614.1 836.5 1614.5 836.9 1614.9 836.9 1615.3 837.1 1615.7 837.1 1616.1 836.3 1616.5 836.1 1616.9 836.8 1617.3 837.0 1617.7 836.3 1618.1 837.1 1618.5 836.6 1618.9 836.5 1619.3 836.7 1619.7 836.1 1620.0 836.0 1620.4 836.4 1620.8 836.1 1621.2 836.6 1621.6 836.6 1622.0 835.7 1622.4 836.3 1622.8 836.7 1623.2 835.7 1623.6 836.4"/>
<path id="cb" d="M139.5 603.5L139.9 603.3 140.3 603.4 140.7 602.8 141.1 604.3 141.5 604.2 141.9 603.8 142.3 604.2 142.7 604.1 143.1 603.9 143.5 604.5 143.8 604.1 144.2 604.2 144.6 604.1 145.0 604.6 145.4 604.5 145.8 604.8 146.2 604.5 146.6 604.8 147.0 604.5 147.4 605.2 147.8 605.1 148.2 605.2 148.6 605.3 149.0 604.9 149.4 605.6 149.8 606.1 150.2 604.9 150.6 604.9 151.0 605.1 151.4 605.9 151.8 605.8 152.2 606.2 152.5 606.1 152.9 606.0 153.3 606.1 153.7 606.0 154.1 606.5 154.5 605.8 154.9 606.2 155.3 606.5 155.7 607.1 156.1 606.3 156.5 606.2 156.9 606.5 157.3 607.1 157.7 606.7 158.1 607.3 158.5 606.3 158.9 607.4 159.3 607.4 159.7 606.6 160.1 607.3 160.5 607.7 160.8 607.4 161.2 607.8 161.6 608.3 162.0 607.6 162.4 607.5 162.8 607.4 163.2 608.0 163.6 607.7 164.0 607.8 164.4 607.9 164.8 608.2 165.2 607.7 165.6 607.6 166.0 607.3 166.4 608.7 166.8 608.4 167.2 608.9 167.6 608.4 168.0 608.3 168.4 608.7 168.8 608.6 169.2 608.3 169.5 608.4 169.9 609.4 170.3 609.0 170.7 609.1 171.1 608.9 171.5 608.8 171.9 609.4 172.3 609.1 172.7 608.9 173.1 609.2 173.5 609.0 173.9 609.4 174.3 609.8 174.7 609.2 175.1 610.0 175.5 609.4 175.9 609.7 176.3 609.4 176.7 609.7 177.1 609.8 177.5 609.7 177.8 609.6 178.2 609.7 178.6 609.7 179.0 609.5 179.4 610.0 179.8 610.3 180.2 610.5 180.6 610.4 181.0 611.1 181.4 610.4 181.8 610.2 182.2 611.0 182.6 610.1 183.0 610.8 183.4 610.2 183.8 610.7 184.2 609.9 184.6 610.9 185.0 610.6 185.4 610.4 185.8 611.3 186.2 611.0 186.5 610.8 186.9 610.6 187.3 610.8 187.7 610.8 188.1 611.2 188.5 611.2 188.9 610.7 189.3 610.8 189.7 610.9 190.1 610.6 190.5 610.9 190.9 611.1 191.3 611.4 191.7 611.6 192.1 610.9 192.5 611.4 192.9 611.1 193.3 612.0 193.7 611.3 194.1 611.5 194.5 611.0 194.8 611.0 195.2 611.4 195.6 611.2 196.0 611.5 196.4 610.9 196.8 611.7 197.2 611.1 197.6 612.1 198.0 611.4 198.4 611.9 198.8 611.0 199.2 611.7 199.6 611.2 200.0 611.4 200.4 611.6 200.8 611.5 201.2 611.7 201.6 611.9 202.0 611.9 202.4 611.7 202.8 611.2 203.1 611.4 203.5 611.7 203.9 611.0 204.3 612.0 204.7 611.7 205.1 611.7 205.5 612.2 205.9 612.1 206.3 611.9 206.7 611.5 207.1 612.0 207.5 612.0 207.9 611.6 208.3 612.3 208.7 612.1 209.1 611.3 209.5 612.0 209.9 611.6 210.3 612.4 210.7 612.3 211.1 611.7 211.5 611.8 211.8 612.1 212.2 612.0 212.6 612.6 213.0 612.4 213.4 612.0 213.8 612.4 214.2 611.5 214.6 612.3 215.0 612.5 215.4 612.2 215.8 612.0 216.2 612.4 216.6 612.9 217.0 612.3 217.4 611.9 217.8 612.8 218.2 611.7 218.6 612.5 219.0 612.1 219.4 612.7 219.8 612.1 220.1 612.9 220.5 612.5 220.9 611.8 221.3 611.7 221.7 612.3 222.1 612.9 222.5 612.5 222.9 612.5 223.3 612.4 223.7 612.8 224.1 612.7 224.5 612.6 224.9 612.2 225.3 613.0 225.7 613.1 226.1 612.1 226.5 613.4 226.9 612.9 227.3 612.5 227.7 612.0 228.1 612.9 228.5 612.9 228.8 612.5 229.2 612.1 229.6 613.1 230.0 612.5 230.4 612.6 230.8 613.7 231.2 613.5 231.6 613.1 232.0 612.6 232.4 613.0 232.8 612.0 233.2 612.8 233.6 612.5 234.0 612.4 234.4 612.3 234.8 613.0 235.2 612.9 235.6 612.9 236.0 613.2 236.4 612.6 236.8 612.5 237.1 612.3 237.5 612.8 237.9 613.2 238.3 612.9 238.7 613.2 239.1 612.6 239.5 612.8 239.9 612.7 240.3 612.6 240.7 613.7 241.1 613.3 241.5 612.8 241.9 612.8 242.3 613.0 242.7 612.6 243.1 613.2 243.5 612.6 243.9 613.0 244.3 612.7 244.7 612.9 245.1 612.6 245.5 612.6 245.8 612.8 246.2 612.9 246.6 613.0 247.0 613.2 247.4 613.7 247.8 613.5 248.2 613.1 248.6 613.5 249.0 613.0 249.4 613.7 249.8 613.4 250.2 612.8 250.6 613.5 251.0 613.5 251.4 612.3 251.8 613.0 252.2 613.1 252.6 612.6 253.0 612.9 253.4 613.0 253.8 613.5 254.1 613.4 254.5 614.2 254.9 613.2 255.3 613.7 255.7 613.4 256.1 613.4 256.5 613.0 256.9 612.7 257.3 613.1 257.7 613.6 258.1 613.9 258.5 613.6 258.9 613.6 259.3 613.1 259.7 614.0 260.1 613.9 260.5 613.2 260.9 613.4 261.3 613.1 261.7 614.0 262.1 613.6 262.5 613.4 262.8 613.6 263.2 613.6 263.6 613.3 264.0 613.1 264.4 613.0 264.8 612.9 265.2 613.7 265.6 614.3 266.0 612.9 266.4 613.6 266.8 613.7 267.2 613.2 267.6 613.6 268.0 613.2 268.4 614.0 268.8 613.4 269.2 613.6 269.6 613.8 270.0 613.4 270.4 613.0 270.8 613.4 271.1 613.9 271.5 613.6 271.9 613.7 272.3 613.2 272.7 613.7 273.1 613.9 273.5 613.6 273.9 614.3 274.3 613.6 274.7 613.3 275.1 613.1 275.5 614.1 275.9 613.6 276.3 614.0 276.7 613.8 277.1 614.2 277.5 614.1 277.9 613.5 278.3 613.8 278.7 614.1 279.1 613.3 279.5 614.2 279.8 614.1 280.2 614.0 280.6 613.6 281.0 613.8 281.4 613.3 281.8 613.7 282.2 613.5 282.6 613.8 283.0 613.6 283.4 613.8 283.8 614.2 284.2 613.3 284.6 614.1 285.0 613.1 285.4 613.0 285.8 613.7 286.2 613.8 286.6 613.9 287.0 613.2 287.4 613.7 287.8 613.8 288.1 614.2 288.5 613.7 288.9 614.0 289.3 613.4 289.7 613.7 290.1 613.6 290.5 614.0 290.9 613.5 291.3 613.5 291.7 614.0 292.1 614.4 292.5 613.9 292.9 613.9 293.3 613.7 293.7 614.2 294.1 614.0 294.5 614.4 294.9 613.9 295.3 613.5 295.7 613.6 296.1 613.5 296.4 613.4 296.8 614.3 297.2 614.1 297.6 613.4 298.0 614.5 298.4 613.9 298.8 613.5 299.2 614.0 299.6 613.8 300.0 613.6 300.4 613.2 300.8 613.9 301.2 614.0 301.6 613.0 302.0 614.1 302.4 614.1 302.8 613.7 303.2 613.9 303.6 613.8 304.0 613.6 304.4 613.8 304.8 614.4 305.1 613.4 305.5 614.0 305.9 614.0 306.3 613.7 306.7 613.7 307.1 613.4 307.5 613.6 307.9 613.9 308.3 614.0 308.7 613.6 309.1 615.0 309.5 613.7 309.9 614.0 310.3 613.8 310.7 613.8 311.1 614.4 311.5 613.8 311.9 614.4 312.3 614.3 312.7 613.6 313.1 614.3 313.4 613.7 313.8 614.9 314.2 613.8 314.6 613.6 315.0 613.3 315.4 613.5 315.8 613.8 316.2 613.6 316.6 613.5 317.0 613.7 317.4 613.9 317.8 614.5 318.2 613.4 318.6 613.8 319.0 613.6 319.4 613.4 319.8 613.5 320.2 613.7 320.6 614.2 321.0 613.9 321.4 613.8 321.8 614.2 322.1 614.1 322.5 613.9 322.9 614.1 323.3 613.7 323.7 614.2 324.1 614.2 324.5 613.9 324.9 613.6 325.3 614.5 325.7 614.0 326.1 615.1 326.5 613.8 326.9 614.3 327.3 613.9 327.7 614.1 328.1 614.3 328.5 613.7 328.9 614.0 329.3 614.1 329.7 614.1 330.1 614.2 330.4 614.4 330.8 614.3 331.2 614.1 331.6 613.9 332.0 613.6 332.4 613.8 332.8 613.8 333.2 614.3 333.6 613.9 334.0 613.6 334.4 614.3 334.8 613.8 335.2 613.8 335.6 614.0 336.0 614.2 336.4 613.2 336.8 613.6 337.2 614.1 337.6 613.9 338.0 613.7 338.4 613.9 338.8 614.5 339.1 613.9 339.5 614.3 339.9 614.3 340.3 613.9 340.7 614.2 341.1 613.9 341.5 613.8 341.9 613.7 342.3 614.4 342.7 613.9 343.1 613.9 343.5 613.7 343.9 614.7 344.3 614.3 344.7 614.0 345.1 613.8 345.5 613.5 345.9 614.2 346.3 614.2 346.7 613.6 347.1 614.5 347.4 614.3 347.8 613.7 348.2 613.9 348.6 613.9 349.0 614.1 349.4 614.0 349.8 613.5 350.2 614.6 350.6 614.2 351.0 614.5 351.4 614.5 351.8 614.0 352.2 614.2 352.6 614.3 353.0 614.3 353.4 614.0 353.8 613.8 354.2 614.1 354.6 613.8 355.0 613.9 355.4 613.3 355.8 614.1 356.1 613.7 356.5 613.9 356.9 614.0 357.3 614.2 357.7 614.7 358.1 614.1 358.5 613.6 358.9 614.1 359.3 613.8 359.7 614.2 360.1 613.8 360.5 613.8 360.9 613.9 361.3 613.8 361.7 613.4 362.1 613.8 362.5 614.0 362.9 614.5 363.3 613.9 363.7 613.9 364.1 614.2 364.4 614.2 364.8 614.6 365.2 614.2 365.6 614.0 366.0 614.5 366.4 614.6 366.8 613.9 367.2 614.1 367.6 613.4 368.0 613.9 368.4 613.7 368.8 614.0 369.2 613.9 369.6 614.0 370.0 614.0 370.4 614.2 370.8 614.1 371.2 613.8 371.6 613.6 372.0 614.5 372.4 614.5 372.8 613.9 373.1 614.2 373.5 613.5 373.9 613.5 374.3 613.9 374.7 614.5 375.1 613.6 375.5 613.7 375.9 614.6 376.3 613.3 376.7 614.2 377.1 614.2 377.5 613.9 377.9 614.1 378.3 614.9 378.7 613.6 379.1 613.9 379.5 613.9 379.9 613.7 380.3 613.5 380.7 614.5 381.1 614.0 381.4 613.4 381.8 613.7 382.2 614.1 382.6 614.1 383.0 613.5 383.4 613.9 383.8 614.0 384.2 614.1 384.6 614.1 385.0 613.3 385.4 614.6 385.8 614.0 386.2 614.6 386.6 614.9 387.0 613.9 387.4 613.5 387.8 614.2 388.2 613.9 388.6 613.8 389.0 613.5 389.4 614.5 389.8 613.7 390.1 613.4 390.5 613.7 390.9 613.5 391.3 613.9 391.7 613.7 392.1 613.5 392.5 614.1 392.9 613.6 393.3 614.1 393.7 614.3 394.1 613.7 394.5 613.6 394.9 613.9 395.3 614.2 395.7 613.8 396.1 613.9 396.5 613.8 396.9 613.9 397.3 614.0 397.7 613.6 398.1 613.6 398.4 613.8 398.8 613.6 399.2 613.8 399.6 614.0 400.0 613.8 400.4 613.6 400.8 613.5 401.2 614.4 401.6 614.1 402.0 613.4 402.4 613.5 402.8 614.4 403.2 614.3 403.6 613.8 404.0 614.1 404.4 613.2 404.8 613.7 405.2 614.0 405.6 613.1 406.0 613.4 406.4 614.0 406.7 614.1 407.1 613.5 407.5 613.8 407.9 614.2 408.3 613.5 408.7 613.2 409.1 613.6 409.5 613.5 409.9 614.1 410.3 613.7 410.7 613.3 411.1 614.5 411.5 613.4 411.9 613.8 412.3 613.8 412.7 613.9 413.1 613.6 413.5 613.8 413.9 613.5 414.3 613.1 414.7 613.5 415.1 613.5 415.4 613.5 415.8 613.6 416.2 613.3 416.6 614.0 417.0 614.1 417.4 612.7 417.8 613.5 418.2 613.2 418.6 612.6 419.0 613.6 419.4 613.2 419.8 613.3 420.2 613.2 420.6 613.8 421.0 613.9 421.4 613.5 421.8 613.6 422.2 613.4 422.6 613.4 423.0 613.1 423.4 613.4 423.7 613.1 424.1 613.5 424.5 613.6 424.9 613.4 425.3 613.7 425.7 614.3 426.1 612.6 426.5 613.3 426.9 613.1 427.3 613.1 427.7 612.8 428.1 613.3 428.5 613.1 428.9 613.0 429.3 613.1 429.7 613.0 430.1 612.4 430.5 613.6 430.9 613.1 431.3 612.8 431.7 613.3 432.1 612.9 432.4 612.4 432.8 613.4 433.2 612.5 433.6 613.0 434.0 613.1 434.4 613.5 434.8 613.5 435.2 613.1 435.6 612.8 436.0 612.9 436.4 613.4 436.8 613.6 437.2 613.2 437.6 612.7 438.0 613.3 438.4 612.8 438.8 612.8 439.2 612.8 439.6 613.1 440.0 613.0 440.4 613.2 440.7 613.3 441.1 613.0 441.5 612.0 441.9 612.2 442.3 612.9 442.7 612.8 443.1 613.5 443.5 612.7 443.9 612.7 444.3 613.0 444.7 613.1 445.1 612.6 445.5 612.8 445.9 612.3 446.3 612.3 446.7 613.0 447.1 612.1 447.5 612.9 447.9 612.8 448.3 612.8 448.7 612.8 449.1 612.7 449.4 611.7 449.8 612.1 450.2 612.2 450.6 612.8 451.0 612.0 451.4 612.1 451.8 612.2 452.2 612.8 452.6 611.8 453.0 611.8 453.4 612.5 453.8 611.5 454.2 612.4 454.6 612.1 455.0 611.6 455.4 612.0 455.8 611.8 456.2 612.2 456.6 612.2 457.0 612.6 457.4 612.0 457.7 612.1 458.1 611.8 458.5 612.0 458.9 612.3 459.3 611.2 459.7 612.1 460.1 611.7 460.5 611.8 460.9 611.9 461.3 612.0 461.7 611.8 462.1 611.5 462.5 611.7 462.9 611.6 463.3 611.5 463.7 611.6 464.1 611.7 464.5 611.4 464.9 611.4 465.3 610.8 465.7 611.1 466.1 610.4 466.4 611.1 466.8 610.4 467.2 610.9 467.6 611.2 468.0 609.6 468.4 609.8 468.8 608.9 469.2 608.0 469.6 607.1 470.0 606.8 470.4 606.2 470.8 604.9 471.2 603.2 471.6 602.5 472.0 601.9 472.4 601.8 472.8 600.9 473.2 600.7 473.6 601.1 474.0 600.9 474.4 601.5 474.7 602.2 475.1 602.5 475.5 604.1 475.9 605.0 476.3 606.1 476.7 606.1 477.1 606.9 477.5 608.2 477.9 608.4 478.3 609.2 478.7 608.8 479.1 609.4 479.5 609.3 479.9 609.7 480.3 609.6 480.7 610.0 481.1 610.2 481.5 610.1 481.9 609.2 482.3 610.1 482.7 609.9 483.1 609.4 483.4 609.4 483.8 609.7 484.2 609.9 484.6 609.5 485.0 609.0 485.4 609.7 485.8 609.6 486.2 610.3 486.6 609.0 487.0 610.3 487.4 609.9 487.8 609.4 488.2 609.8 488.6 609.2 489.0 609.5 489.4 608.8 489.8 609.0 490.2 608.6 490.6 608.3 491.0 608.7 491.4 608.5 491.7 608.9 492.1 609.1 492.5 608.5 492.9 608.5 493.3 608.5 493.7 607.8 494.1 608.4 494.5 608.2 494.9 608.1 495.3 607.7 495.7 607.3 496.1 607.8 496.5 607.9 496.9 608.2 497.3 608.1 497.7 608.1 498.1 607.6 498.5 607.8 498.9 607.2 499.3 607.4 499.7 607.4 500.1 608.0 500.4 607.0 500.8 606.4 501.2 607.2 501.6 606.4 502.0 606.5 502.4 606.3 502.8 606.0 503.2 606.7 503.6 606.3 504.0 605.8 504.4 605.9 504.8 605.6 505.2 605.8 505.6 605.4 506.0 605.1 506.4 605.0 506.8 604.9 507.2 605.1 507.6 604.5 508.0 604.7 508.4 604.7 508.7 605.2 509.1 604.5 509.5 603.1 509.9 603.8 510.3 603.6 510.7 603.7 511.1 604.0 511.5 603.5 511.9 602.3 512.3 603.0 512.7 602.8 513.1 602.7 513.5 602.9 513.9 601.8 514.3 602.4 514.7 601.2 515.1 601.6 515.5 601.5 515.9 601.9 516.3 600.7 516.7 600.1 517.0 600.7 517.4 600.0 517.8 600.5 518.2 599.5 518.6 599.2 519.0 599.7 519.4 599.0 519.8 599.0 520.2 597.9 520.6 598.7 521.0 597.6 521.4 597.8 521.8 596.8 522.2 596.3 522.6 596.5 523.0 596.3 523.4 596.4 523.8 595.6 524.2 595.4 524.6 595.0 525.0 595.5 525.4 593.7 525.7 594.1 526.1 593.2 526.5 592.9 526.9 592.2 527.3 592.3 527.7 591.0 528.1 590.5 528.5 590.4 528.9 589.6 529.3 589.8 529.7 589.3 530.1 588.2 530.5 588.2 530.9 587.1 531.3 586.8 531.7 586.2 532.1 586.3 532.5 585.0 532.9 584.0 533.3 583.4 533.7 583.5 534.0 581.8 534.4 581.5 534.8 580.8 535.2 579.3 535.6 579.3 536.0 579.0 536.4 578.0 536.8 576.8 537.2 576.5 537.6 575.6 538.0 575.2 538.4 573.4 538.8 572.6 539.2 571.8 539.6 570.8 540.0 569.9 540.4 568.8 540.8 567.6 541.2 566.2 541.6 565.6 542.0 564.2 542.4 563.2 542.7 562.3 543.1 561.5 543.5 560.5 543.9 558.6 544.3 557.9 544.7 556.9 545.1 555.4 545.5 553.6 545.9 552.1 546.3 551.9 546.7 550.7 547.1 549.2 547.5 547.4 547.9 547.0 548.3 545.6 548.7 543.9 549.1 542.6 549.5 540.7 549.9 540.4 550.3 538.3 550.7 537.8 551.0 536.6 551.4 535.2 551.8 534.6 552.2 532.8 552.6 532.0 553.0 531.0 553.4 529.8 553.8 528.6 554.2 528.2 554.6 527.1 555.0 526.0 555.4 525.3 555.8 524.7 556.2 524.9 556.6 523.6 557.0 523.0 557.4 522.3 557.8 522.0 558.2 521.5 558.6 522.1 559.0 522.0 559.4 521.6 559.7 521.7 560.1 522.4 560.5 522.8 560.9 523.1 561.3 524.4 561.7 525.2 562.1 526.1 562.5 527.4 562.9 528.1 563.3 530.1 563.7 530.6 564.1 532.6 564.5 534.2 564.9 535.5 565.3 537.3 565.7 538.5 566.1 540.2 566.5 542.4 566.9 544.0 567.3 546.3 567.7 548.0 568.0 550.1 568.4 551.9 568.8 553.7 569.2 555.6 569.6 557.3 570.0 559.1 570.4 561.9 570.8 562.4 571.2 564.7 571.6 566.9 572.0 568.5 572.4 570.6 572.8 572.0 573.2 573.0 573.6 574.9 574.0 576.1 574.4 578.5 574.8 580.2 575.2 581.0 575.6 582.7 576.0 583.8 576.4 584.7 576.7 586.4 577.1 587.2 577.5 588.8 577.9 590.2 578.3 591.5 578.7 592.7 579.1 593.2 579.5 594.4 579.9 595.4 580.3 596.3 580.7 596.0 581.1 597.5 581.5 598.8 581.9 598.9 582.3 600.1 582.7 600.9 583.1 600.6 583.5 601.8 583.9 602.5 584.3 603.0 584.7 603.0 585.0 604.1 585.4 604.3 585.8 605.2 586.2 605.5 586.6 605.5 587.0 606.1 587.4 606.2 587.8 606.5 588.2 606.5 588.6 607.2 589.0 607.9 589.4 607.9 589.8 608.1 590.2 608.1 590.6 608.3 591.0 609.0 591.4 608.4 591.8 609.8 592.2 609.2 592.6 610.2 593.0 610.0 593.4 609.5 593.7 610.1 594.1 610.0 594.5 610.2 594.9 610.4 595.3 610.1 595.7 610.1 596.1 610.3 596.5 610.0 596.9 610.5 597.3 610.7 597.7 610.8 598.1 610.8 598.5 610.6 598.9 611.1 599.3 610.1 599.7 610.6 600.1 610.6 600.5 611.0 600.9 610.8 601.3 610.7 601.7 610.3 602.0 610.2 602.4 609.0 602.8 608.2 603.2 605.2 603.6 602.2 604.0 595.1 604.4 585.0 604.8 576.5 605.2 574.4 605.6 581.5 606.0 591.7 606.4 599.7 606.8 604.6 607.2 607.9 607.6 609.4 608.0 610.6 608.4 611.1 608.8 611.2 609.2 611.5 609.6 611.7 610.0 611.1 610.3 612.1 610.7 612.1 611.1 612.5 611.5 611.7 611.9 612.7 612.3 612.2 612.7 612.6 613.1 613.0 613.5 612.1 613.9 612.2 614.3 613.1 614.7 612.4 615.1 612.5 615.5 613.1 615.9 612.8 616.3 613.2 616.7 613.1 617.1 613.0 617.5 613.4 617.9 613.8 618.3 613.1 618.7 613.6 619.0 613.5 619.4 613.2 619.8 613.4 620.2 612.9 620.6 613.0 621.0 613.4 621.4 613.3 621.8 613.8 622.2 612.9 622.6 613.2 623.0 613.1 623.4 613.3 623.8 613.8 624.2 613.0 624.6 613.7 625.0 613.3 625.4 613.4 625.8 613.9 626.2 613.4 626.6 613.8 627.0 613.6 627.3 613.5 627.7 613.5 628.1 613.0 628.5 613.4 628.9 613.7 629.3 613.7 629.7 613.1 630.1 614.0 630.5 613.9 630.9 613.3 631.3 613.4 631.7 613.9 632.1 613.1 632.5 613.5 632.9 613.8 633.3 613.8 633.7 613.8 634.1 614.0 634.5 613.6 634.9 613.7 635.3 614.6 635.7 613.4 636.0 613.8 636.4 614.0 636.8 613.7 637.2 614.4 637.6 614.0 638.0 614.2 638.4 613.1 638.8 614.4 639.2 614.4 639.6 613.8 640.0 614.5 640.4 614.1 640.8 614.4 641.2 614.7 641.6 614.1 642.0 613.7 642.4 614.1 642.8 613.7 643.2 613.9 643.6 613.9 644.0 613.9 644.3 614.6 644.7 614.5 645.1 613.9 645.5 614.6 645.9 613.6 646.3 614.0 646.7 614.2 647.1 614.7 647.5 614.5 647.9 614.4 648.3 614.7 648.7 614.5 649.1 614.8 649.5 614.0 649.9 613.7 650.3 614.2 650.7 614.6 651.1 614.4 651.5 614.7 651.9 614.6 652.3 614.5 652.7 614.7 653.0 614.1 653.4 614.8 653.8 614.0 654.2 614.4 654.6 613.9 655.0 614.6 655.4 613.9 655.8 614.9 656.2 614.0 656.6 614.5 657.0 614.4 657.4 614.1 657.8 614.9 658.2 614.3 658.6 615.0 659.0 614.1 659.4 614.2 659.8 613.8 660.2 614.7 660.6 614.8 661.0 614.6 661.3 614.4 661.7 614.2 662.1 615.3 662.5 614.8 662.9 613.9 663.3 614.4 663.7 613.6 664.1 615.1 664.5 615.2 664.9 615.0 665.3 614.5 665.7 614.3 666.1 614.0 666.5 614.7 666.9 614.3 667.3 614.4 667.7 614.3 668.1 614.4 668.5 614.9 668.9 615.1 669.3 614.6 669.7 614.5 670.0 614.2 670.4 614.1 670.8 614.2 671.2 614.9 671.6 614.6 672.0 614.9 672.4 614.7 672.8 614.4 673.2 614.1 673.6 614.4 674.0 614.1 674.4 615.3 674.8 614.7 675.2 614.4 675.6 615.3 676.0 614.4 676.4 614.8 676.8 614.5 677.2 614.7 677.6 614.4 678.0 614.7 678.3 615.1 678.7 614.1 679.1 613.8 679.5 615.0 679.9 614.6 680.3 614.9 680.7 614.5 681.1 615.1 681.5 615.2 681.9 614.1 682.3 614.8 682.7 614.3 683.1 614.0 683.5 614.4 683.9 614.7 684.3 614.1 684.7 614.1 685.1 615.0 685.5 614.5 685.9 614.7 686.3 614.1 686.7 614.3 687.0 614.6 687.4 614.6 687.8 614.6 688.2 615.1 688.6 614.6 689.0 614.0 689.4 614.2 689.8 614.5 690.2 614.9 690.6 614.2 691.0 614.3 691.4 614.5 691.8 614.2 692.2 614.2 692.6 614.4 693.0 614.8 693.4 614.6 693.8 614.3 694.2 614.6 694.6 614.0 695.0 614.8 695.3 614.7 695.7 614.5 696.1 613.8 696.5 615.1 696.9 613.4 697.3 614.0 697.7 614.1 698.1 614.6 698.5 613.9 698.9 614.5 699.3 614.3 699.7 614.3 700.1 614.7 700.5 614.9 700.9 614.5 701.3 614.2 701.7 613.5 702.1 614.8 702.5 614.2 702.9 613.6 703.3 614.3 703.7 614.8 704.0 614.2 704.4 613.8 704.8 615.0 705.2 614.5 705.6 614.3 706.0 614.6 706.4 613.4 706.8 614.2 707.2 614.1 707.6 615.0 708.0 613.9 708.4 613.9 708.8 613.6 709.2 613.8 709.6 614.0 710.0 614.1 710.4 613.9 710.8 614.7 711.2 614.1 711.6 614.1 712.0 614.3 712.3 614.0 712.7 613.5 713.1 613.0 713.5 613.4 713.9 612.7 714.3 613.0 714.7 611.6 715.1 610.3 715.5 610.2 715.9 609.6 716.3 608.3 716.7 608.0 717.1 608.2 717.5 609.4 717.9 609.8 718.3 610.6 718.7 611.2 719.1 611.5 719.5 613.1 719.9 613.3 720.3 612.7 720.6 613.4 721.0 613.4 721.4 613.2 721.8 613.2 722.2 613.6 722.6 612.9 723.0 613.1 723.4 613.3 723.8 613.3 724.2 613.2 724.6 613.3 725.0 613.4 725.4 612.8 725.8 613.1 726.2 612.9 726.6 613.5 727.0 612.5 727.4 612.8 727.8 613.1 728.2 612.7 728.6 612.6 729.0 612.5 729.3 612.7 729.7 612.1 730.1 612.4 730.5 612.3 730.9 611.7 731.3 612.2 731.7 611.8 732.1 612.0 732.5 612.1 732.9 611.7 733.3 611.1 733.7 611.4 734.1 610.6 734.5 610.7 734.9 611.3 735.3 610.5 735.7 610.9 736.1 610.0 736.5 609.8 736.9 609.1 737.3 609.5 737.6 608.7 738.0 608.6 738.4 608.1 738.8 607.6 739.2 607.0 739.6 606.2 740.0 605.6 740.4 604.6 740.8 603.2 741.2 603.2 741.6 602.7 742.0 601.2 742.4 600.3 742.8 598.1 743.2 595.8 743.6 593.8 744.0 592.2 744.4 589.3 744.8 585.6 745.2 580.3 745.6 568.4 746.0 544.8 746.3 500.2 746.7 437.6 747.1 378.8 747.5 360.8 747.9 391.9 748.3 430.4 748.7 449.3 749.1 458.2 749.5 477.1 749.9 512.4 750.3 546.9 750.7 569.8 751.1 584.3 751.5 591.1 751.9 594.3 752.3 596.9 752.7 598.7 753.1 600.2 753.5 602.0 753.9 602.6 754.3 603.7 754.6 604.8 755.0 605.7 755.4 606.5 755.8 606.2 756.2 606.6 756.6 607.7 757.0 608.2 757.4 608.2 757.8 609.1 758.2 609.5 758.6 609.7 759.0 610.5 759.4 609.8 759.8 610.4 760.2 611.2 760.6 611.0 761.0 610.5 761.4 611.2 761.8 611.7 762.2 612.1 762.6 611.7 763.0 612.0 763.3 611.4 763.7 611.8 764.1 612.4 764.5 611.7 764.9 612.1 765.3 611.5 765.7 612.8 766.1 612.3 766.5 612.6 766.9 611.9 767.3 612.1 767.7 613.2 768.1 612.5 768.5 612.5 768.9 612.9 769.3 613.0 769.7 612.1 770.1 612.5 770.5 612.9 770.9 612.9 771.3 613.1 771.6 612.8 772.0 612.9 772.4 613.1 772.8 612.8 773.2 612.8 773.6 612.9 774.0 613.1 774.4 613.1 774.8 613.0 775.2 613.1 775.6 613.2 776.0 613.3 776.4 613.4 776.8 612.8 777.2 613.6 777.6 612.7 778.0 613.5 778.4 613.0 778.8 613.5 779.2 613.7 779.6 612.7 780.0 613.6 780.3 613.4 780.7 613.2 781.1 613.5 781.5 613.2 781.9 613.4 782.3 613.0 782.7 613.7 783.1 613.6 783.5 613.7 783.9 613.2 784.3 614.1 784.7 614.1 785.1 613.4 785.5 613.3 785.9 613.3 786.3 613.7 786.7 613.8 787.1 613.2 787.5 612.7 787.9 613.6 788.3 613.4 788.6 613.5 789.0 613.6 789.4 613.1 789.8 613.5 790.2 613.3 790.6 613.6 791.0 613.9 791.4 613.5 791.8 613.2 792.2 613.9 792.6 613.7 793.0 613.4 793.4 612.8 793.8 613.1 794.2 613.5 794.6 613.6 795.0 613.3 795.4 613.6 795.8 613.2 796.2 613.3 796.6 613.6 797.0 613.3 797.3 613.5 797.7 613.8 798.1 613.8 798.5 613.2 798.9 613.3 799.3 613.0 799.7 613.0 800.1 613.5 800.5 613.2 800.9 612.8 801.3 613.6 801.7 613.1 802.1 613.3 802.5 613.6 802.9 613.6 803.3 613.4 803.7 612.7 804.1 613.6 804.5 613.2 804.9 612.9 805.3 612.6 805.6 613.9 806.0 613.4 806.4 613.4 806.8 613.6 807.2 613.4 807.6 612.9 808.0 613.6 808.4 613.7 808.8 613.6 809.2 613.9 809.6 614.0 810.0 613.1 810.4 613.2 810.8 613.7 811.2 613.4 811.6 613.4 812.0 613.7 812.4 613.6 812.8 613.2 813.2 613.4 813.6 613.1 814.0 613.3 814.3 612.9 814.7 612.6 815.1 613.1 815.5 613.1 815.9 613.6 816.3 613.9 816.7 613.3 817.1 613.5 817.5 613.1 817.9 613.0 818.3 613.2 818.7 613.2 819.1 613.4 819.5 613.3 819.9 613.9 820.3 613.2 820.7 612.7 821.1 613.3 821.5 613.0 821.9 613.3 822.3 613.6 822.6 613.0 823.0 613.2 823.4 613.4 823.8 612.9 824.2 613.3 824.6 613.4 825.0 613.5 825.4 613.6 825.8 613.4 826.2 613.3 826.6 612.7 827.0 612.3 827.4 612.9 827.8 613.7 828.2 613.2 828.6 612.4 829.0 613.0 829.4 613.3 829.8 612.5 830.2 613.4 830.6 612.8 830.9 613.5 831.3 613.2 831.7 614.2 832.1 612.7 832.5 613.2 832.9 612.6 833.3 613.5 833.7 613.2 834.1 613.4 834.5 613.1 834.9 612.7 835.3 612.9 835.7 612.7 836.1 612.7 836.5 613.1 836.9 613.4 837.3 613.4 837.7 613.2 838.1 612.8 838.5 613.2 838.9 612.7 839.3 613.1 839.6 613.3 840.0 612.9 840.4 612.8 840.8 612.8 841.2 613.2 841.6 612.9 842.0 612.5 842.4 612.8 842.8 612.6 843.2 613.4 843.6 612.9 844.0 612.4 844.4 613.0 844.8 613.1 845.2 613.0 845.6 612.7 846.0 612.9 846.4 612.9 846.8 613.1 847.2 612.9 847.6 613.6 847.9 612.7 848.3 613.3 848.7 612.7 849.1 612.1 849.5 612.2 849.9 612.0 850.3 612.0 850.7 613.0 851.1 612.3 851.5 612.7 851.9 612.1 852.3 612.3 852.7 611.9 853.1 612.5 853.5 612.1 853.9 611.9 854.3 611.9 854.7 612.6 855.1 611.8 855.5 611.8 855.9 610.9 856.3 610.8 856.6 610.7 857.0 609.5 857.4 609.8 857.8 608.3 858.2 606.7 858.6 604.5 859.0 601.7 859.4 598.3 859.8 595.1 860.2 590.9 860.6 587.5 861.0 584.6 861.4 583.6 861.8 584.9 862.2 585.5 862.6 587.6 863.0 590.3 863.4 593.0 863.8 595.1 864.2 598.5 864.6 601.5 864.9 603.9 865.3 605.7 865.7 607.8 866.1 608.6 866.5 609.5 866.9 609.4 867.3 610.6 867.7 610.3 868.1 611.4 868.5 611.5 868.9 611.3 869.3 611.6 869.7 611.7 870.1 611.7 870.5 611.9 870.9 611.8 871.3 611.7 871.7 611.6 872.1 612.5 872.5 612.0 872.9 611.9 873.3 612.2 873.6 611.8 874.0 611.8 874.4 612.2 874.8 612.3 875.2 612.1 875.6 611.4 876.0 611.9 876.4 611.8 876.8 612.0 877.2 611.5 877.6 611.4 878.0 611.7 878.4 611.4 878.8 611.3 879.2 611.6 879.6 611.9 880.0 611.6 880.4 611.9 880.8 611.1 881.2 611.7 881.6 611.4 881.9 611.1 882.3 611.2 882.7 611.0 883.1 611.2 883.5 610.9 883.9 611.6 884.3 611.0 884.7 610.6 885.1 610.9 885.5 611.1 885.9 610.8 886.3 611.2 886.7 610.5 887.1 610.5 887.5 611.4 887.9 610.8 888.3 610.9 888.7 610.9 889.1 610.9 889.5 610.7 889.9 610.6 890.3 611.0 890.6 610.5 891.0 610.7 891.4 610.9 891.8 610.5 892.2 610.1 892.6 610.8 893.0 611.1 893.4 610.8 893.8 610.2 894.2 611.0 894.6 611.5 895.0 610.3 895.4 609.9 895.8 610.8 896.2 611.0 896.6 611.3 897.0 611.3 897.4 611.1 897.8 611.3 898.2 611.3 898.6 611.3 898.9 611.3 899.3 611.3 899.7 611.6 900.1 611.6 900.5 611.3 900.9 611.9 901.3 611.3 901.7 611.5 902.1 611.7 902.5 611.1 902.9 611.6 903.3 612.1 903.7 612.1 904.1 611.5 904.5 611.6 904.9 611.6 905.3 611.9 905.7 612.0 906.1 611.5 906.5 612.2 906.9 612.2 907.3 612.2 907.6 612.0 908.0 612.2 908.4 611.7 908.8 612.4 909.2 612.4 909.6 612.3 910.0 612.0 910.4 612.8 910.8 612.8 911.2 611.8 911.6 612.6 912.0 612.5 912.4 611.6 912.8 612.7 913.2 612.8 913.6 612.8 914.0 612.6 914.4 612.4 914.8 612.4 915.2 612.8 915.6 613.0 915.9 612.5 916.3 612.6 916.7 612.9 917.1 611.9 917.5 612.8 917.9 612.6 918.3 611.9 918.7 613.0 919.1 612.4 919.5 613.0 919.9 613.2 920.3 612.3 920.7 612.3 921.1 612.7 921.5 612.2 921.9 613.0 922.3 612.8 922.7 613.1 923.1 612.1 923.5 612.8 923.9 612.9 924.2 612.2 924.6 613.1 925.0 612.3 925.4 612.9 925.8 612.3 926.2 613.1 926.6 613.4 927.0 612.8 927.4 612.8 927.8 613.3 928.2 612.7 928.6 612.8 929.0 613.1 929.4 613.0 929.8 613.4 930.2 613.2 930.6 613.5 931.0 612.8 931.4 613.2 931.8 612.6 932.2 613.2 932.6 613.5 932.9 613.7 933.3 612.4 933.7 612.8 934.1 613.1 934.5 612.6 934.9 613.1 935.3 613.1 935.7 612.7 936.1 612.7 936.5 612.6 936.9 613.0 937.3 613.3 937.7 613.0 938.1 613.8 938.5 612.4 938.9 612.7 939.3 613.1 939.7 612.5 940.1 613.0 940.5 613.2 940.9 613.0 941.2 612.8 941.6 613.2 942.0 613.0 942.4 613.1 942.8 613.1 943.2 612.7 943.6 612.5 944.0 612.8 944.4 613.0 944.8 612.8 945.2 613.2 945.6 613.0 946.0 613.2 946.4 612.9 946.8 612.7 947.2 613.2 947.6 613.1 948.0 612.6 948.4 612.8 948.8 613.9 949.2 611.7 949.6 613.3 949.9 612.9 950.3 612.9 950.7 612.8 951.1 612.7 951.5 613.7 951.9 612.7 952.3 612.8 952.7 613.2 953.1 613.0 953.5 612.8 953.9 612.8 954.3 612.4 954.7 613.3 955.1 612.5 955.5 612.1 955.9 613.3 956.3 613.1 956.7 613.0 957.1 612.7 957.5 613.3 957.9 612.5 958.2 612.1 958.6 612.9 959.0 613.2 959.4 613.1 959.8 613.6 960.2 613.2 960.6 612.8 961.0 612.8 961.4 613.2 961.8 612.8 962.2 612.8 962.6 612.3 963.0 612.8 963.4 612.4 963.8 612.9 964.2 612.9 964.6 613.1 965.0 613.5 965.4 612.8 965.8 613.3 966.2 612.4 966.6 612.9 966.9 613.2 967.3 613.5 967.7 612.4 968.1 612.7 968.5 612.8 968.9 612.8 969.3 612.4 969.7 612.2 970.1 612.3 970.5 612.7 970.9 612.2 971.3 613.3 971.7 613.1 972.1 612.0 972.5 612.4 972.9 613.0 973.3 613.0 973.7 612.8 974.1 611.9 974.5 612.1 974.9 612.5 975.2 611.8 975.6 611.2 976.0 611.0 976.4 610.5 976.8 609.2 977.2 608.2 977.6 607.4 978.0 605.8 978.4 605.0 978.8 605.5 979.2 605.1 979.6 606.2 980.0 606.3 980.4 607.3 980.8 607.1 981.2 608.5 981.6 608.9 982.0 609.4 982.4 609.9 982.8 610.8 983.2 611.0 983.6 611.3 983.9 612.4 984.3 612.4 984.7 612.8 985.1 612.0 985.5 611.8 985.9 612.0 986.3 612.9 986.7 612.9 987.1 612.0 987.5 613.1 987.9 612.6 988.3 612.3 988.7 612.7 989.1 613.0 989.5 612.7 989.9 612.7 990.3 612.5 990.7 612.3 991.1 612.7 991.5 612.3 991.9 613.0 992.2 612.5 992.6 613.3 993.0 612.3 993.4 613.4 993.8 612.6 994.2 612.6 994.6 613.0 995.0 613.2 995.4 612.9 995.8 612.8 996.2 613.6 996.6 613.1 997.0 612.5 997.4 612.8 997.8 613.5 998.2 613.0 998.6 613.2 999.0 613.6 999.4 612.7 999.8 613.0 1000.2 612.7 1000.6 612.9 1000.9 613.1 1001.3 612.4 1001.7 613.0 1002.1 613.0 1002.5 613.3 1002.9 612.7 1003.3 612.5 1003.7 613.0 1004.1 612.5 1004.5 613.0 1004.9 613.1 1005.3 612.6 1005.7 612.9 1006.1 612.5 1006.5 611.9 1006.9 612.4 1007.3 612.2 1007.7 612.9 1008.1 612.5 1008.5 612.8 1008.9 612.9 1009.2 613.3 1009.6 612.8 1010.0 612.8 1010.4 613.1 1010.8 613.5 1011.2 612.9 1011.6 613.0 1012.0 612.8 1012.4 612.6 1012.8 612.3 1013.2 612.8 1013.6 612.8 1014.0 612.8 1014.4 613.6 1014.8 612.8 1015.2 613.0 1015.6 612.7 1016.0 613.3 1016.4 612.8 1016.8 613.5 1017.2 612.8 1017.6 613.1 1017.9 613.2 1018.3 612.8 1018.7 613.1 1019.1 612.9 1019.5 612.6 1019.9 612.6 1020.3 612.9 1020.7 613.4 1021.1 612.6 1021.5 613.0 1021.9 612.5 1022.3 612.9 1022.7 612.3 1023.1 612.5 1023.5 612.8 1023.9 612.5 1024.3 612.7 1024.7 613.1 1025.1 612.7 1025.5 612.5 1025.9 612.3 1026.2 612.6 1026.6 613.2 1027.0 612.7 1027.4 612.7 1027.8 613.0 1028.2 613.0 1028.6 613.1 1029.0 612.6 1029.4 612.4 1029.8 612.1 1030.2 612.5 1030.6 612.6 1031.0 613.0 1031.4 612.8 1031.8 612.5 1032.2 613.0 1032.6 612.3 1033.0 612.3 1033.4 612.3 1033.8 612.3 1034.2 612.6 1034.5 612.4 1034.9 612.4 1035.3 613.1 1035.7 612.1 1036.1 612.3 1036.5 612.6 1036.9 612.8 1037.3 612.8 1037.7 612.5 1038.1 612.5 1038.5 612.5 1038.9 612.9 1039.3 612.3 1039.7 611.8 1040.1 612.7 1040.5 612.2 1040.9 612.6 1041.3 613.1 1041.7 612.6 1042.1 613.2 1042.5 612.0 1042.9 612.6 1043.2 612.7 1043.6 612.8 1044.0 612.3 1044.4 612.6 1044.8 612.6 1045.2 612.5 1045.6 612.0 1046.0 611.9 1046.4 612.7 1046.8 612.6 1047.2 612.5 1047.6 612.7 1048.0 612.9 1048.4 612.1 1048.8 612.7 1049.2 613.0 1049.6 612.8 1050.0 612.7 1050.4 612.7 1050.8 611.9 1051.2 612.3 1051.5 612.8 1051.9 612.9 1052.3 612.6 1052.7 612.3 1053.1 612.4 1053.5 612.7 1053.9 613.1 1054.3 612.7 1054.7 612.2 1055.1 612.6 1055.5 612.5 1055.9 613.2 1056.3 612.6 1056.7 612.4 1057.1 612.3 1057.5 611.9 1057.9 612.0 1058.3 612.2 1058.7 612.1 1059.1 612.4 1059.5 612.4 1059.9 612.7 1060.2 612.8 1060.6 612.4 1061.0 612.2 1061.4 611.6 1061.8 612.4 1062.2 612.5 1062.6 612.0 1063.0 612.1 1063.4 612.0 1063.8 612.6 1064.2 612.5 1064.6 612.7 1065.0 611.8 1065.4 613.2 1065.8 611.9 1066.2 611.9 1066.6 612.3 1067.0 612.0 1067.4 612.9 1067.8 612.1 1068.2 612.0 1068.5 612.5 1068.9 612.6 1069.3 611.9 1069.7 612.0 1070.1 612.1 1070.5 612.1 1070.9 612.8 1071.3 612.6 1071.7 612.5 1072.1 612.6 1072.5 612.2 1072.9 612.4 1073.3 612.1 1073.7 611.9 1074.1 612.7 1074.5 611.5 1074.9 612.1 1075.3 611.9 1075.7 611.5 1076.1 612.0 1076.5 612.1 1076.9 612.3 1077.2 611.8 1077.6 612.3 1078.0 612.2 1078.4 612.4 1078.8 611.4 1079.2 611.9 1079.6 611.8 1080.0 612.3 1080.4 611.8 1080.8 611.9 1081.2 611.6 1081.6 611.6 1082.0 611.7 1082.4 612.4 1082.8 611.7 1083.2 611.2 1083.6 612.1 1084.0 611.9 1084.4 612.2 1084.8 612.2 1085.2 611.9 1085.5 611.9 1085.9 611.8 1086.3 612.0 1086.7 611.7 1087.1 612.1 1087.5 612.5 1087.9 611.8 1088.3 611.8 1088.7 611.8 1089.1 612.2 1089.5 612.2 1089.9 612.5 1090.3 612.2 1090.7 612.0 1091.1 612.1 1091.5 611.5 1091.9 612.2 1092.3 612.0 1092.7 612.7 1093.1 612.4 1093.5 611.7 1093.9 611.8 1094.2 612.3 1094.6 611.2 1095.0 611.6 1095.4 612.1 1095.8 612.2 1096.2 612.0 1096.6 612.4 1097.0 611.9 1097.4 612.0 1097.8 611.9 1098.2 611.6 1098.6 612.0 1099.0 611.8 1099.4 612.0 1099.8 611.0 1100.2 612.0 1100.6 611.8 1101.0 611.7 1101.4 612.0 1101.8 611.8 1102.2 612.3 1102.5 612.4 1102.9 612.3 1103.3 612.3 1103.7 612.1 1104.1 612.0 1104.5 611.5 1104.9 611.8 1105.3 612.4 1105.7 612.2 1106.1 611.8 1106.5 612.0 1106.9 612.3 1107.3 611.9 1107.7 612.5 1108.1 611.7 1108.5 612.3 1108.9 612.2 1109.3 612.1 1109.7 612.1 1110.1 612.2 1110.5 611.2 1110.9 612.2 1111.2 612.4 1111.6 612.2 1112.0 612.4 1112.4 611.6 1112.8 612.0 1113.2 612.2 1113.6 611.9 1114.0 612.5 1114.4 612.2 1114.8 611.9 1115.2 612.3 1115.6 612.3 1116.0 611.9 1116.4 612.3 1116.8 612.2 1117.2 612.2 1117.6 611.7 1118.0 612.5 1118.4 612.3 1118.8 612.1 1119.2 612.2 1119.5 612.2 1119.9 612.0 1120.3 611.9 1120.7 612.2 1121.1 611.9 1121.5 612.0 1121.9 611.8 1122.3 612.1 1122.7 612.5 1123.1 612.3 1123.5 612.2 1123.9 612.1 1124.3 612.1 1124.7 611.7 1125.1 612.8 1125.5 612.0 1125.9 611.7 1126.3 612.4 1126.7 612.3 1127.1 612.1 1127.5 611.7 1127.9 611.8 1128.2 612.8 1128.6 612.2 1129.0 612.1 1129.4 613.0 1129.8 612.1 1130.2 612.0 1130.6 612.5 1131.0 612.5 1131.4 612.9 1131.8 611.8 1132.2 612.5 1132.6 611.8 1133.0 612.5 1133.4 612.2 1133.8 612.2 1134.2 612.2 1134.6 612.7 1135.0 613.0 1135.4 612.4 1135.8 612.4 1136.2 612.3 1136.5 612.7 1136.9 612.1 1137.3 613.7 1137.7 612.4 1138.1 613.1 1138.5 612.6 1138.9 612.0 1139.3 612.0 1139.7 612.4 1140.1 612.3 1140.5 612.5 1140.9 612.2 1141.3 613.4 1141.7 613.3 1142.1 612.0 1142.5 612.8 1142.9 613.0 1143.3 612.5 1143.7 612.6 1144.1 613.0 1144.5 612.8 1144.8 612.2 1145.2 613.1 1145.6 612.5 1146.0 613.3 1146.4 612.3 1146.8 611.9 1147.2 612.7 1147.6 613.1 1148.0 612.8 1148.4 612.7 1148.8 612.2 1149.2 612.8 1149.6 611.7 1150.0 612.6 1150.4 611.7 1150.8 611.7 1151.2 611.3 1151.6 611.3 1152.0 612.0 1152.4 611.0 1152.8 611.5 1153.2 611.3 1153.5 612.1 1153.9 611.5 1154.3 612.2 1154.7 612.7 1155.1 613.3 1155.5 612.2 1155.9 612.4 1156.3 612.8 1156.7 613.4 1157.1 612.6 1157.5 613.2 1157.9 612.8 1158.3 612.6 1158.7 612.5 1159.1 613.1 1159.5 613.4 1159.9 613.0 1160.3 612.3 1160.7 612.9 1161.1 613.5 1161.5 613.4 1161.8 613.2 1162.2 613.7 1162.6 612.7 1163.0 612.7 1163.4 614.0 1163.8 613.4 1164.2 613.1 1164.6 613.0 1165.0 612.3 1165.4 613.5 1165.8 612.5 1166.2 612.5 1166.6 613.2 1167.0 613.8 1167.4 613.1 1167.8 613.4 1168.2 613.0 1168.6 613.3 1169.0 612.5 1169.4 613.7 1169.8 612.5 1170.2 612.9 1170.5 611.8 1170.9 612.9 1171.3 612.2 1171.7 612.5 1172.1 611.4 1172.5 611.9 1172.9 611.5 1173.3 611.8 1173.7 612.5 1174.1 612.0 1174.5 612.8 1174.9 613.5 1175.3 613.6 1175.7 613.5 1176.1 613.4 1176.5 613.0 1176.9 614.0 1177.3 613.3 1177.7 614.0 1178.1 613.5 1178.5 613.6 1178.8 613.7 1179.2 613.9 1179.6 613.5 1180.0 613.8 1180.4 613.6 1180.8 613.9 1181.2 613.9 1181.6 613.9 1182.0 613.5 1182.4 613.9 1182.8 613.9 1183.2 614.1 1183.6 613.9 1184.0 613.5 1184.4 614.1 1184.8 613.7 1185.2 614.0 1185.6 613.2 1186.0 614.1 1186.4 614.2 1186.8 613.6 1187.2 614.2 1187.5 613.9 1187.9 614.5 1188.3 614.2 1188.7 613.6 1189.1 614.0 1189.5 613.4 1189.9 613.9 1190.3 614.3 1190.7 614.4 1191.1 614.0 1191.5 614.0 1191.9 614.2 1192.3 613.9 1192.7 614.2 1193.1 614.5 1193.5 614.2 1193.9 614.5 1194.3 613.9 1194.7 614.0 1195.1 614.3 1195.5 614.9 1195.8 614.6 1196.2 614.8 1196.6 614.2 1197.0 614.7 1197.4 613.6 1197.8 614.4 1198.2 613.5 1198.6 614.7 1199.0 614.4 1199.4 614.7 1199.8 614.4 1200.2 614.1 1200.6 614.0 1201.0 614.4 1201.4 614.8 1201.8 614.5 1202.2 614.1 1202.6 614.1 1203.0 614.1 1203.4 614.3 1203.8 614.3 1204.2 614.2 1204.5 614.4 1204.9 613.8 1205.3 614.9 1205.7 614.4 1206.1 614.9 1206.5 614.5 1206.9 614.3 1207.3 614.4 1207.7 614.4 1208.1 614.1 1208.5 614.2 1208.9 615.0 1209.3 614.7 1209.7 614.2 1210.1 614.5 1210.5 614.1 1210.9 614.8 1211.3 614.0 1211.7 614.7 1212.1 614.3 1212.5 614.3 1212.8 614.0 1213.2 614.2 1213.6 614.0 1214.0 613.9 1214.4 614.4 1214.8 615.1 1215.2 614.0 1215.6 614.5 1216.0 614.1 1216.4 613.8 1216.8 614.5 1217.2 614.2 1217.6 614.3 1218.0 613.8 1218.4 613.8 1218.8 613.3 1219.2 613.4 1219.6 614.0 1220.0 612.4 1220.4 613.2 1220.8 613.4 1221.2 612.9 1221.5 612.7 1221.9 611.9 1222.3 612.0 1222.7 611.5 1223.1 610.5 1223.5 610.3 1223.9 608.3 1224.3 605.8 1224.7 604.0 1225.1 600.0 1225.5 593.8 1225.9 585.7 1226.3 575.0 1226.7 562.0 1227.1 549.7 1227.5 537.8 1227.9 532.4 1228.3 532.3 1228.7 539.1 1229.1 547.3 1229.5 556.1 1229.8 560.6 1230.2 563.6 1230.6 564.4 1231.0 565.2 1231.4 567.7 1231.8 573.4 1232.2 581.1 1232.6 588.6 1233.0 595.2 1233.4 600.0 1233.8 604.0 1234.2 607.6 1234.6 608.7 1235.0 610.6 1235.4 611.1 1235.8 611.4 1236.2 612.0 1236.6 613.0 1237.0 613.2 1237.4 613.6 1237.8 613.5 1238.1 613.7 1238.5 614.2 1238.9 614.2 1239.3 613.8 1239.7 614.3 1240.1 615.2 1240.5 614.4 1240.9 615.0 1241.3 614.9 1241.7 615.2 1242.1 614.7 1242.5 614.7 1242.9 615.3 1243.3 615.0 1243.7 615.3 1244.1 615.2 1244.5 615.7 1244.9 615.5 1245.3 615.5 1245.7 615.2 1246.1 615.0 1246.5 615.3 1246.8 615.9 1247.2 615.9 1247.6 615.9 1248.0 615.6 1248.4 615.4 1248.8 616.2 1249.2 615.9 1249.6 616.0 1250.0 615.5 1250.4 615.6 1250.8 616.1 1251.2 616.2 1251.6 615.6 1252.0 616.1 1252.4 615.6 1252.8 616.4 1253.2 616.2 1253.6 616.8 1254.0 616.6 1254.4 615.8 1254.8 616.1 1255.1 615.9 1255.5 616.2 1255.9 616.4 1256.3 616.1 1256.7 616.2 1257.1 615.7 1257.5 616.4 1257.9 616.2 1258.3 616.4 1258.7 616.6 1259.1 616.2 1259.5 616.5 1259.9 616.0 1260.3 616.6 1260.7 616.3 1261.1 616.1 1261.5 616.2 1261.9 615.8 1262.3 616.1 1262.7 616.2 1263.1 616.3 1263.5 616.3 1263.8 616.1 1264.2 616.3 1264.6 615.6 1265.0 616.4 1265.4 616.5 1265.8 616.6 1266.2 616.7 1266.6 616.3 1267.0 616.3 1267.4 616.2 1267.8 616.2 1268.2 616.4 1268.6 616.8 1269.0 615.8 1269.4 616.2 1269.8 616.5 1270.2 616.0 1270.6 616.5 1271.0 615.9 1271.4 616.3 1271.8 615.8 1272.1 616.5 1272.5 616.1 1272.9 616.6 1273.3 616.3 1273.7 616.1 1274.1 616.2 1274.5 616.4 1274.9 616.4 1275.3 616.3 1275.7 616.3 1276.1 616.4 1276.5 616.7 1276.9 616.2 1277.3 616.6 1277.7 615.9 1278.1 616.7 1278.5 616.5 1278.9 616.3 1279.3 616.3 1279.7 615.8 1280.1 616.4 1280.5 616.3 1280.8 615.9 1281.2 616.3 1281.6 616.6 1282.0 616.5 1282.4 616.5 1282.8 616.2 1283.2 616.7 1283.6 616.4 1284.0 616.7 1284.4 617.2 1284.8 615.7 1285.2 616.2 1285.6 616.4 1286.0 616.2 1286.4 616.8 1286.8 616.3 1287.2 617.0 1287.6 616.7 1288.0 616.6 1288.4 616.4 1288.8 616.7 1289.1 616.6 1289.5 616.9 1289.9 616.6 1290.3 616.8 1290.7 616.6 1291.1 616.6 1291.5 615.9 1291.9 616.4 1292.3 616.6 1292.7 616.0 1293.1 616.0 1293.5 616.3 1293.9 616.5 1294.3 615.9 1294.7 616.6 1295.1 616.8 1295.5 616.4 1295.9 616.5 1296.3 616.6 1296.7 616.2 1297.1 616.7 1297.5 616.6 1297.8 616.0 1298.2 616.6 1298.6 616.8 1299.0 616.1 1299.4 616.8 1299.8 616.4 1300.2 616.0 1300.6 616.1 1301.0 616.1 1301.4 616.6 1301.8 616.3 1302.2 616.3 1302.6 616.0 1303.0 616.5 1303.4 616.0 1303.8 616.2 1304.2 616.7 1304.6 616.7 1305.0 616.3 1305.4 616.4 1305.8 616.6 1306.1 616.5 1306.5 616.9 1306.9 616.9 1307.3 616.4 1307.7 616.0 1308.1 616.4 1308.5 616.9 1308.9 616.8 1309.3 616.9 1309.7 616.8 1310.1 616.3 1310.5 616.6 1310.9 616.8 1311.3 616.6 1311.7 616.8 1312.1 616.1 1312.5 616.0 1312.9 617.2 1313.3 616.7 1313.7 616.7 1314.1 617.0 1314.5 617.2 1314.8 617.5 1315.2 615.6 1315.6 616.6 1316.0 616.8 1316.4 615.8 1316.8 615.8 1317.2 616.4 1317.6 617.1 1318.0 616.8 1318.4 617.2 1318.8 616.6 1319.2 616.8 1319.6 617.0 1320.0 616.6 1320.4 616.5 1320.8 616.5 1321.2 615.2 1321.6 616.6 1322.0 615.8 1322.4 616.2 1322.8 616.7 1323.1 616.6 1323.5 615.8 1323.9 616.6 1324.3 616.7 1324.7 616.5 1325.1 616.7 1325.5 616.7 1325.9 615.9 1326.3 616.4 1326.7 616.4 1327.1 616.0 1327.5 616.4 1327.9 616.2 1328.3 616.4 1328.7 616.2 1329.1 616.8 1329.5 617.2 1329.9 616.3 1330.3 616.5 1330.7 616.5 1331.1 616.6 1331.5 616.4 1331.8 615.7 1332.2 616.6 1332.6 616.4 1333.0 616.1 1333.4 616.4 1333.8 616.3 1334.2 616.5 1334.6 616.3 1335.0 616.4 1335.4 616.5 1335.8 616.5 1336.2 616.5 1336.6 616.9 1337.0 616.5 1337.4 616.2 1337.8 617.1 1338.2 616.5 1338.6 617.0 1339.0 616.1 1339.4 616.7 1339.8 617.1 1340.1 616.9 1340.5 616.5 1340.9 616.3 1341.3 616.2 1341.7 616.4 1342.1 616.1 1342.5 616.2 1342.9 616.1 1343.3 616.1 1343.7 616.5 1344.1 615.8 1344.5 616.5 1344.9 616.7 1345.3 616.1 1345.7 616.1 1346.1 616.5 1346.5 616.4 1346.9 616.8 1347.3 615.8 1347.7 616.4 1348.1 616.9 1348.4 616.5 1348.8 617.1 1349.2 617.2 1349.6 616.3 1350.0 617.0 1350.4 616.6 1350.8 616.5 1351.2 616.4 1351.6 616.4 1352.0 616.1 1352.4 616.4 1352.8 616.8 1353.2 616.9 1353.6 616.3 1354.0 616.6 1354.4 616.6 1354.8 615.6 1355.2 616.7 1355.6 616.0 1356.0 616.1 1356.4 616.8 1356.8 617.0 1357.1 616.1 1357.5 616.1 1357.9 616.1 1358.3 616.3 1358.7 616.3 1359.1 616.2 1359.5 615.9 1359.9 617.1 1360.3 616.3 1360.7 616.2 1361.1 616.8 1361.5 616.3 1361.9 616.8 1362.3 616.7 1362.7 616.8 1363.1 616.3 1363.5 616.7 1363.9 615.9 1364.3 616.0 1364.7 616.5 1365.1 616.3 1365.4 616.9 1365.8 616.4 1366.2 615.8 1366.6 616.5 1367.0 616.3 1367.4 616.5 1367.8 616.0 1368.2 616.2 1368.6 616.5 1369.0 616.7 1369.4 616.6 1369.8 616.7 1370.2 615.9 1370.6 616.4 1371.0 616.5 1371.4 616.8 1371.8 616.5 1372.2 616.4 1372.6 616.4 1373.0 616.4 1373.4 616.0 1373.8 616.5 1374.1 616.7 1374.5 616.7 1374.9 615.8 1375.3 616.5 1375.7 615.9 1376.1 616.8 1376.5 616.6 1376.9 616.7 1377.3 616.2 1377.7 615.8 1378.1 616.1 1378.5 616.3 1378.9 615.9 1379.3 616.1 1379.7 617.1 1380.1 616.0 1380.5 616.6 1380.9 615.8 1381.3 616.5 1381.7 616.7 1382.1 616.6 1382.4 616.9 1382.8 617.1 1383.2 616.0 1383.6 616.5 1384.0 616.6 1384.4 616.6 1384.8 617.0 1385.2 616.6 1385.6 616.9 1386.0 616.9 1386.4 616.5 1386.8 616.6 1387.2 616.2 1387.6 616.6 1388.0 616.5 1388.4 616.4 1388.8 616.3 1389.2 616.8 1389.6 616.4 1390.0 617.3 1390.4 616.9 1390.8 616.7 1391.1 616.3 1391.5 616.8 1391.9 616.5 1392.3 616.5 1392.7 616.1 1393.1 616.7 1393.5 616.5 1393.9 616.3 1394.3 616.2 1394.7 616.4 1395.1 616.0 1395.5 616.3 1395.9 616.9 1396.3 616.2 1396.7 617.3 1397.1 616.0 1397.5 616.8 1397.9 616.8 1398.3 616.9 1398.7 616.7 1399.1 615.9 1399.4 616.9 1399.8 616.8 1400.2 616.5 1400.6 615.6 1401.0 616.8 1401.4 616.1 1401.8 616.4 1402.2 616.9 1402.6 616.9 1403.0 616.6 1403.4 616.3 1403.8 617.0 1404.2 616.9 1404.6 616.4 1405.0 616.1 1405.4 616.5 1405.8 616.0 1406.2 617.1 1406.6 616.6 1407.0 616.3 1407.4 616.6 1407.8 615.9 1408.1 616.4 1408.5 616.2 1408.9 615.9 1409.3 616.2 1409.7 616.6 1410.1 615.9 1410.5 616.4 1410.9 615.9 1411.3 616.5 1411.7 615.8 1412.1 616.7 1412.5 616.7 1412.9 616.7 1413.3 617.1 1413.7 616.5 1414.1 616.5 1414.5 616.6 1414.9 616.3 1415.3 615.7 1415.7 616.0 1416.1 616.0 1416.4 616.5 1416.8 616.2 1417.2 616.3 1417.6 616.6 1418.0 616.5 1418.4 617.1 1418.8 616.4 1419.2 616.1 1419.6 616.8 1420.0 616.3 1420.4 616.4 1420.8 616.7 1421.2 616.5 1421.6 616.6 1422.0 616.2 1422.4 616.3 1422.8 616.6 1423.2 616.2 1423.6 616.3 1424.0 616.4 1424.4 616.9 1424.8 616.9 1425.1 616.5 1425.5 616.4 1425.9 616.1 1426.3 616.8 1426.7 616.5 1427.1 616.7 1427.5 615.9 1427.9 616.7 1428.3 616.4 1428.7 616.6 1429.1 616.7 1429.5 616.4 1429.9 616.2 1430.3 616.6 1430.7 615.9 1431.1 616.9 1431.5 616.5 1431.9 616.0 1432.3 616.8 1432.7 616.7 1433.1 616.9 1433.4 616.7 1433.8 616.5 1434.2 616.3 1434.6 616.0 1435.0 616.6 1435.4 616.5 1435.8 616.2 1436.2 616.5 1436.6 616.0 1437.0 616.7 1437.4 616.4 1437.8 616.4 1438.2 616.0 1438.6 616.6 1439.0 616.3 1439.4 616.1 1439.8 616.4 1440.2 616.2 1440.6 616.6 1441.0 615.7 1441.4 615.8 1441.7 616.9 1442.1 616.0 1442.5 616.4 1442.9 616.0 1443.3 616.2 1443.7 617.1 1444.1 615.4 1444.5 616.3 1444.9 616.1 1445.3 616.1 1445.7 615.8 1446.1 615.7 1446.5 616.5 1446.9 616.1 1447.3 615.5 1447.7 615.9 1448.1 615.4 1448.5 616.8 1448.9 615.9 1449.3 615.1 1449.7 616.0 1450.1 615.9 1450.4 615.7 1450.8 615.6 1451.2 615.2 1451.6 615.3 1452.0 614.5 1452.4 615.6 1452.8 615.7 1453.2 615.0 1453.6 614.9 1454.0 614.0 1454.4 614.1 1454.8 613.4 1455.2 613.1 1455.6 613.3 1456.0 612.9 1456.4 611.4 1456.8 610.9 1457.2 608.3 1457.6 604.4 1458.0 601.2 1458.4 596.8 1458.7 590.4 1459.1 584.1 1459.5 576.5 1459.9 572.2 1460.3 568.5 1460.7 569.7 1461.1 573.8 1461.5 578.0 1461.9 582.7 1462.3 587.0 1462.7 589.0 1463.1 589.9 1463.5 590.4 1463.9 588.9 1464.3 588.7 1464.7 590.6 1465.1 591.8 1465.5 595.7 1465.9 599.6 1466.3 602.6 1466.7 605.3 1467.1 608.5 1467.4 609.8 1467.8 612.3 1468.2 613.3 1468.6 612.9 1469.0 614.0 1469.4 613.9 1469.8 614.6 1470.2 614.6 1470.6 614.5 1471.0 615.2 1471.4 614.5 1471.8 615.3 1472.2 615.3 1472.6 615.1 1473.0 615.8 1473.4 615.6 1473.8 615.5 1474.2 615.6 1474.6 615.6 1475.0 616.1 1475.4 615.7 1475.7 614.8 1476.1 614.8 1476.5 615.5 1476.9 615.5 1477.3 615.9 1477.7 615.5 1478.1 615.7 1478.5 616.5 1478.9 615.6 1479.3 616.4 1479.7 616.0 1480.1 616.5 1480.5 616.4 1480.9 616.1 1481.3 616.5 1481.7 616.2 1482.1 615.8 1482.5 616.3 1482.9 616.4 1483.3 616.1 1483.7 616.3 1484.1 616.1 1484.4 616.3 1484.8 616.1 1485.2 615.7 1485.6 616.1 1486.0 616.8 1486.4 616.5 1486.8 616.8 1487.2 616.3 1487.6 616.1 1488.0 615.9 1488.4 616.3 1488.8 616.6 1489.2 616.6 1489.6 616.5 1490.0 616.1 1490.4 616.3 1490.8 616.0 1491.2 616.6 1491.6 616.5 1492.0 616.1 1492.4 616.4 1492.7 615.5 1493.1 616.6 1493.5 616.0 1493.9 616.2 1494.3 616.5 1494.7 616.6 1495.1 616.1 1495.5 616.9 1495.9 617.0 1496.3 616.8 1496.7 616.8 1497.1 616.3 1497.5 616.8 1497.9 616.0 1498.3 615.9 1498.7 616.4 1499.1 616.4 1499.5 616.0 1499.9 617.0 1500.3 615.8 1500.7 615.6 1501.1 616.2 1501.4 616.9 1501.8 616.6 1502.2 616.5 1502.6 616.4 1503.0 616.5 1503.4 616.4 1503.8 616.4 1504.2 616.3 1504.6 615.8 1505.0 616.7 1505.4 616.2 1505.8 616.5 1506.2 616.5 1506.6 616.7 1507.0 616.1 1507.4 616.6 1507.8 616.6 1508.2 616.3 1508.6 616.3 1509.0 616.4 1509.4 616.0 1509.7 616.2 1510.1 615.9 1510.5 616.7 1510.9 616.0 1511.3 615.9 1511.7 616.4 1512.1 616.5 1512.5 616.2 1512.9 616.0 1513.3 616.5 1513.7 616.6 1514.1 615.7 1514.5 616.6 1514.9 615.7 1515.3 616.5 1515.7 616.1 1516.1 616.2 1516.5 616.5 1516.9 616.8 1517.3 617.0 1517.7 616.8 1518.1 616.5 1518.4 615.8 1518.8 616.1 1519.2 616.3 1519.6 616.1 1520.0 616.5 1520.4 616.2 1520.8 616.9 1521.2 616.2 1521.6 615.8 1522.0 616.0 1522.4 616.0 1522.8 616.4 1523.2 616.7 1523.6 616.5 1524.0 616.5 1524.4 615.9 1524.8 615.7 1525.2 615.8 1525.6 616.1 1526.0 615.9 1526.4 616.1 1526.7 616.4 1527.1 616.0 1527.5 616.5 1527.9 615.6 1528.3 616.0 1528.7 615.7 1529.1 615.9 1529.5 615.4 1529.9 615.0 1530.3 614.8 1530.7 614.2 1531.1 613.5 1531.5 613.5 1531.9 612.2 1532.3 611.9 1532.7 611.3 1533.1 609.2 1533.5 608.7 1533.9 607.7 1534.3 606.7 1534.7 607.5 1535.1 608.6 1535.4 608.6 1535.8 610.0 1536.2 611.0 1536.6 611.6 1537.0 613.1 1537.4 613.6 1537.8 614.5 1538.2 614.8 1538.6 614.6 1539.0 615.4 1539.4 615.7 1539.8 615.6 1540.2 616.0 1540.6 616.0 1541.0 615.1 1541.4 616.2 1541.8 615.3 1542.2 615.6 1542.6 616.0 1543.0 615.7 1543.4 615.8 1543.7 616.5 1544.1 615.7 1544.5 616.5 1544.9 616.8 1545.3 616.6 1545.7 615.8 1546.1 615.6 1546.5 616.2 1546.9 616.9 1547.3 616.1 1547.7 616.0 1548.1 616.2 1548.5 616.5 1548.9 616.6 1549.3 616.2 1549.7 616.2 1550.1 616.4 1550.5 616.2 1550.9 616.1 1551.3 615.6 1551.7 616.3 1552.0 616.0 1552.4 616.2 1552.8 616.1 1553.2 615.9 1553.6 616.4 1554.0 616.6 1554.4 616.4 1554.8 616.0 1555.2 616.3 1555.6 616.5 1556.0 616.2 1556.4 616.5 1556.8 615.8 1557.2 616.2 1557.6 616.8 1558.0 616.6 1558.4 616.2 1558.8 616.3 1559.2 617.0 1559.6 616.7 1560.0 616.0 1560.4 616.4 1560.7 616.1 1561.1 616.1 1561.5 615.9 1561.9 616.5 1562.3 617.1 1562.7 616.6 1563.1 615.8 1563.5 616.5 1563.9 615.8 1564.3 616.4 1564.7 616.7 1565.1 616.8 1565.5 616.3 1565.9 616.4 1566.3 616.3 1566.7 616.2 1567.1 616.8 1567.5 616.0 1567.9 615.7 1568.3 616.9 1568.7 617.1 1569.0 615.7 1569.4 616.6 1569.8 616.6 1570.2 616.1 1570.6 615.9 1571.0 616.3 1571.4 616.2 1571.8 616.6 1572.2 616.1 1572.6 616.7 1573.0 616.1 1573.4 616.9 1573.8 616.6 1574.2 616.7 1574.6 616.1 1575.0 616.2 1575.4 616.2 1575.8 616.7 1576.2 616.0 1576.6 616.0 1577.0 616.2 1577.4 616.4 1577.7 616.2 1578.1 616.3 1578.5 615.8 1578.9 616.1 1579.3 615.9 1579.7 616.6 1580.1 616.3 1580.5 616.5 1580.9 615.8 1581.3 616.3 1581.7 616.4 1582.1 615.9 1582.5 616.0 1582.9 616.1 1583.3 616.3 1583.7 616.4 1584.1 615.8 1584.5 616.4 1584.9 616.3 1585.3 616.4 1585.7 616.0 1586.0 616.2 1586.4 616.7 1586.8 616.7 1587.2 616.0 1587.6 616.8 1588.0 616.1 1588.4 615.9 1588.8 616.6 1589.2 616.4 1589.6 617.1 1590.0 616.2 1590.4 616.3 1590.8 616.5 1591.2 616.3 1591.6 616.1 1592.0 616.3 1592.4 616.2 1592.8 616.2 1593.2 616.2 1593.6 615.7 1594.0 616.6 1594.4 616.0 1594.7 616.2 1595.1 616.0 1595.5 616.2 1595.9 616.6 1596.3 616.7 1596.7 616.4 1597.1 616.3 1597.5 616.1 1597.9 616.1 1598.3 616.3 1598.7 616.2 1599.1 615.9 1599.5 616.3 1599.9 615.9 1600.3 617.0 1600.7 616.3 1601.1 616.0 1601.5 616.4 1601.9 616.0 1602.3 616.1 1602.7 616.8 1603.0 616.7 1603.4 615.8 1603.8 615.8 1604.2 616.0 1604.6 617.0 1605.0 616.2 1605.4 616.3 1605.8 616.0 1606.2 616.7 1606.6 616.6 1607.0 615.6 1607.4 615.9 1607.8 615.6 1608.2 615.8 1608.6 615.9 1609.0 615.8 1609.4 616.0 1609.8 616.5 1610.2 616.6 1610.6 616.3 1611.0 616.5 1611.4 615.7 1611.7 616.7 1612.1 617.0 1612.5 616.2 1612.9 616.4 1613.3 616.3 1613.7 615.4 1614.1 616.6 1614.5 616.4 1614.9 615.6 1615.3 616.1 1615.7 616.6 1616.1 616.4 1616.5 615.7 1616.9 616.0 1617.3 616.0 1617.7 616.3 1618.1 616.0 1618.5 616.2 1618.9 616.1 1619.3 615.7 1619.7 616.3 1620.0 616.3 1620.4 616.0 1620.8 616.5 1621.2 617.0 1621.6 615.6 1622.0 616.3 1622.4 616.5 1622.8 616.2 1623.2 616.0 1623.6 617.0"/>
<path id="cg" d="M139.5 327.9L139.9 328.1 140.3 327.9 140.7 327.3 141.1 328.1 141.5 328.0 141.9 327.6 142.3 328.0 142.7 328.0 143.1 327.9 143.5 327.9 143.8 328.1 144.2 327.6 144.6 327.8 145.0 327.7 145.4 328.1 145.8 327.9 146.2 327.8 146.6 327.7 147.0 327.8 147.4 327.9 147.8 327.9 148.2 328.4 148.6 328.3 149.0 327.0 149.4 327.3 149.8 327.9 150.2 327.9 150.6 328.1 151.0 328.1 151.4 328.8 151.8 327.7 152.2 327.9 152.5 328.8 152.9 328.3 153.3 328.3 153.7 327.9 154.1 327.5 154.5 328.2 154.9 328.2 155.3 327.7 155.7 327.9 156.1 328.1 156.5 327.8 156.9 328.1 157.3 328.2 157.7 328.2 158.1 328.0 158.5 328.4 158.9 328.5 159.3 328.3 159.7 327.9 160.1 328.5 160.5 328.1 160.8 328.6 161.2 327.9 161.6 328.6 162.0 328.3 162.4 327.9 162.8 328.2 163.2 328.3 163.6 328.4 164.0 328.0 164.4 328.0 164.8 328.4 165.2 328.2 165.6 328.4 166.0 328.6 166.4 327.8 166.8 328.5 167.2 328.8 167.6 328.3 168.0 328.1 168.4 328.7 168.8 328.5 169.2 328.8 169.5 328.3 169.9 327.9 170.3 328.4 170.7 328.3 171.1 328.8 171.5 328.6 171.9 327.9 172.3 328.1 172.7 328.8 173.1 328.8 173.5 328.3 173.9 328.6 174.3 328.7 174.7 328.7 175.1 328.9 175.5 328.7 175.9 328.6 176.3 328.5 176.7 329.0 177.1 327.8 177.5 328.6 177.8 328.7 178.2 328.2 178.6 328.8 179.0 328.4 179.4 329.0 179.8 328.6 180.2 328.9 180.6 329.1 181.0 328.8 181.4 328.4 181.8 328.2 182.2 329.4 182.6 328.7 183.0 328.5 183.4 328.8 183.8 328.7 184.2 329.1 184.6 328.8 185.0 328.8 185.4 328.6 185.8 329.0 186.2 328.5 186.5 329.1 186.9 329.4 187.3 328.3 187.7 328.0 188.1 329.1 188.5 329.8 188.9 328.5 189.3 328.5 189.7 329.1 190.1 328.6 190.5 328.7 190.9 328.8 191.3 329.1 191.7 328.8 192.1 329.1 192.5 328.9 192.9 328.7 193.3 328.9 193.7 328.7 194.1 329.0 194.5 328.6 194.8 328.6 195.2 329.5 195.6 329.0 196.0 329.0 196.4 329.2 196.8 328.9 197.2 329.0 197.6 329.2 198.0 329.2 198.4 328.7 198.8 329.4 199.2 328.9 199.6 328.7 200.0 328.8 200.4 329.0 200.8 329.7 201.2 328.7 201.6 329.2 202.0 328.4 202.4 329.2 202.8 329.5 203.1 329.1 203.5 329.0 203.9 329.3 204.3 329.5 204.7 329.5 205.1 329.9 205.5 329.3 205.9 329.0 206.3 329.2 206.7 329.2 207.1 329.3 207.5 329.3 207.9 329.4 208.3 328.7 208.7 329.6 209.1 329.1 209.5 328.9 209.9 329.6 210.3 329.8 210.7 329.5 211.1 329.4 211.5 329.0 211.8 330.4 212.2 329.7 212.6 329.0 213.0 329.1 213.4 329.4 213.8 328.9 214.2 329.5 214.6 329.3 215.0 329.9 215.4 329.8 215.8 328.5 216.2 329.5 216.6 328.9 217.0 329.9 217.4 329.5 217.8 329.7 218.2 329.1 218.6 330.1 219.0 330.2 219.4 329.2 219.8 329.7 220.1 329.3 220.5 329.5 220.9 329.1 221.3 330.2 221.7 329.2 222.1 329.5 222.5 329.8 222.9 329.4 223.3 329.5 223.7 329.4 224.1 329.6 224.5 329.2 224.9 329.5 225.3 329.6 225.7 329.5 226.1 329.7 226.5 329.6 226.9 329.9 227.3 329.6 227.7 329.6 228.1 329.5 228.5 329.5 228.8 329.3 229.2 329.9 229.6 329.3 230.0 329.5 230.4 329.9 230.8 329.9 231.2 329.6 231.6 329.1 232.0 329.9 232.4 329.9 232.8 329.3 233.2 330.1 233.6 329.6 234.0 329.4 234.4 329.8 234.8 329.8 235.2 329.9 235.6 329.3 236.0 330.5 236.4 329.6 236.8 329.3 237.1 330.1 237.5 329.8 237.9 330.0 238.3 329.8 238.7 329.9 239.1 330.0 239.5 329.6 239.9 330.2 240.3 329.8 240.7 329.6 241.1 330.0 241.5 330.1 241.9 329.9 242.3 329.7 242.7 330.2 243.1 329.4 243.5 329.6 243.9 330.0 244.3 329.5 244.7 330.0 245.1 330.0 245.5 330.3 245.8 329.7 246.2 329.8 246.6 330.2 247.0 329.2 247.4 331.1 247.8 329.8 248.2 329.8 248.6 330.4 249.0 330.1 249.4 329.5 249.8 330.3 250.2 330.4 250.6 330.0 251.0 330.0 251.4 330.3 251.8 329.8 252.2 330.3 252.6 330.2 253.0 329.9 253.4 329.7 253.8 330.1 254.1 329.9 254.5 330.5 254.9 330.2 255.3 330.5 255.7 330.2 256.1 330.3 256.5 329.9 256.9 330.5 257.3 330.9 257.7 330.1 258.1 330.0 258.5 330.2 258.9 330.1 259.3 330.0 259.7 330.3 260.1 330.2 260.5 330.8 260.9 330.3 261.3 330.4 261.7 330.6 262.1 330.2 262.5 330.8 262.8 330.1 263.2 330.1 263.6 330.2 264.0 330.3 264.4 329.9 264.8 330.4 265.2 329.8 265.6 330.9 266.0 330.4 266.4 330.2 266.8 330.1 267.2 330.3 267.6 330.3 268.0 330.1 268.4 330.1 268.8 330.4 269.2 330.3 269.6 330.8 270.0 330.9 270.4 330.5 270.8 330.6 271.1 330.0 271.5 330.7 271.9 330.5 272.3 330.7 272.7 331.1 273.1 329.7 273.5 330.6 273.9 330.1 274.3 330.7 274.7 330.1 275.1 330.4 275.5 330.6 275.9 330.8 276.3 330.6 276.7 330.3 277.1 330.4 277.5 330.9 277.9 330.6 278.3 330.0 278.7 330.9 279.1 330.8 279.5 330.9 279.8 330.5 280.2 330.9 280.6 330.3 281.0 330.9 281.4 330.5 281.8 330.9 282.2 331.0 282.6 330.4 283.0 330.7 283.4 330.7 283.8 331.1 284.2 331.0 284.6 330.3 285.0 330.9 285.4 331.0 285.8 331.5 286.2 330.2 286.6 330.6 287.0 331.2 287.4 330.3 287.8 330.4 288.1 331.0 288.5 331.2 288.9 330.6 289.3 331.0 289.7 330.9 290.1 331.4 290.5 330.8 290.9 331.2 291.3 330.5 291.7 330.8 292.1 330.8 292.5 331.3 292.9 331.1 293.3 330.6 293.7 331.1 294.1 331.2 294.5 330.9 294.9 330.8 295.3 330.9 295.7 330.3 296.1 331.0 296.4 331.0 296.8 330.7 297.2 331.2 297.6 330.5 298.0 330.8 298.4 330.8 298.8 331.7 299.2 330.4 299.6 331.2 300.0 331.3 300.4 331.2 300.8 331.4 301.2 330.7 301.6 330.2 302.0 331.3 302.4 330.6 302.8 331.0 303.2 330.7 303.6 331.5 304.0 331.4 304.4 330.8 304.8 331.4 305.1 331.2 305.5 331.1 305.9 331.1 306.3 331.1 306.7 331.4 307.1 331.3 307.5 331.0 307.9 331.5 308.3 331.0 308.7 331.3 309.1 331.3 309.5 331.7 309.9 331.0 310.3 331.8 310.7 331.3 311.1 331.2 311.5 331.0 311.9 331.4 312.3 331.3 312.7 330.9 313.1 330.9 313.4 331.1 313.8 331.0 314.2 331.7 314.6 331.8 315.0 331.6 315.4 331.4 315.8 331.2 316.2 331.3 316.6 331.6 317.0 332.1 317.4 331.7 317.8 331.2 318.2 331.4 318.6 331.2 319.0 331.1 319.4 331.3 319.8 331.4 320.2 332.0 320.6 331.4 321.0 331.9 321.4 332.0 321.8 331.4 322.1 332.0 322.5 331.7 322.9 331.3 323.3 331.5 323.7 331.4 324.1 331.4 324.5 331.4 324.9 331.5 325.3 331.6 325.7 331.2 326.1 331.5 326.5 331.0 326.9 331.6 327.3 331.7 327.7 331.6 328.1 331.6 328.5 331.7 328.9 331.3 329.3 331.5 329.7 331.7 330.1 331.9 330.4 331.7 330.8 332.5 331.2 331.5 331.6 331.9 332.0 332.0 332.4 331.5 332.8 331.3 333.2 331.2 333.6 331.7 334.0 332.0 334.4 331.7 334.8 331.7 335.2 331.5 335.6 331.8 336.0 330.9 336.4 331.7 336.8 331.7 337.2 331.2 337.6 332.4 338.0 331.2 338.4 331.3 338.8 331.3 339.1 332.1 339.5 331.4 339.9 331.9 340.3 331.9 340.7 331.8 341.1 331.3 341.5 331.5 341.9 332.3 342.3 331.3 342.7 331.5 343.1 331.7 343.5 332.0 343.9 331.9 344.3 332.0 344.7 331.4 345.1 332.1 345.5 332.0 345.9 331.2 346.3 332.3 346.7 332.6 347.1 331.5 347.4 331.8 347.8 332.3 348.2 331.3 348.6 331.1 349.0 331.4 349.4 331.6 349.8 331.6 350.2 332.1 350.6 332.0 351.0 331.4 351.4 332.1 351.8 332.5 352.2 332.3 352.6 332.2 353.0 331.9 353.4 332.2 353.8 331.6 354.2 332.2 354.6 331.9 355.0 332.3 355.4 332.1 355.8 331.5 356.1 332.0 356.5 332.4 356.9 331.6 357.3 331.8 357.7 331.7 358.1 331.4 358.5 332.3 358.9 332.4 359.3 332.3 359.7 332.1 360.1 332.0 360.5 332.1 360.9 331.7 361.3 332.3 361.7 332.4 362.1 332.3 362.5 331.8 362.9 332.0 363.3 332.0 363.7 332.7 364.1 332.1 364.4 331.4 364.8 332.2 365.2 332.7 365.6 332.3 366.0 332.4 366.4 332.1 366.8 331.4 367.2 331.4 367.6 331.6 368.0 332.0 368.4 332.2 368.8 332.3 369.2 332.0 369.6 332.4 370.0 332.0 370.4 331.9 370.8 332.4 371.2 331.8 371.6 331.2 372.0 331.7 372.4 332.2 372.8 331.1 373.1 332.0 373.5 332.0 373.9 331.6 374.3 331.6 374.7 332.0 375.1 332.0 375.5 332.6 375.9 332.3 376.3 331.6 376.7 331.9 377.1 332.4 377.5 332.8 377.9 332.3 378.3 332.3 378.7 332.8 379.1 332.2 379.5 332.1 379.9 331.7 380.3 332.0 380.7 333.0 381.1 331.7 381.4 332.2 381.8 331.7 382.2 332.3 382.6 332.5 383.0 332.1 383.4 332.5 383.8 332.5 384.2 332.4 384.6 332.8 385.0 332.5 385.4 332.1 385.8 332.0 386.2 331.9 386.6 332.4 387.0 332.1 387.4 333.2 387.8 332.9 388.2 332.2 388.6 332.1 389.0 332.9 389.4 331.6 389.8 332.1 390.1 332.6 390.5 332.0 390.9 332.1 391.3 332.2 391.7 332.5 392.1 332.3 392.5 332.4 392.9 332.5 393.3 332.3 393.7 332.7 394.1 332.0 394.5 331.8 394.9 331.7 395.3 331.7 395.7 332.1 396.1 332.7 396.5 332.4 396.9 332.1 397.3 331.9 397.7 332.1 398.1 332.2 398.4 332.1 398.8 331.8 399.2 332.1 399.6 332.7 400.0 331.6 400.4 332.2 400.8 331.6 401.2 332.4 401.6 332.1 402.0 331.6 402.4 332.4 402.8 333.0 403.2 332.4 403.6 332.7 404.0 332.3 404.4 331.6 404.8 332.5 405.2 332.2 405.6 331.8 406.0 332.6 406.4 332.4 406.7 332.1 407.1 332.6 407.5 332.0 407.9 332.6 408.3 332.0 408.7 332.5 409.1 331.9 409.5 332.8 409.9 332.4 410.3 332.8 410.7 332.0 411.1 332.2 411.5 332.6 411.9 331.4 412.3 332.0 412.7 332.7 413.1 332.5 413.5 332.7 413.9 332.2 414.3 332.5 414.7 332.1 415.1 331.8 415.4 331.7 415.8 332.1 416.2 332.1 416.6 332.1 417.0 331.1 417.4 331.6 417.8 332.1 418.2 332.4 418.6 332.1 419.0 332.0 419.4 331.5 419.8 333.0 420.2 331.9 420.6 332.9 421.0 332.8 421.4 332.4 421.8 332.1 422.2 332.3 422.6 331.9 423.0 332.4 423.4 332.3 423.7 332.5 424.1 332.6 424.5 332.9 424.9 332.1 425.3 332.6 425.7 332.0 426.1 332.0 426.5 332.1 426.9 331.9 427.3 332.6 427.7 332.6 428.1 332.7 428.5 332.3 428.9 332.4 429.3 332.1 429.7 331.8 430.1 332.4 430.5 332.3 430.9 331.9 431.3 332.4 431.7 331.6 432.1 332.2 432.4 332.0 432.8 332.0 433.2 331.8 433.6 332.6 434.0 332.4 434.4 332.6 434.8 332.3 435.2 331.8 435.6 332.1 436.0 331.8 436.4 332.4 436.8 332.6 437.2 332.3 437.6 332.0 438.0 332.1 438.4 332.3 438.8 331.7 439.2 332.2 439.6 332.2 440.0 332.0 440.4 332.0 440.7 332.2 441.1 331.9 441.5 331.9 441.9 332.4 442.3 332.2 442.7 332.7 443.1 331.8 443.5 331.5 443.9 332.4 444.3 332.4 444.7 331.8 445.1 331.6 445.5 332.1 445.9 331.5 446.3 332.0 446.7 331.3 447.1 332.0 447.5 331.3 447.9 332.0 448.3 332.6 448.7 332.0 449.1 332.3 449.4 331.8 449.8 331.7 450.2 331.5 450.6 332.4 451.0 332.0 451.4 332.6 451.8 331.6 452.2 331.9 452.6 332.0 453.0 332.5 453.4 332.6 453.8 331.7 454.2 331.5 454.6 331.3 455.0 332.4 455.4 331.9 455.8 331.7 456.2 331.9 456.6 331.0 457.0 331.2 457.4 332.2 457.7 332.0 458.1 331.9 458.5 331.4 458.9 332.0 459.3 332.4 459.7 331.3 460.1 331.7 460.5 331.5 460.9 331.8 461.3 331.7 461.7 331.6 462.1 331.3 462.5 331.6 462.9 331.3 463.3 331.5 463.7 331.4 464.1 331.6 464.5 331.2 464.9 331.2 465.3 331.6 465.7 331.0 466.1 330.9 466.4 331.1 466.8 330.6 467.2 330.2 467.6 329.9 468.0 328.9 468.4 328.8 468.8 328.4 469.2 327.2 469.6 325.4 470.0 324.9 470.4 323.1 470.8 322.0 471.2 320.8 471.6 318.9 472.0 318.6 472.4 317.1 472.8 316.8 473.2 316.4 473.6 316.8 474.0 317.3 474.4 317.2 474.7 318.9 475.1 319.4 475.5 321.3 475.9 323.1 476.3 324.5 476.7 325.8 477.1 326.3 477.5 327.5 477.9 328.2 478.3 329.3 478.7 329.9 479.1 329.7 479.5 331.4 479.9 330.3 480.3 330.4 480.7 330.9 481.1 331.0 481.5 331.0 481.9 330.7 482.3 331.4 482.7 331.0 483.1 331.5 483.4 331.5 483.8 330.6 484.2 330.7 484.6 330.7 485.0 331.1 485.4 331.0 485.8 331.1 486.2 330.7 486.6 331.2 487.0 331.5 487.4 330.5 487.8 330.9 488.2 331.1 488.6 330.9 489.0 330.9 489.4 331.6 489.8 331.4 490.2 331.2 490.6 330.7 491.0 331.7 491.4 331.0 491.7 330.7 492.1 330.7 492.5 330.7 492.9 331.6 493.3 330.9 493.7 330.8 494.1 330.0 494.5 331.0 494.9 330.4 495.3 330.3 495.7 330.9 496.1 330.4 496.5 330.9 496.9 331.0 497.3 330.0 497.7 330.5 498.1 330.0 498.5 330.5 498.9 330.8 499.3 330.0 499.7 331.1 500.1 330.3 500.4 330.0 500.8 330.3 501.2 330.6 501.6 329.8 502.0 330.2 502.4 329.7 502.8 330.6 503.2 330.2 503.6 330.0 504.0 330.4 504.4 329.6 504.8 329.9 505.2 330.6 505.6 329.9 506.0 330.3 506.4 329.9 506.8 329.5 507.2 329.7 507.6 329.7 508.0 329.5 508.4 329.3 508.7 329.3 509.1 329.0 509.5 329.5 509.9 329.5 510.3 329.6 510.7 328.7 511.1 329.5 511.5 329.2 511.9 328.6 512.3 329.1 512.7 329.3 513.1 329.1 513.5 329.2 513.9 329.2 514.3 329.1 514.7 328.7 515.1 327.9 515.5 328.3 515.9 328.6 516.3 328.3 516.7 328.6 517.0 328.6 517.4 328.2 517.8 328.8 518.2 327.7 518.6 328.3 519.0 327.7 519.4 327.5 519.8 327.9 520.2 327.4 520.6 327.8 521.0 327.0 521.4 327.3 521.8 326.9 522.2 327.0 522.6 326.8 523.0 326.5 523.4 327.0 523.8 326.2 524.2 326.2 524.6 326.7 525.0 326.6 525.4 326.4 525.7 326.1 526.1 326.6 526.5 325.3 526.9 325.3 527.3 325.1 527.7 325.6 528.1 325.2 528.5 325.3 528.9 325.1 529.3 324.5 529.7 324.1 530.1 323.9 530.5 324.8 530.9 324.2 531.3 323.9 531.7 323.3 532.1 323.2 532.5 322.9 532.9 322.7 533.3 321.7 533.7 322.3 534.0 321.9 534.4 321.9 534.8 321.6 535.2 321.6 535.6 321.0 536.0 321.0 536.4 319.5 536.8 319.8 537.2 320.4 537.6 319.1 538.0 319.1 538.4 319.1 538.8 318.2 539.2 318.4 539.6 317.3 540.0 316.7 540.4 316.5 540.8 316.0 541.2 316.2 541.6 315.7 542.0 315.5 542.4 314.5 542.7 315.3 543.1 314.0 543.5 313.5 543.9 313.2 544.3 312.5 544.7 311.8 545.1 311.6 545.5 311.3 545.9 310.7 546.3 310.3 546.7 309.2 547.1 308.6 547.5 309.0 547.9 307.6 548.3 307.3 548.7 306.8 549.1 306.5 549.5 305.0 549.9 304.7 550.3 304.2 550.7 303.6 551.0 302.4 551.4 302.6 551.8 301.1 552.2 301.8 552.6 301.4 553.0 300.9 553.4 299.8 553.8 300.2 554.2 299.1 554.6 298.7 555.0 298.4 555.4 298.2 555.8 298.3 556.2 298.3 556.6 297.1 557.0 297.5 557.4 297.9 557.8 297.6 558.2 297.7 558.6 297.1 559.0 298.0 559.4 297.3 559.7 298.2 560.1 298.9 560.5 299.4 560.9 299.3 561.3 299.9 561.7 299.9 562.1 300.4 562.5 301.6 562.9 301.8 563.3 302.3 563.7 302.6 564.1 303.8 564.5 304.6 564.9 304.8 565.3 305.7 565.7 307.1 566.1 307.4 566.5 307.9 566.9 308.4 567.3 309.3 567.7 310.1 568.0 311.4 568.4 311.5 568.8 313.0 569.2 312.8 569.6 313.6 570.0 314.7 570.4 315.0 570.8 315.5 571.2 316.3 571.6 317.1 572.0 317.0 572.4 318.1 572.8 318.7 573.2 319.1 573.6 320.1 574.0 320.1 574.4 320.7 574.8 321.3 575.2 322.0 575.6 322.1 576.0 323.2 576.4 322.7 576.7 323.9 577.1 323.5 577.5 324.1 577.9 324.7 578.3 325.6 578.7 325.5 579.1 325.4 579.5 326.3 579.9 326.0 580.3 326.1 580.7 326.8 581.1 326.9 581.5 327.4 581.9 327.1 582.3 327.6 582.7 327.9 583.1 328.0 583.5 328.1 583.9 328.0 584.3 328.7 584.7 328.6 585.0 328.9 585.4 328.7 585.8 329.0 586.2 328.7 586.6 329.3 587.0 329.6 587.4 329.5 587.8 329.8 588.2 329.8 588.6 330.2 589.0 329.8 589.4 329.3 589.8 330.1 590.2 330.0 590.6 329.8 591.0 330.4 591.4 330.4 591.8 330.5 592.2 330.3 592.6 330.5 593.0 330.6 593.4 331.2 593.7 330.3 594.1 330.6 594.5 330.8 594.9 330.1 595.3 330.2 595.7 331.5 596.1 330.2 596.5 331.0 596.9 330.5 597.3 330.6 597.7 330.2 598.1 330.5 598.5 331.1 598.9 330.4 599.3 331.0 599.7 330.9 600.1 331.5 600.5 330.5 600.9 331.0 601.3 330.8 601.7 330.2 602.0 329.4 602.4 330.0 602.8 328.1 603.2 326.5 603.6 323.5 604.0 317.8 604.4 309.5 604.8 302.9 605.2 301.5 605.6 307.5 606.0 315.8 606.4 320.9 606.8 326.2 607.2 327.3 607.6 329.5 608.0 329.8 608.4 331.2 608.8 330.9 609.2 330.8 609.6 331.0 610.0 331.1 610.3 331.5 610.7 331.4 611.1 331.8 611.5 332.2 611.9 331.9 612.3 331.3 612.7 331.2 613.1 331.5 613.5 332.2 613.9 331.8 614.3 331.7 614.7 332.0 615.1 331.5 615.5 331.6 615.9 332.2 616.3 331.9 616.7 331.9 617.1 332.2 617.5 331.9 617.9 331.9 618.3 332.0 618.7 332.3 619.0 332.2 619.4 331.7 619.8 332.1 620.2 332.4 620.6 332.9 621.0 331.8 621.4 332.3 621.8 332.1 622.2 332.5 622.6 332.4 623.0 332.8 623.4 332.5 623.8 332.1 624.2 332.1 624.6 332.5 625.0 332.5 625.4 333.2 625.8 332.9 626.2 331.9 626.6 332.5 627.0 331.9 627.3 331.8 627.7 332.6 628.1 332.6 628.5 332.0 628.9 333.0 629.3 332.1 629.7 332.0 630.1 332.7 630.5 332.5 630.9 332.4 631.3 332.4 631.7 332.5 632.1 332.4 632.5 332.4 632.9 331.8 633.3 332.0 633.7 332.7 634.1 332.3 634.5 332.7 634.9 332.9 635.3 332.4 635.7 332.6 636.0 333.3 636.4 332.8 636.8 333.2 637.2 333.1 637.6 332.8 638.0 332.5 638.4 332.3 638.8 332.2 639.2 332.7 639.6 332.7 640.0 332.5 640.4 332.9 640.8 332.4 641.2 333.0 641.6 332.6 642.0 332.6 642.4 332.6 642.8 332.6 643.2 333.5 643.6 332.1 644.0 332.7 644.3 333.1 644.7 332.9 645.1 332.5 645.5 333.2 645.9 332.3 646.3 332.2 646.7 332.8 647.1 332.1 647.5 331.8 647.9 333.0 648.3 332.9 648.7 332.9 649.1 332.5 649.5 332.7 649.9 332.3 650.3 333.3 650.7 333.0 651.1 332.9 651.5 332.0 651.9 333.0 652.3 333.2 652.7 333.1 653.0 333.0 653.4 332.7 653.8 332.6 654.2 332.9 654.6 332.8 655.0 332.8 655.4 332.6 655.8 333.3 656.2 332.3 656.6 332.7 657.0 332.5 657.4 333.1 657.8 333.2 658.2 333.2 658.6 333.0 659.0 332.2 659.4 333.5 659.8 332.9 660.2 332.7 660.6 332.7 661.0 332.6 661.3 332.9 661.7 332.9 662.1 332.6 662.5 331.8 662.9 332.7 663.3 332.9 663.7 332.9 664.1 332.7 664.5 332.9 664.9 333.1 665.3 332.6 665.7 333.3 666.1 332.1 666.5 332.3 666.9 332.4 667.3 331.9 667.7 332.4 668.1 333.2 668.5 333.2 668.9 332.8 669.3 333.4 669.7 332.8 670.0 332.6 670.4 332.9 670.8 332.7 671.2 333.0 671.6 332.2 672.0 333.1 672.4 332.6 672.8 333.1 673.2 332.2 673.6 332.6 674.0 332.8 674.4 333.1 674.8 332.3 675.2 333.4 675.6 332.9 676.0 332.6 676.4 333.2 676.8 332.8 677.2 333.2 677.6 333.6 678.0 333.0 678.3 332.6 678.7 332.6 679.1 333.0 679.5 332.9 679.9 332.5 680.3 332.5 680.7 333.0 681.1 333.6 681.5 331.8 681.9 333.0 682.3 332.7 682.7 333.0 683.1 333.1 683.5 332.8 683.9 332.4 684.3 332.3 684.7 332.1 685.1 333.2 685.5 332.7 685.9 332.6 686.3 332.6 686.7 332.3 687.0 332.8 687.4 333.2 687.8 333.1 688.2 332.2 688.6 333.2 689.0 332.5 689.4 332.0 689.8 332.3 690.2 332.4 690.6 332.7 691.0 332.3 691.4 332.2 691.8 332.6 692.2 333.4 692.6 332.4 693.0 332.8 693.4 332.7 693.8 333.6 694.2 332.0 694.6 333.0 695.0 332.2 695.3 332.4 695.7 332.6 696.1 333.7 696.5 332.4 696.9 332.0 697.3 333.1 697.7 332.3 698.1 332.5 698.5 332.6 698.9 332.6 699.3 332.5 699.7 332.6 700.1 332.7 700.5 332.8 700.9 332.3 701.3 332.2 701.7 332.1 702.1 332.6 702.5 332.4 702.9 332.5 703.3 332.4 703.7 332.7 704.0 332.1 704.4 332.1 704.8 331.2 705.2 331.0 705.6 331.0 706.0 330.4 706.4 330.9 706.8 330.0 707.2 330.4 707.6 329.6 708.0 330.3 708.4 330.8 708.8 331.1 709.2 330.7 709.6 331.6 710.0 332.0 710.4 332.0 710.8 331.6 711.2 331.7 711.6 331.5 712.0 332.1 712.3 332.3 712.7 331.6 713.1 331.0 713.5 331.5 713.9 331.3 714.3 329.7 714.7 330.1 715.1 330.0 715.5 328.6 715.9 327.5 716.3 326.6 716.7 326.4 717.1 325.9 717.5 326.6 717.9 328.0 718.3 328.5 718.7 329.7 719.1 329.5 719.5 330.9 719.9 331.3 720.3 331.2 720.6 331.3 721.0 331.9 721.4 331.0 721.8 331.1 722.2 331.0 722.6 331.2 723.0 331.0 723.4 331.3 723.8 331.0 724.2 330.7 724.6 330.7 725.0 331.6 725.4 331.1 725.8 331.0 726.2 331.0 726.6 330.9 727.0 331.1 727.4 331.0 727.8 330.5 728.2 330.3 728.6 330.1 729.0 330.0 729.3 330.8 729.7 329.9 730.1 329.4 730.5 329.7 730.9 329.6 731.3 329.8 731.7 329.3 732.1 329.6 732.5 329.4 732.9 329.5 733.3 329.7 733.7 329.7 734.1 329.0 734.5 327.9 734.9 327.9 735.3 327.9 735.7 328.2 736.1 327.4 736.5 327.3 736.9 326.5 737.3 326.4 737.6 326.0 738.0 325.2 738.4 325.2 738.8 324.8 739.2 323.8 739.6 323.7 740.0 323.3 740.4 322.1 740.8 321.3 741.2 320.5 741.6 319.5 742.0 318.9 742.4 317.8 742.8 316.7 743.2 315.4 743.6 313.9 744.0 312.7 744.4 311.4 744.8 308.5 745.2 304.8 745.6 297.1 746.0 278.3 746.3 242.6 746.7 193.1 747.1 145.5 747.5 132.3 747.9 155.8 748.3 186.7 748.7 202.3 749.1 207.3 749.5 223.6 749.9 250.3 750.3 277.5 750.7 296.0 751.1 306.4 751.5 311.5 751.9 314.1 752.3 315.6 752.7 317.6 753.1 318.7 753.5 320.0 753.9 321.0 754.3 320.8 754.6 322.5 755.0 323.2 755.4 323.2 755.8 324.4 756.2 325.1 756.6 324.9 757.0 325.0 757.4 325.8 757.8 327.3 758.2 326.8 758.6 326.6 759.0 327.3 759.4 327.3 759.8 327.8 760.2 328.2 760.6 327.5 761.0 328.8 761.4 329.4 761.8 329.0 762.2 329.1 762.6 329.8 763.0 329.2 763.3 329.3 763.7 329.4 764.1 330.0 764.5 330.3 764.9 330.3 765.3 330.6 765.7 330.8 766.1 330.8 766.5 330.4 766.9 330.7 767.3 331.3 767.7 330.6 768.1 331.0 768.5 331.0 768.9 331.1 769.3 330.9 769.7 330.9 770.1 332.3 770.5 331.8 770.9 331.3 771.3 331.5 771.6 331.9 772.0 331.6 772.4 331.9 772.8 331.5 773.2 331.7 773.6 331.8 774.0 331.7 774.4 331.1 774.8 332.0 775.2 332.1 775.6 332.2 776.0 331.7 776.4 332.2 776.8 332.2 777.2 331.5 777.6 331.4 778.0 332.4 778.4 331.9 778.8 332.6 779.2 333.0 779.6 332.1 780.0 332.1 780.3 332.4 780.7 332.6 781.1 332.0 781.5 332.9 781.9 332.8 782.3 332.7 782.7 332.3 783.1 332.8 783.5 332.8 783.9 332.1 784.3 333.3 784.7 332.5 785.1 332.7 785.5 332.4 785.9 332.8 786.3 333.0 786.7 332.4 787.1 332.1 787.5 332.5 787.9 332.2 788.3 332.4 788.6 332.7 789.0 332.7 789.4 333.2 789.8 332.4 790.2 332.9 790.6 332.6 791.0 333.3 791.4 333.7 791.8 332.9 792.2 333.4 792.6 332.6 793.0 332.3 793.4 332.4 793.8 332.3 794.2 332.5 794.6 332.8 795.0 333.3 795.4 333.1 795.8 333.0 796.2 332.7 796.6 332.6 797.0 332.9 797.3 333.0 797.7 333.0 798.1 333.1 798.5 332.9 798.9 332.3 799.3 332.6 799.7 332.7 800.1 333.5 800.5 332.8 800.9 333.2 801.3 333.5 801.7 333.1 802.1 332.8 802.5 332.9 802.9 332.6 803.3 333.1 803.7 333.4 804.1 333.2 804.5 333.3 804.9 333.3 805.3 333.7 805.6 332.8 806.0 333.1 806.4 333.3 806.8 333.5 807.2 332.2 807.6 332.9 808.0 333.0 808.4 332.7 808.8 333.4 809.2 333.1 809.6 332.9 810.0 332.5 810.4 332.6 810.8 332.7 811.2 333.2 811.6 332.7 812.0 332.4 812.4 332.6 812.8 332.9 813.2 333.7 813.6 334.0 814.0 332.9 814.3 333.4 814.7 333.6 815.1 333.6 815.5 333.1 815.9 332.7 816.3 333.0 816.7 332.5 817.1 333.2 817.5 333.4 817.9 332.5 818.3 333.1 818.7 333.2 819.1 333.6 819.5 333.6 819.9 333.4 820.3 332.9 820.7 333.0 821.1 333.6 821.5 332.9 821.9 333.1 822.3 333.7 822.6 333.2 823.0 332.7 823.4 333.1 823.8 333.4 824.2 333.1 824.6 333.6 825.0 333.6 825.4 333.0 825.8 333.0 826.2 333.1 826.6 332.8 827.0 333.3 827.4 333.1 827.8 333.5 828.2 333.0 828.6 332.9 829.0 333.8 829.4 332.9 829.8 333.0 830.2 332.9 830.6 333.1 830.9 332.9 831.3 333.2 831.7 333.0 832.1 333.1 832.5 333.3 832.9 333.4 833.3 333.4 833.7 332.9 834.1 333.3 834.5 333.2 834.9 333.2 835.3 332.6 835.7 333.4 836.1 333.2 836.5 333.8 836.9 333.4 837.3 332.8 837.7 332.7 838.1 333.6 838.5 332.9 838.9 333.4 839.3 333.1 839.6 333.9 840.0 333.2 840.4 333.7 840.8 333.7 841.2 333.0 841.6 333.1 842.0 333.7 842.4 333.2 842.8 332.9 843.2 333.6 843.6 334.1 844.0 333.2 844.4 333.7 844.8 333.1 845.2 333.6 845.6 333.1 846.0 333.6 846.4 333.3 846.8 333.1 847.2 333.2 847.6 332.9 847.9 332.7 848.3 332.7 848.7 333.1 849.1 332.7 849.5 333.2 849.9 333.2 850.3 333.2 850.7 332.8 851.1 333.0 851.5 332.9 851.9 333.4 852.3 332.6 852.7 332.7 853.1 332.7 853.5 332.7 853.9 332.4 854.3 332.4 854.7 332.9 855.1 332.2 855.5 332.6 855.9 332.9 856.3 332.4 856.6 331.1 857.0 331.6 857.4 330.9 857.8 330.2 858.2 328.3 858.6 327.6 859.0 324.9 859.4 323.4 859.8 320.5 860.2 318.1 860.6 314.6 861.0 312.4 861.4 312.7 861.8 313.1 862.2 313.8 862.6 315.7 863.0 317.1 863.4 318.3 863.8 320.8 864.2 323.0 864.6 325.2 864.9 327.1 865.3 328.2 865.7 329.6 866.1 330.7 866.5 331.1 866.9 331.5 867.3 331.8 867.7 332.1 868.1 331.7 868.5 332.5 868.9 332.2 869.3 332.7 869.7 332.2 870.1 333.1 870.5 332.9 870.9 332.4 871.3 333.0 871.7 332.7 872.1 333.6 872.5 333.2 872.9 332.8 873.3 333.2 873.6 333.1 874.0 333.6 874.4 333.3 874.8 333.3 875.2 332.8 875.6 333.5 876.0 333.9 876.4 333.4 876.8 333.2 877.2 333.3 877.6 332.9 878.0 333.3 878.4 332.9 878.8 333.3 879.2 333.1 879.6 333.0 880.0 333.5 880.4 332.8 880.8 333.3 881.2 332.9 881.6 334.0 881.9 334.0 882.3 333.6 882.7 334.0 883.1 333.5 883.5 333.5 883.9 333.2 884.3 333.0 884.7 333.4 885.1 333.2 885.5 333.2 885.9 333.6 886.3 333.3 886.7 332.8 887.1 333.3 887.5 333.1 887.9 333.3 888.3 333.0 888.7 333.8 889.1 334.1 889.5 333.0 889.9 333.6 890.3 333.6 890.6 333.0 891.0 333.4 891.4 333.9 891.8 333.7 892.2 334.0 892.6 333.0 893.0 333.1 893.4 333.5 893.8 333.5 894.2 333.4 894.6 333.3 895.0 333.3 895.4 333.2 895.8 333.6 896.2 332.5 896.6 334.0 897.0 333.2 897.4 332.9 897.8 333.6 898.2 332.9 898.6 333.6 898.9 333.3 899.3 333.6 899.7 333.7 900.1 333.9 900.5 333.3 900.9 333.3 901.3 333.4 901.7 332.9 902.1 333.6 902.5 333.5 902.9 333.0 903.3 333.9 903.7 333.9 904.1 333.0 904.5 333.6 904.9 333.9 905.3 333.7 905.7 333.1 906.1 333.0 906.5 333.4 906.9 333.3 907.3 333.4 907.6 333.4 908.0 333.6 908.4 333.3 908.8 333.4 909.2 334.5 909.6 333.4 910.0 333.7 910.4 333.6 910.8 333.5 911.2 333.1 911.6 333.6 912.0 333.4 912.4 333.7 912.8 334.2 913.2 333.5 913.6 333.7 914.0 333.1 914.4 333.5 914.8 334.0 915.2 333.4 915.6 333.2 915.9 333.5 916.3 333.4 916.7 333.4 917.1 333.3 917.5 334.2 917.9 333.2 918.3 333.3 918.7 333.3 919.1 333.9 919.5 333.4 919.9 333.9 920.3 333.5 920.7 333.5 921.1 333.0 921.5 333.9 921.9 333.7 922.3 333.6 922.7 333.4 923.1 333.3 923.5 333.0 923.9 333.8 924.2 333.6 924.6 333.3 925.0 333.3 925.4 333.5 925.8 333.4 926.2 334.1 926.6 333.7 927.0 333.3 927.4 333.1 927.8 333.4 928.2 333.2 928.6 333.5 929.0 333.6 929.4 333.7 929.8 333.6 930.2 333.4 930.6 333.7 931.0 333.2 931.4 333.5 931.8 333.8 932.2 333.6 932.6 333.0 932.9 333.1 933.3 332.9 933.7 334.1 934.1 332.9 934.5 333.4 934.9 334.1 935.3 333.9 935.7 334.0 936.1 333.3 936.5 333.8 936.9 334.6 937.3 333.5 937.7 333.6 938.1 333.4 938.5 333.5 938.9 333.6 939.3 334.0 939.7 333.2 940.1 333.0 940.5 333.5 940.9 333.6 941.2 334.0 941.6 333.8 942.0 333.3 942.4 333.7 942.8 333.9 943.2 333.6 943.6 333.4 944.0 333.7 944.4 333.4 944.8 332.9 945.2 334.0 945.6 333.1 946.0 333.4 946.4 333.4 946.8 333.4 947.2 333.4 947.6 333.0 948.0 333.7 948.4 333.5 948.8 333.5 949.2 333.9 949.6 333.9 949.9 334.0 950.3 334.2 950.7 333.7 951.1 333.0 951.5 333.6 951.9 333.5 952.3 333.5 952.7 333.3 953.1 333.2 953.5 333.8 953.9 333.8 954.3 333.1 954.7 333.7 955.1 333.4 955.5 333.4 955.9 333.7 956.3 333.5 956.7 333.3 957.1 333.5 957.5 332.8 957.9 333.3 958.2 333.3 958.6 333.0 959.0 333.6 959.4 333.6 959.8 333.3 960.2 333.4 960.6 333.7 961.0 333.9 961.4 333.2 961.8 333.6 962.2 333.8 962.6 333.5 963.0 333.2 963.4 333.2 963.8 333.4 964.2 333.1 964.6 334.2 965.0 333.3 965.4 333.6 965.8 333.5 966.2 333.7 966.6 333.3 966.9 333.0 967.3 334.0 967.7 333.4 968.1 333.4 968.5 333.5 968.9 333.8 969.3 333.6 969.7 333.8 970.1 333.6 970.5 333.4 970.9 333.4 971.3 333.0 971.7 332.6 972.1 333.1 972.5 332.8 972.9 334.0 973.3 333.6 973.7 333.4 974.1 332.6 974.5 333.4 974.9 331.8 975.2 331.6 975.6 331.2 976.0 330.6 976.4 330.2 976.8 329.3 977.2 329.0 977.6 327.9 978.0 327.3 978.4 326.7 978.8 326.6 979.2 327.0 979.6 327.5 980.0 328.7 980.4 329.7 980.8 330.9 981.2 330.7 981.6 331.4 982.0 332.3 982.4 332.2 982.8 332.9 983.2 332.8 983.6 332.8 983.9 332.6 984.3 333.1 984.7 333.0 985.1 333.0 985.5 333.1 985.9 333.4 986.3 333.4 986.7 332.8 987.1 333.3 987.5 333.5 987.9 333.8 988.3 333.7 988.7 333.5 989.1 333.0 989.5 333.2 989.9 333.8 990.3 333.2 990.7 333.8 991.1 333.9 991.5 333.1 991.9 333.6 992.2 333.4 992.6 334.2 993.0 333.8 993.4 333.3 993.8 333.6 994.2 333.2 994.6 333.5 995.0 333.6 995.4 333.6 995.8 333.6 996.2 333.2 996.6 332.9 997.0 333.4 997.4 333.2 997.8 333.3 998.2 334.3 998.6 333.9 999.0 333.5 999.4 333.0 999.8 333.1 1000.2 333.7 1000.6 333.9 1000.9 333.4 1001.3 333.6 1001.7 333.6 1002.1 333.9 1002.5 332.9 1002.9 333.6 1003.3 333.7 1003.7 333.9 1004.1 333.7 1004.5 333.2 1004.9 333.3 1005.3 333.0 1005.7 333.6 1006.1 333.6 1006.5 333.7 1006.9 333.2 1007.3 333.1 1007.7 334.1 1008.1 333.6 1008.5 334.2 1008.9 333.7 1009.2 333.0 1009.6 333.8 1010.0 334.0 1010.4 333.4 1010.8 332.9 1011.2 333.8 1011.6 333.5 1012.0 333.7 1012.4 332.6 1012.8 333.7 1013.2 332.6 1013.6 333.3 1014.0 333.9 1014.4 332.9 1014.8 332.9 1015.2 333.4 1015.6 334.1 1016.0 334.1 1016.4 333.3 1016.8 333.9 1017.2 333.8 1017.6 333.7 1017.9 333.7 1018.3 333.3 1018.7 333.8 1019.1 333.9 1019.5 334.5 1019.9 333.9 1020.3 332.7 1020.7 333.1 1021.1 333.7 1021.5 333.6 1021.9 332.9 1022.3 333.5 1022.7 333.4 1023.1 333.6 1023.5 333.5 1023.9 333.9 1024.3 334.1 1024.7 333.8 1025.1 333.2 1025.5 333.3 1025.9 333.3 1026.2 333.6 1026.6 333.4 1027.0 333.4 1027.4 333.2 1027.8 333.9 1028.2 333.9 1028.6 333.9 1029.0 333.5 1029.4 333.7 1029.8 333.3 1030.2 333.2 1030.6 333.4 1031.0 333.8 1031.4 333.5 1031.8 333.2 1032.2 333.6 1032.6 333.7 1033.0 333.6 1033.4 333.3 1033.8 333.6 1034.2 333.4 1034.5 333.5 1034.9 333.5 1035.3 333.8 1035.7 334.2 1036.1 334.1 1036.5 333.8 1036.9 333.4 1037.3 333.5 1037.7 333.5 1038.1 334.0 1038.5 332.6 1038.9 333.7 1039.3 332.9 1039.7 333.6 1040.1 334.0 1040.5 333.3 1040.9 332.8 1041.3 334.0 1041.7 334.1 1042.1 333.8 1042.5 334.0 1042.9 333.3 1043.2 334.0 1043.6 334.2 1044.0 333.8 1044.4 333.7 1044.8 334.0 1045.2 334.0 1045.6 333.3 1046.0 334.1 1046.4 333.8 1046.8 333.6 1047.2 334.0 1047.6 333.9 1048.0 333.9 1048.4 333.4 1048.8 333.9 1049.2 333.2 1049.6 333.5 1050.0 333.0 1050.4 333.0 1050.8 333.7 1051.2 333.6 1051.5 333.6 1051.9 333.8 1052.3 333.7 1052.7 333.3 1053.1 333.6 1053.5 333.6 1053.9 333.4 1054.3 333.6 1054.7 333.5 1055.1 333.4 1055.5 333.5 1055.9 333.7 1056.3 334.3 1056.7 333.3 1057.1 333.8 1057.5 333.1 1057.9 334.2 1058.3 333.5 1058.7 333.6 1059.1 334.0 1059.5 333.9 1059.9 333.1 1060.2 333.8 1060.6 333.5 1061.0 333.8 1061.4 333.7 1061.8 333.9 1062.2 333.7 1062.6 333.6 1063.0 334.0 1063.4 333.1 1063.8 333.4 1064.2 333.3 1064.6 333.5 1065.0 333.4 1065.4 333.5 1065.8 333.4 1066.2 333.4 1066.6 333.0 1067.0 333.6 1067.4 333.7 1067.8 333.4 1068.2 333.4 1068.5 333.4 1068.9 334.2 1069.3 333.7 1069.7 333.7 1070.1 333.5 1070.5 333.4 1070.9 333.3 1071.3 334.1 1071.7 333.0 1072.1 333.7 1072.5 333.6 1072.9 333.5 1073.3 333.1 1073.7 333.2 1074.1 333.9 1074.5 333.4 1074.9 333.9 1075.3 333.8 1075.7 333.8 1076.1 333.9 1076.5 333.2 1076.9 333.4 1077.2 333.8 1077.6 333.2 1078.0 334.2 1078.4 333.4 1078.8 333.6 1079.2 333.2 1079.6 333.7 1080.0 333.4 1080.4 333.5 1080.8 333.2 1081.2 334.0 1081.6 333.0 1082.0 333.8 1082.4 333.7 1082.8 333.8 1083.2 333.3 1083.6 334.0 1084.0 333.9 1084.4 333.7 1084.8 333.7 1085.2 333.6 1085.5 333.8 1085.9 333.3 1086.3 333.8 1086.7 333.8 1087.1 333.1 1087.5 332.7 1087.9 333.6 1088.3 333.6 1088.7 334.0 1089.1 333.6 1089.5 333.4 1089.9 333.1 1090.3 333.6 1090.7 333.4 1091.1 333.2 1091.5 333.6 1091.9 334.0 1092.3 333.6 1092.7 333.2 1093.1 333.7 1093.5 333.2 1093.9 333.1 1094.2 333.8 1094.6 333.4 1095.0 334.0 1095.4 333.7 1095.8 333.3 1096.2 333.7 1096.6 334.1 1097.0 333.5 1097.4 333.2 1097.8 333.4 1098.2 333.3 1098.6 333.2 1099.0 333.2 1099.4 333.8 1099.8 334.0 1100.2 333.5 1100.6 333.9 1101.0 333.9 1101.4 334.2 1101.8 333.6 1102.2 333.5 1102.5 333.8 1102.9 333.7 1103.3 333.7 1103.7 334.1 1104.1 333.5 1104.5 333.7 1104.9 333.3 1105.3 333.6 1105.7 333.4 1106.1 333.4 1106.5 333.5 1106.9 333.5 1107.3 333.7 1107.7 333.9 1108.1 333.1 1108.5 334.0 1108.9 332.8 1109.3 333.7 1109.7 333.9 1110.1 333.4 1110.5 333.5 1110.9 333.3 1111.2 333.9 1111.6 332.5 1112.0 333.3 1112.4 332.9 1112.8 333.7 1113.2 334.1 1113.6 334.0 1114.0 333.9 1114.4 333.7 1114.8 333.4 1115.2 334.0 1115.6 333.8 1116.0 333.3 1116.4 333.2 1116.8 333.4 1117.2 334.0 1117.6 334.1 1118.0 334.2 1118.4 333.3 1118.8 333.5 1119.2 334.1 1119.5 333.7 1119.9 333.9 1120.3 333.2 1120.7 333.5 1121.1 333.6 1121.5 333.5 1121.9 333.5 1122.3 333.0 1122.7 334.2 1123.1 333.7 1123.5 333.1 1123.9 334.0 1124.3 333.6 1124.7 333.9 1125.1 333.6 1125.5 333.3 1125.9 333.4 1126.3 333.7 1126.7 333.9 1127.1 333.8 1127.5 333.8 1127.9 334.0 1128.2 333.7 1128.6 334.0 1129.0 334.0 1129.4 333.7 1129.8 333.6 1130.2 333.5 1130.6 333.2 1131.0 333.1 1131.4 334.1 1131.8 333.6 1132.2 333.4 1132.6 334.2 1133.0 334.0 1133.4 333.6 1133.8 334.0 1134.2 333.5 1134.6 333.7 1135.0 334.3 1135.4 334.0 1135.8 333.5 1136.2 333.9 1136.5 334.0 1136.9 333.6 1137.3 333.5 1137.7 334.3 1138.1 333.5 1138.5 333.1 1138.9 333.7 1139.3 334.4 1139.7 333.8 1140.1 333.9 1140.5 332.8 1140.9 333.4 1141.3 334.0 1141.7 333.4 1142.1 334.0 1142.5 333.7 1142.9 333.7 1143.3 334.1 1143.7 333.4 1144.1 333.4 1144.5 333.6 1144.8 333.6 1145.2 332.9 1145.6 333.9 1146.0 333.5 1146.4 333.3 1146.8 333.6 1147.2 333.2 1147.6 333.7 1148.0 333.1 1148.4 333.2 1148.8 332.5 1149.2 332.4 1149.6 332.2 1150.0 331.3 1150.4 330.8 1150.8 330.3 1151.2 330.0 1151.6 329.2 1152.0 328.7 1152.4 328.3 1152.8 328.6 1153.2 329.3 1153.5 329.4 1153.9 330.2 1154.3 331.0 1154.7 330.7 1155.1 331.9 1155.5 332.5 1155.9 332.9 1156.3 332.8 1156.7 333.4 1157.1 333.0 1157.5 333.2 1157.9 333.9 1158.3 332.9 1158.7 333.4 1159.1 333.4 1159.5 333.4 1159.9 333.3 1160.3 333.7 1160.7 333.1 1161.1 333.1 1161.5 333.7 1161.8 333.1 1162.2 333.7 1162.6 333.6 1163.0 333.3 1163.4 333.5 1163.8 333.5 1164.2 333.7 1164.6 333.4 1165.0 333.5 1165.4 333.1 1165.8 333.5 1166.2 332.9 1166.6 333.6 1167.0 333.4 1167.4 334.3 1167.8 334.1 1168.2 333.6 1168.6 333.9 1169.0 333.7 1169.4 333.2 1169.8 332.8 1170.2 334.0 1170.5 333.7 1170.9 332.9 1171.3 333.8 1171.7 333.9 1172.1 333.4 1172.5 333.9 1172.9 333.0 1173.3 333.5 1173.7 333.6 1174.1 333.9 1174.5 333.8 1174.9 333.7 1175.3 333.8 1175.7 333.4 1176.1 334.1 1176.5 333.5 1176.9 333.9 1177.3 333.6 1177.7 333.5 1178.1 333.8 1178.5 333.8 1178.8 334.1 1179.2 334.0 1179.6 333.4 1180.0 333.8 1180.4 333.6 1180.8 333.3 1181.2 333.2 1181.6 333.7 1182.0 333.4 1182.4 333.1 1182.8 333.6 1183.2 333.7 1183.6 333.6 1184.0 333.2 1184.4 333.4 1184.8 334.1 1185.2 333.3 1185.6 333.5 1186.0 334.4 1186.4 333.7 1186.8 333.4 1187.2 332.9 1187.5 333.7 1187.9 333.1 1188.3 333.6 1188.7 333.3 1189.1 333.0 1189.5 334.2 1189.9 333.6 1190.3 333.9 1190.7 333.8 1191.1 333.3 1191.5 333.6 1191.9 333.5 1192.3 333.9 1192.7 333.7 1193.1 333.4 1193.5 334.2 1193.9 333.8 1194.3 333.7 1194.7 333.3 1195.1 333.7 1195.5 333.0 1195.8 333.7 1196.2 333.2 1196.6 333.6 1197.0 333.5 1197.4 333.6 1197.8 333.7 1198.2 333.5 1198.6 333.5 1199.0 333.0 1199.4 332.9 1199.8 334.0 1200.2 333.7 1200.6 333.0 1201.0 334.2 1201.4 333.3 1201.8 333.7 1202.2 333.6 1202.6 333.5 1203.0 333.7 1203.4 333.0 1203.8 333.5 1204.2 333.4 1204.5 333.5 1204.9 333.4 1205.3 333.2 1205.7 333.2 1206.1 333.7 1206.5 333.1 1206.9 333.5 1207.3 333.5 1207.7 333.4 1208.1 333.5 1208.5 333.6 1208.9 333.2 1209.3 333.5 1209.7 334.0 1210.1 332.9 1210.5 333.2 1210.9 333.0 1211.3 334.0 1211.7 332.8 1212.1 333.2 1212.5 333.5 1212.8 332.9 1213.2 333.1 1213.6 332.9 1214.0 332.6 1214.4 333.0 1214.8 333.2 1215.2 332.8 1215.6 333.0 1216.0 333.1 1216.4 333.3 1216.8 332.4 1217.2 332.9 1217.6 332.4 1218.0 331.9 1218.4 332.2 1218.8 332.6 1219.2 332.4 1219.6 331.8 1220.0 332.6 1220.4 332.0 1220.8 331.7 1221.2 331.3 1221.5 331.4 1221.9 330.8 1222.3 331.0 1222.7 330.3 1223.1 329.8 1223.5 328.8 1223.9 327.3 1224.3 326.5 1224.7 323.7 1225.1 320.5 1225.5 315.4 1225.9 308.1 1226.3 299.6 1226.7 287.9 1227.1 277.5 1227.5 266.9 1227.9 262.0 1228.3 262.9 1228.7 267.8 1229.1 275.5 1229.5 282.8 1229.8 287.0 1230.2 289.1 1230.6 288.9 1231.0 289.7 1231.4 293.1 1231.8 298.2 1232.2 303.7 1232.6 309.9 1233.0 315.8 1233.4 320.5 1233.8 323.9 1234.2 326.0 1234.6 327.2 1235.0 329.5 1235.4 329.7 1235.8 330.8 1236.2 330.1 1236.6 331.3 1237.0 331.3 1237.4 331.3 1237.8 332.2 1238.1 332.5 1238.5 332.0 1238.9 332.5 1239.3 332.0 1239.7 332.3 1240.1 332.5 1240.5 332.5 1240.9 333.0 1241.3 332.4 1241.7 333.2 1242.1 333.2 1242.5 332.9 1242.9 332.6 1243.3 332.2 1243.7 333.1 1244.1 332.9 1244.5 333.2 1244.9 332.8 1245.3 333.2 1245.7 333.2 1246.1 333.2 1246.5 333.4 1246.8 333.4 1247.2 333.6 1247.6 333.0 1248.0 333.6 1248.4 333.4 1248.8 333.2 1249.2 333.0 1249.6 333.9 1250.0 333.5 1250.4 333.2 1250.8 333.4 1251.2 333.4 1251.6 333.3 1252.0 333.0 1252.4 333.5 1252.8 333.4 1253.2 333.4 1253.6 333.8 1254.0 333.0 1254.4 333.2 1254.8 333.6 1255.1 333.8 1255.5 333.7 1255.9 333.8 1256.3 332.8 1256.7 333.7 1257.1 333.7 1257.5 333.8 1257.9 333.3 1258.3 333.7 1258.7 333.9 1259.1 334.1 1259.5 333.7 1259.9 333.1 1260.3 333.6 1260.7 333.8 1261.1 333.8 1261.5 334.2 1261.9 333.5 1262.3 333.2 1262.7 333.4 1263.1 333.8 1263.5 333.3 1263.8 333.2 1264.2 333.3 1264.6 334.0 1265.0 333.7 1265.4 333.5 1265.8 333.9 1266.2 333.9 1266.6 333.3 1267.0 333.9 1267.4 333.7 1267.8 332.9 1268.2 333.2 1268.6 333.7 1269.0 333.8 1269.4 333.5 1269.8 333.3 1270.2 333.7 1270.6 333.0 1271.0 333.8 1271.4 333.6 1271.8 333.6 1272.1 333.4 1272.5 333.9 1272.9 332.8 1273.3 333.4 1273.7 333.9 1274.1 333.4 1274.5 334.2 1274.9 333.8 1275.3 333.4 1275.7 334.0 1276.1 333.6 1276.5 333.9 1276.9 333.5 1277.3 333.5 1277.7 333.9 1278.1 333.7 1278.5 333.4 1278.9 333.4 1279.3 333.9 1279.7 334.3 1280.1 333.4 1280.5 333.9 1280.8 332.7 1281.2 333.2 1281.6 333.9 1282.0 334.2 1282.4 333.7 1282.8 333.9 1283.2 333.8 1283.6 334.0 1284.0 333.3 1284.4 333.9 1284.8 333.5 1285.2 333.6 1285.6 333.7 1286.0 333.6 1286.4 333.4 1286.8 333.6 1287.2 333.4 1287.6 334.2 1288.0 333.9 1288.4 333.6 1288.8 334.2 1289.1 334.1 1289.5 333.9 1289.9 333.5 1290.3 333.8 1290.7 333.9 1291.1 334.2 1291.5 333.6 1291.9 333.5 1292.3 334.5 1292.7 334.2 1293.1 333.8 1293.5 333.4 1293.9 333.9 1294.3 334.1 1294.7 334.0 1295.1 334.0 1295.5 333.7 1295.9 334.1 1296.3 333.5 1296.7 333.6 1297.1 333.5 1297.5 333.5 1297.8 334.4 1298.2 333.1 1298.6 333.8 1299.0 333.4 1299.4 333.3 1299.8 333.7 1300.2 333.2 1300.6 333.7 1301.0 334.5 1301.4 333.7 1301.8 333.9 1302.2 333.4 1302.6 333.9 1303.0 333.2 1303.4 333.8 1303.8 333.7 1304.2 334.5 1304.6 333.7 1305.0 333.6 1305.4 333.5 1305.8 333.3 1306.1 334.0 1306.5 334.2 1306.9 333.6 1307.3 334.0 1307.7 333.6 1308.1 333.9 1308.5 333.9 1308.9 333.2 1309.3 333.4 1309.7 334.0 1310.1 333.0 1310.5 333.7 1310.9 333.6 1311.3 333.4 1311.7 333.7 1312.1 333.8 1312.5 333.9 1312.9 332.8 1313.3 334.3 1313.7 333.5 1314.1 334.1 1314.5 333.7 1314.8 333.5 1315.2 333.7 1315.6 334.8 1316.0 334.3 1316.4 333.6 1316.8 333.8 1317.2 334.1 1317.6 333.9 1318.0 333.7 1318.4 333.6 1318.8 333.3 1319.2 334.0 1319.6 334.1 1320.0 334.5 1320.4 333.5 1320.8 333.9 1321.2 333.7 1321.6 334.2 1322.0 333.7 1322.4 333.5 1322.8 333.1 1323.1 334.0 1323.5 333.8 1323.9 334.1 1324.3 333.5 1324.7 334.6 1325.1 333.5 1325.5 333.9 1325.9 333.9 1326.3 334.1 1326.7 333.7 1327.1 333.4 1327.5 333.4 1327.9 334.0 1328.3 333.8 1328.7 333.8 1329.1 333.4 1329.5 333.8 1329.9 333.8 1330.3 333.9 1330.7 333.2 1331.1 333.5 1331.5 334.3 1331.8 333.6 1332.2 333.7 1332.6 333.6 1333.0 333.2 1333.4 333.3 1333.8 333.9 1334.2 333.5 1334.6 334.4 1335.0 333.2 1335.4 333.0 1335.8 333.6 1336.2 333.3 1336.6 334.2 1337.0 333.6 1337.4 333.9 1337.8 333.2 1338.2 334.0 1338.6 333.9 1339.0 334.2 1339.4 333.8 1339.8 333.9 1340.1 333.8 1340.5 334.0 1340.9 333.6 1341.3 333.9 1341.7 333.5 1342.1 334.0 1342.5 333.6 1342.9 333.5 1343.3 333.5 1343.7 334.2 1344.1 333.2 1344.5 333.2 1344.9 333.9 1345.3 333.4 1345.7 333.6 1346.1 333.5 1346.5 334.5 1346.9 333.5 1347.3 333.5 1347.7 333.6 1348.1 333.8 1348.4 333.9 1348.8 333.2 1349.2 333.9 1349.6 334.4 1350.0 333.1 1350.4 333.9 1350.8 334.0 1351.2 333.8 1351.6 333.7 1352.0 332.9 1352.4 334.1 1352.8 333.6 1353.2 333.7 1353.6 334.2 1354.0 332.9 1354.4 333.7 1354.8 333.9 1355.2 334.0 1355.6 333.9 1356.0 334.4 1356.4 333.8 1356.8 334.1 1357.1 334.0 1357.5 333.2 1357.9 333.5 1358.3 334.5 1358.7 333.6 1359.1 333.7 1359.5 333.3 1359.9 333.6 1360.3 333.3 1360.7 333.5 1361.1 333.9 1361.5 333.4 1361.9 333.5 1362.3 334.2 1362.7 333.9 1363.1 333.9 1363.5 334.1 1363.9 333.5 1364.3 333.6 1364.7 333.0 1365.1 334.0 1365.4 333.7 1365.8 333.7 1366.2 333.3 1366.6 333.9 1367.0 334.0 1367.4 333.8 1367.8 333.2 1368.2 333.4 1368.6 333.7 1369.0 333.4 1369.4 333.9 1369.8 334.1 1370.2 333.5 1370.6 333.7 1371.0 333.5 1371.4 334.1 1371.8 334.0 1372.2 334.7 1372.6 333.7 1373.0 333.4 1373.4 333.9 1373.8 333.7 1374.1 333.8 1374.5 334.2 1374.9 333.6 1375.3 334.0 1375.7 333.0 1376.1 334.1 1376.5 333.8 1376.9 333.6 1377.3 333.6 1377.7 334.2 1378.1 333.6 1378.5 334.2 1378.9 333.6 1379.3 333.7 1379.7 333.9 1380.1 334.4 1380.5 333.8 1380.9 333.8 1381.3 333.7 1381.7 333.6 1382.1 333.5 1382.4 334.4 1382.8 334.3 1383.2 333.5 1383.6 333.8 1384.0 333.3 1384.4 334.1 1384.8 334.0 1385.2 333.8 1385.6 333.5 1386.0 334.0 1386.4 334.0 1386.8 333.7 1387.2 334.0 1387.6 333.3 1388.0 333.5 1388.4 333.4 1388.8 333.8 1389.2 334.3 1389.6 333.8 1390.0 334.1 1390.4 333.7 1390.8 333.6 1391.1 334.1 1391.5 333.9 1391.9 334.2 1392.3 334.1 1392.7 333.4 1393.1 332.8 1393.5 333.8 1393.9 333.3 1394.3 333.2 1394.7 333.2 1395.1 333.5 1395.5 333.7 1395.9 333.7 1396.3 334.4 1396.7 333.3 1397.1 333.7 1397.5 333.3 1397.9 333.4 1398.3 333.8 1398.7 333.9 1399.1 333.3 1399.4 334.1 1399.8 333.4 1400.2 334.1 1400.6 333.7 1401.0 334.0 1401.4 333.9 1401.8 333.6 1402.2 333.9 1402.6 333.3 1403.0 333.3 1403.4 333.6 1403.8 334.2 1404.2 333.5 1404.6 333.5 1405.0 334.3 1405.4 333.7 1405.8 333.7 1406.2 333.4 1406.6 333.7 1407.0 333.9 1407.4 333.7 1407.8 334.0 1408.1 333.8 1408.5 334.1 1408.9 334.0 1409.3 333.7 1409.7 334.0 1410.1 334.3 1410.5 333.8 1410.9 333.3 1411.3 333.8 1411.7 333.6 1412.1 334.6 1412.5 334.0 1412.9 333.3 1413.3 333.6 1413.7 334.2 1414.1 333.3 1414.5 333.5 1414.9 333.7 1415.3 333.7 1415.7 333.5 1416.1 333.8 1416.4 333.2 1416.8 333.5 1417.2 333.5 1417.6 333.6 1418.0 333.6 1418.4 333.7 1418.8 333.6 1419.2 333.5 1419.6 333.8 1420.0 334.0 1420.4 334.0 1420.8 333.3 1421.2 333.8 1421.6 333.9 1422.0 333.6 1422.4 333.8 1422.8 333.6 1423.2 333.8 1423.6 333.1 1424.0 333.8 1424.4 333.5 1424.8 333.4 1425.1 333.6 1425.5 334.0 1425.9 334.0 1426.3 333.8 1426.7 334.0 1427.1 333.5 1427.5 333.2 1427.9 333.0 1428.3 333.6 1428.7 333.6 1429.1 333.7 1429.5 333.7 1429.9 334.1 1430.3 333.3 1430.7 333.4 1431.1 334.3 1431.5 333.9 1431.9 333.5 1432.3 332.9 1432.7 333.3 1433.1 333.5 1433.4 333.6 1433.8 333.7 1434.2 333.5 1434.6 334.0 1435.0 333.2 1435.4 333.5 1435.8 333.3 1436.2 333.9 1436.6 333.6 1437.0 333.8 1437.4 333.6 1437.8 334.9 1438.2 333.8 1438.6 333.3 1439.0 333.5 1439.4 333.4 1439.8 333.8 1440.2 333.9 1440.6 333.6 1441.0 333.4 1441.4 333.3 1441.7 334.0 1442.1 333.9 1442.5 332.4 1442.9 333.5 1443.3 333.1 1443.7 333.3 1444.1 334.0 1444.5 333.0 1444.9 333.0 1445.3 334.2 1445.7 333.2 1446.1 333.2 1446.5 333.7 1446.9 333.1 1447.3 333.2 1447.7 333.3 1448.1 333.6 1448.5 332.5 1448.9 332.8 1449.3 333.0 1449.7 333.3 1450.1 332.7 1450.4 333.0 1450.8 332.6 1451.2 332.6 1451.6 333.1 1452.0 332.4 1452.4 333.4 1452.8 332.4 1453.2 332.5 1453.6 332.2 1454.0 331.2 1454.4 331.0 1454.8 331.4 1455.2 330.4 1455.6 330.1 1456.0 329.5 1456.4 328.4 1456.8 327.7 1457.2 325.5 1457.6 322.4 1458.0 318.6 1458.4 313.1 1458.7 307.7 1459.1 300.4 1459.5 294.6 1459.9 288.4 1460.3 285.6 1460.7 286.8 1461.1 290.1 1461.5 294.5 1461.9 300.0 1462.3 303.8 1462.7 306.3 1463.1 307.5 1463.5 307.3 1463.9 306.8 1464.3 306.3 1464.7 307.1 1465.1 309.3 1465.5 313.2 1465.9 316.0 1466.3 320.5 1466.7 323.7 1467.1 326.2 1467.4 327.3 1467.8 329.5 1468.2 330.2 1468.6 330.9 1469.0 332.2 1469.4 331.5 1469.8 331.9 1470.2 331.5 1470.6 331.4 1471.0 332.4 1471.4 332.6 1471.8 332.8 1472.2 332.8 1472.6 332.0 1473.0 332.9 1473.4 333.3 1473.8 333.5 1474.2 332.7 1474.6 332.7 1475.0 332.9 1475.4 332.9 1475.7 332.6 1476.1 333.0 1476.5 333.8 1476.9 332.9 1477.3 332.6 1477.7 333.2 1478.1 333.2 1478.5 333.6 1478.9 333.1 1479.3 333.3 1479.7 333.1 1480.1 333.1 1480.5 333.6 1480.9 333.5 1481.3 333.5 1481.7 333.7 1482.1 333.2 1482.5 333.5 1482.9 333.6 1483.3 333.9 1483.7 332.9 1484.1 333.4 1484.4 333.7 1484.8 333.4 1485.2 333.6 1485.6 333.8 1486.0 333.7 1486.4 333.0 1486.8 333.2 1487.2 332.6 1487.6 333.8 1488.0 333.7 1488.4 334.1 1488.8 333.6 1489.2 333.2 1489.6 334.0 1490.0 333.2 1490.4 333.6 1490.8 333.6 1491.2 333.9 1491.6 334.0 1492.0 333.5 1492.4 333.4 1492.7 333.6 1493.1 333.5 1493.5 334.0 1493.9 333.8 1494.3 334.2 1494.7 334.6 1495.1 333.4 1495.5 333.5 1495.9 333.8 1496.3 333.8 1496.7 333.6 1497.1 333.1 1497.5 334.6 1497.9 333.7 1498.3 333.3 1498.7 332.8 1499.1 334.2 1499.5 333.8 1499.9 333.7 1500.3 333.3 1500.7 333.7 1501.1 333.6 1501.4 332.8 1501.8 334.6 1502.2 333.9 1502.6 333.6 1503.0 333.4 1503.4 333.5 1503.8 334.6 1504.2 333.8 1504.6 333.2 1505.0 334.0 1505.4 333.9 1505.8 333.9 1506.2 333.7 1506.6 333.6 1507.0 333.8 1507.4 333.6 1507.8 333.2 1508.2 333.4 1508.6 333.7 1509.0 333.1 1509.4 333.7 1509.7 333.6 1510.1 334.0 1510.5 333.8 1510.9 333.6 1511.3 333.6 1511.7 333.9 1512.1 334.0 1512.5 333.3 1512.9 333.2 1513.3 333.4 1513.7 332.9 1514.1 333.4 1514.5 334.0 1514.9 334.0 1515.3 334.2 1515.7 333.7 1516.1 333.8 1516.5 333.5 1516.9 333.5 1517.3 333.8 1517.7 334.0 1518.1 333.8 1518.4 333.0 1518.8 333.9 1519.2 333.7 1519.6 333.5 1520.0 333.7 1520.4 334.0 1520.8 333.7 1521.2 333.4 1521.6 334.8 1522.0 333.4 1522.4 333.8 1522.8 334.1 1523.2 333.3 1523.6 333.8 1524.0 333.3 1524.4 333.5 1524.8 333.3 1525.2 334.2 1525.6 333.1 1526.0 333.7 1526.4 333.6 1526.7 332.8 1527.1 334.1 1527.5 333.3 1527.9 333.3 1528.3 333.5 1528.7 333.0 1529.1 333.0 1529.5 333.1 1529.9 332.7 1530.3 332.8 1530.7 332.9 1531.1 331.8 1531.5 331.1 1531.9 331.1 1532.3 330.6 1532.7 330.0 1533.1 328.7 1533.5 327.6 1533.9 328.3 1534.3 328.0 1534.7 328.4 1535.1 327.9 1535.4 329.1 1535.8 329.9 1536.2 329.6 1536.6 331.3 1537.0 332.0 1537.4 332.2 1537.8 332.6 1538.2 332.9 1538.6 332.8 1539.0 332.6 1539.4 332.9 1539.8 333.2 1540.2 333.1 1540.6 333.8 1541.0 333.3 1541.4 333.5 1541.8 332.9 1542.2 333.7 1542.6 333.3 1543.0 334.1 1543.4 333.0 1543.7 333.7 1544.1 333.5 1544.5 333.5 1544.9 334.2 1545.3 334.0 1545.7 333.4 1546.1 334.2 1546.5 333.4 1546.9 334.0 1547.3 333.1 1547.7 333.6 1548.1 333.6 1548.5 333.6 1548.9 333.1 1549.3 333.0 1549.7 333.7 1550.1 333.9 1550.5 333.7 1550.9 333.6 1551.3 333.2 1551.7 333.6 1552.0 333.5 1552.4 333.5 1552.8 333.8 1553.2 333.8 1553.6 333.9 1554.0 333.6 1554.4 333.4 1554.8 333.7 1555.2 333.6 1555.6 333.2 1556.0 333.6 1556.4 333.2 1556.8 333.0 1557.2 333.5 1557.6 333.5 1558.0 334.0 1558.4 333.6 1558.8 333.9 1559.2 334.3 1559.6 333.8 1560.0 333.9 1560.4 333.5 1560.7 334.0 1561.1 333.8 1561.5 333.8 1561.9 333.4 1562.3 333.4 1562.7 333.5 1563.1 333.8 1563.5 334.1 1563.9 333.2 1564.3 333.6 1564.7 333.6 1565.1 334.6 1565.5 333.7 1565.9 333.6 1566.3 334.0 1566.7 333.4 1567.1 333.9 1567.5 333.2 1567.9 334.5 1568.3 333.7 1568.7 333.6 1569.0 333.3 1569.4 333.7 1569.8 333.8 1570.2 333.5 1570.6 334.2 1571.0 333.6 1571.4 333.8 1571.8 333.9 1572.2 334.2 1572.6 333.6 1573.0 333.8 1573.4 333.9 1573.8 334.0 1574.2 333.1 1574.6 334.2 1575.0 333.7 1575.4 333.5 1575.8 333.8 1576.2 333.1 1576.6 333.5 1577.0 333.8 1577.4 334.2 1577.7 333.7 1578.1 333.9 1578.5 333.7 1578.9 334.1 1579.3 333.6 1579.7 333.9 1580.1 333.7 1580.5 333.4 1580.9 333.4 1581.3 333.5 1581.7 334.2 1582.1 334.9 1582.5 333.7 1582.9 333.5 1583.3 334.0 1583.7 333.9 1584.1 333.6 1584.5 334.4 1584.9 334.1 1585.3 334.1 1585.7 333.8 1586.0 333.8 1586.4 334.1 1586.8 333.3 1587.2 333.5 1587.6 333.8 1588.0 333.3 1588.4 334.4 1588.8 333.6 1589.2 333.6 1589.6 333.9 1590.0 334.3 1590.4 333.8 1590.8 333.5 1591.2 333.5 1591.6 333.9 1592.0 333.6 1592.4 334.6 1592.8 334.2 1593.2 332.7 1593.6 333.5 1594.0 333.9 1594.4 334.6 1594.7 333.1 1595.1 333.6 1595.5 334.2 1595.9 333.5 1596.3 333.8 1596.7 333.6 1597.1 334.0 1597.5 333.4 1597.9 333.8 1598.3 333.3 1598.7 334.1 1599.1 334.0 1599.5 333.8 1599.9 333.8 1600.3 333.8 1600.7 333.7 1601.1 333.8 1601.5 333.9 1601.9 333.8 1602.3 333.6 1602.7 333.6 1603.0 333.6 1603.4 333.9 1603.8 333.8 1604.2 334.5 1604.6 333.7 1605.0 333.8 1605.4 333.6 1605.8 333.8 1606.2 333.6 1606.6 333.5 1607.0 333.8 1607.4 334.3 1607.8 333.5 1608.2 333.6 1608.6 333.8 1609.0 333.9 1609.4 334.2 1609.8 333.6 1610.2 333.7 1610.6 333.5 1611.0 333.5 1611.4 333.6 1611.7 333.4 1612.1 333.9 1612.5 334.2 1612.9 333.6 1613.3 333.5 1613.7 334.2 1614.1 333.7 1614.5 334.3 1614.9 332.8 1615.3 333.7 1615.7 333.4 1616.1 333.6 1616.5 334.1 1616.9 334.2 1617.3 333.7 1617.7 334.1 1618.1 333.4 1618.5 333.9 1618.9 333.7 1619.3 333.2 1619.7 334.1 1620.0 333.5 1620.4 333.9 1620.8 333.5 1621.2 333.8 1621.6 334.0 1622.0 333.8 1622.4 333.6 1622.8 334.0 1623.2 333.9 1623.6 333.6"/>
</defs>
<g fill="none" stroke="#4D4D4D" stroke-linejoin="round" stroke-linecap="butt" shape-rendering="crispEdges"><use href="#ck" stroke-width="4.1"/><use href="#ck" stroke-width="1.6"/></g>
<g fill="none" stroke="#EE4040" stroke-linejoin="round" stroke-linecap="butt" shape-rendering="crispEdges"><use href="#cr" stroke-width="4.1"/><use href="#cr" stroke-width="1.6"/></g>
<g fill="none" stroke="#1B6FDE" stroke-linejoin="round" stroke-linecap="butt" shape-rendering="crispEdges"><use href="#cb" stroke-width="4.1"/><use href="#cb" stroke-width="1.6"/></g>
<g fill="none" stroke="#37AE6C" stroke-linejoin="round" stroke-linecap="butt" shape-rendering="crispEdges"><use href="#cg" stroke-width="4.1"/><use href="#cg" stroke-width="1.6"/></g>
<path d="M124 24H1640V28.9H124Z M124 1138H1640V1142.8H124Z M124 24H128V1142.8H124Z M1636 24H1640V1142.8H1636Z" fill="#000"/>
<path d="M140.2 1129.2V1139 M239.0 1119V1139 M337.9 1129.2V1139 M436.7 1119V1139 M535.5 1129.2V1139 M634.4 1119V1139 M733.2 1129.2V1139 M832.1 1119V1139 M930.9 1129.2V1139 M1029.8 1119V1139 M1128.7 1129.2V1139 M1227.5 1119V1139 M1326.3 1129.2V1139 M1425.2 1119V1139 M1524.0 1129.2V1139 M1622.9 1119V1139" stroke="#000" stroke-width="4" fill="none"/>
<text x="239.3" y="1200" font-size="47" text-anchor="middle">10</text>
<text x="437.0" y="1200" font-size="47" text-anchor="middle">20</text>
<text x="634.7" y="1200" font-size="47" text-anchor="middle">30</text>
<text x="832.4" y="1200" font-size="47" text-anchor="middle">40</text>
<text x="1030.1" y="1200" font-size="47" text-anchor="middle">50</text>
<text x="1227.8" y="1200" font-size="47" text-anchor="middle">60</text>
<text x="1425.5" y="1200" font-size="47" text-anchor="middle">70</text>
<text x="1623.2" y="1200" font-size="47" text-anchor="middle">80</text>
<text x="880.5" y="1296.5" font-size="58" letter-spacing="1" text-anchor="middle">2θ(°)</text>
<text transform="translate(53.8 583.3) rotate(-90)" font-size="57.6" text-anchor="middle">Intensity(a.u.)</text>
<text x="230" y="306" font-size="56.5">1200°C</text>
<text x="236.3" y="584.3" font-size="57">1100°C</text>
<text x="233.5" y="809.2" font-size="56.5">1000°C</text>
<text x="226.5" y="1071.5" font-size="58">Original</text>
<text x="1360" y="96" font-size="58">SiO<tspan font-size="41" dx="-2.7" dy="15.2">2</tspan></text>
<text x="1551" y="96" font-size="58">C</text>
<text x="1374" y="186" font-size="58">Si</text>
<text x="1537" y="186" font-size="58">SiC</text>
<text transform="translate(452.52 300.90) scale(1.081 1)" font-size="45.21" font-family="'DejaVu Serif',serif">♣</text>
<text transform="translate(536.89 283.00) scale(1.033 1)" font-size="46.76" font-family="'DejaVu Serif',serif">♦</text>
<text transform="translate(585.46 287.90) scale(0.950 1)" font-size="43.70" font-family="'DejaVu Serif',serif">♥</text>
<text transform="translate(723.88 116.90) scale(1.151 1)" font-size="44.66" font-family="'DejaVu Serif',serif">♠</text>
<text transform="translate(840.62 299.00) scale(1.118 1)" font-size="45.21" font-family="'DejaVu Serif',serif">♠</text>
<text transform="translate(961.02 306.00) scale(0.988 1)" font-size="42.47" font-family="'DejaVu Serif',serif">♥</text>
<text transform="translate(1136.05 308.80) scale(0.945 1)" font-size="44.11" font-family="'DejaVu Serif',serif">♥</text>
<text transform="translate(1206.03 250.60) scale(1.175 1)" font-size="43.42" font-family="'DejaVu Serif',serif">♠</text>
<text transform="translate(1438.36 268.90) scale(1.153 1)" font-size="44.11" font-family="'DejaVu Serif',serif">♠</text>
<text transform="translate(1511.63 310.60) scale(1.172 1)" font-size="43.56" font-family="'DejaVu Serif',serif">♠</text>
<text transform="translate(1300.44 95.70) scale(1.091 1)" font-size="44.66" font-family="'DejaVu Serif',serif">♣</text>
<text transform="translate(1479.69 96.30) scale(1.000 1)" font-size="45.93" font-family="'DejaVu Serif',serif">♦</text>
<text transform="translate(1304.04 187.50) scale(0.963 1)" font-size="43.42" font-family="'DejaVu Serif',serif">♥</text>
<text transform="translate(1477.18 186.40) scale(1.176 1)" font-size="43.70" font-family="'DejaVu Serif',serif">♠</text>
</svg></body></html>
